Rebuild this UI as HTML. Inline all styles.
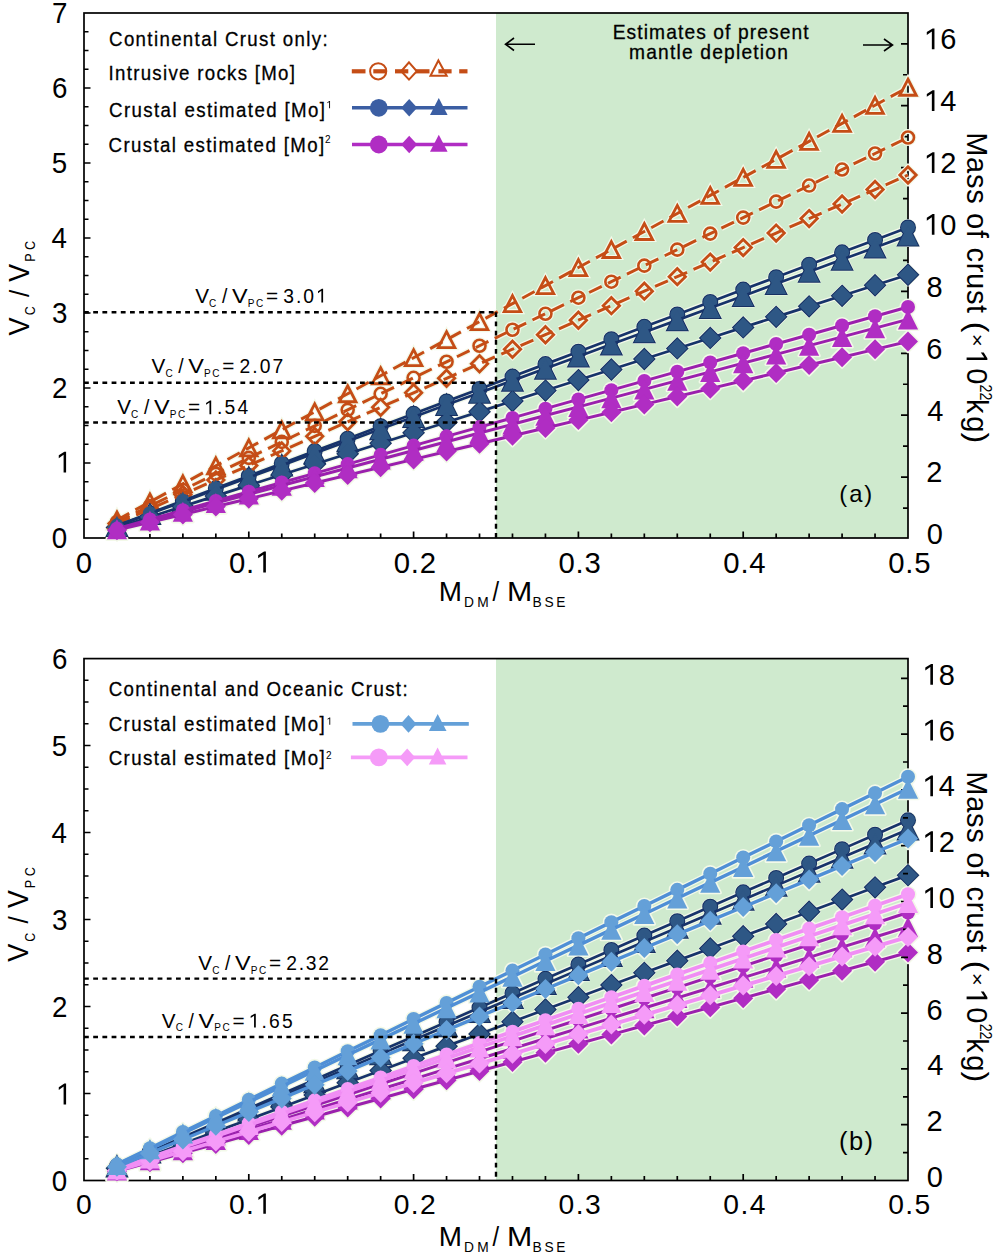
<!DOCTYPE html>
<html><head><meta charset="utf-8"><style>
html,body{margin:0;padding:0;background:#fff;}
svg{display:block;}
text{font-family:"Liberation Sans",sans-serif;}
</style></head><body>
<svg width="1000" height="1257" viewBox="0 0 1000 1257">
<rect width="1000" height="1257" fill="#fff"/>
<rect x="496.00" y="13.0" width="412.00" height="525.0" fill="#cfeace"/>
<rect x="84.0" y="13.0" width="824.0" height="525.0" fill="none" stroke="#000" stroke-width="1.7"/>
<path d="M84.0,519.25h4.5 M84.0,500.50h4.5 M84.0,481.75h4.5 M84.0,463.00h6.5 M84.0,444.25h4.5 M84.0,425.50h4.5 M84.0,406.75h4.5 M84.0,388.00h6.5 M84.0,369.25h4.5 M84.0,350.50h4.5 M84.0,331.75h4.5 M84.0,313.00h6.5 M84.0,294.25h4.5 M84.0,275.50h4.5 M84.0,256.75h4.5 M84.0,238.00h6.5 M84.0,219.25h4.5 M84.0,200.50h4.5 M84.0,181.75h4.5 M84.0,163.00h6.5 M84.0,144.25h4.5 M84.0,125.50h4.5 M84.0,106.75h4.5 M84.0,88.00h6.5 M84.0,69.25h4.5 M84.0,50.50h4.5 M84.0,31.75h4.5 M908.0,508.05h-5 M908.0,477.10h-7 M908.0,446.15h-5 M908.0,415.20h-7 M908.0,384.25h-5 M908.0,353.30h-7 M908.0,322.35h-5 M908.0,291.40h-7 M908.0,260.45h-5 M908.0,229.50h-7 M908.0,198.55h-5 M908.0,167.60h-7 M908.0,136.65h-5 M908.0,105.70h-7 M908.0,74.75h-5 M908.0,43.80h-7 M116.96,538.0v-4.5 M149.92,538.0v-4.5 M182.88,538.0v-4.5 M215.84,538.0v-4.5 M248.80,538.0v-6.5 M281.76,538.0v-4.5 M314.72,538.0v-4.5 M347.68,538.0v-4.5 M380.64,538.0v-4.5 M413.60,538.0v-6.5 M446.56,538.0v-4.5 M479.52,538.0v-4.5 M512.48,538.0v-4.5 M545.44,538.0v-4.5 M578.40,538.0v-6.5 M611.36,538.0v-4.5 M644.32,538.0v-4.5 M677.28,538.0v-4.5 M710.24,538.0v-4.5 M743.20,538.0v-6.5 M776.16,538.0v-4.5 M809.12,538.0v-4.5 M842.08,538.0v-4.5 M875.04,538.0v-4.5" stroke="#000" stroke-width="1.7" fill="none"/>
<path d="M116.96,519.97 L149.92,501.94 L182.88,483.91 L215.84,465.88 L248.80,447.85 L281.76,429.82 L314.72,411.79 L347.68,393.76 L380.64,375.73 L413.60,357.70 L446.56,339.67 L479.52,321.64 L512.48,303.61 L545.44,285.58 L578.40,267.55 L611.36,249.52 L644.32,231.49 L677.28,213.46 L710.24,195.43 L743.20,177.40 L776.16,159.37 L809.12,141.34 L842.08,123.31 L875.04,105.28 L908.00,87.25" fill="none" stroke="#f3f9e9" stroke-width="5.6" stroke-linejoin="round" stroke-dasharray="14 7"/>
<path d="M116.96,511.97L125.26,527.97L108.66,527.97Z" fill="none" stroke="#f3f9e9" stroke-width="5.199999999999999"/>
<path d="M149.92,493.94L158.22,509.94L141.62,509.94Z" fill="none" stroke="#f3f9e9" stroke-width="5.199999999999999"/>
<path d="M182.88,475.91L191.18,491.91L174.58,491.91Z" fill="none" stroke="#f3f9e9" stroke-width="5.199999999999999"/>
<path d="M215.84,457.88L224.14,473.88L207.54,473.88Z" fill="none" stroke="#f3f9e9" stroke-width="5.199999999999999"/>
<path d="M248.80,439.85L257.10,455.85L240.50,455.85Z" fill="none" stroke="#f3f9e9" stroke-width="5.199999999999999"/>
<path d="M281.76,421.82L290.06,437.82L273.46,437.82Z" fill="none" stroke="#f3f9e9" stroke-width="5.199999999999999"/>
<path d="M314.72,403.79L323.02,419.79L306.42,419.79Z" fill="none" stroke="#f3f9e9" stroke-width="5.199999999999999"/>
<path d="M347.68,385.76L355.98,401.76L339.38,401.76Z" fill="none" stroke="#f3f9e9" stroke-width="5.199999999999999"/>
<path d="M380.64,367.73L388.94,383.73L372.34,383.73Z" fill="none" stroke="#f3f9e9" stroke-width="5.199999999999999"/>
<path d="M413.60,349.70L421.90,365.70L405.30,365.70Z" fill="none" stroke="#f3f9e9" stroke-width="5.199999999999999"/>
<path d="M446.56,331.67L454.86,347.67L438.26,347.67Z" fill="none" stroke="#f3f9e9" stroke-width="5.199999999999999"/>
<path d="M479.52,313.64L487.82,329.64L471.22,329.64Z" fill="none" stroke="#f3f9e9" stroke-width="5.199999999999999"/>
<path d="M512.48,295.61L520.78,311.61L504.18,311.61Z" fill="none" stroke="#f3f9e9" stroke-width="5.199999999999999"/>
<path d="M545.44,277.58L553.74,293.58L537.14,293.58Z" fill="none" stroke="#f3f9e9" stroke-width="5.199999999999999"/>
<path d="M578.40,259.55L586.70,275.55L570.10,275.55Z" fill="none" stroke="#f3f9e9" stroke-width="5.199999999999999"/>
<path d="M611.36,241.52L619.66,257.52L603.06,257.52Z" fill="none" stroke="#f3f9e9" stroke-width="5.199999999999999"/>
<path d="M644.32,223.49L652.62,239.49L636.02,239.49Z" fill="none" stroke="#f3f9e9" stroke-width="5.199999999999999"/>
<path d="M677.28,205.46L685.58,221.46L668.98,221.46Z" fill="none" stroke="#f3f9e9" stroke-width="5.199999999999999"/>
<path d="M710.24,187.43L718.54,203.43L701.94,203.43Z" fill="none" stroke="#f3f9e9" stroke-width="5.199999999999999"/>
<path d="M743.20,169.40L751.50,185.40L734.90,185.40Z" fill="none" stroke="#f3f9e9" stroke-width="5.199999999999999"/>
<path d="M776.16,151.37L784.46,167.37L767.86,167.37Z" fill="none" stroke="#f3f9e9" stroke-width="5.199999999999999"/>
<path d="M809.12,133.34L817.42,149.34L800.82,149.34Z" fill="none" stroke="#f3f9e9" stroke-width="5.199999999999999"/>
<path d="M842.08,115.31L850.38,131.31L833.78,131.31Z" fill="none" stroke="#f3f9e9" stroke-width="5.199999999999999"/>
<path d="M875.04,97.28L883.34,113.28L866.74,113.28Z" fill="none" stroke="#f3f9e9" stroke-width="5.199999999999999"/>
<path d="M908.00,79.25L916.30,95.25L899.70,95.25Z" fill="none" stroke="#f3f9e9" stroke-width="5.199999999999999"/>
<path d="M116.96,521.98 L149.92,505.96 L182.88,489.94 L215.84,473.92 L248.80,457.90 L281.76,441.88 L314.72,425.86 L347.68,409.84 L380.64,393.82 L413.60,377.80 L446.56,361.78 L479.52,345.76 L512.48,329.74 L545.44,313.72 L578.40,297.70 L611.36,281.68 L644.32,265.66 L677.28,249.64 L710.24,233.62 L743.20,217.60 L776.16,201.58 L809.12,185.56 L842.08,169.54 L875.04,153.52 L908.00,137.50" fill="none" stroke="#f3f9e9" stroke-width="5.6" stroke-linejoin="round" stroke-dasharray="14 7"/>
<circle cx="116.96" cy="521.98" r="6.00" fill="none" stroke="#f3f9e9" stroke-width="5.0"/>
<circle cx="149.92" cy="505.96" r="6.00" fill="none" stroke="#f3f9e9" stroke-width="5.0"/>
<circle cx="182.88" cy="489.94" r="6.00" fill="none" stroke="#f3f9e9" stroke-width="5.0"/>
<circle cx="215.84" cy="473.92" r="6.00" fill="none" stroke="#f3f9e9" stroke-width="5.0"/>
<circle cx="248.80" cy="457.90" r="6.00" fill="none" stroke="#f3f9e9" stroke-width="5.0"/>
<circle cx="281.76" cy="441.88" r="6.00" fill="none" stroke="#f3f9e9" stroke-width="5.0"/>
<circle cx="314.72" cy="425.86" r="6.00" fill="none" stroke="#f3f9e9" stroke-width="5.0"/>
<circle cx="347.68" cy="409.84" r="6.00" fill="none" stroke="#f3f9e9" stroke-width="5.0"/>
<circle cx="380.64" cy="393.82" r="6.00" fill="none" stroke="#f3f9e9" stroke-width="5.0"/>
<circle cx="413.60" cy="377.80" r="6.00" fill="none" stroke="#f3f9e9" stroke-width="5.0"/>
<circle cx="446.56" cy="361.78" r="6.00" fill="none" stroke="#f3f9e9" stroke-width="5.0"/>
<circle cx="479.52" cy="345.76" r="6.00" fill="none" stroke="#f3f9e9" stroke-width="5.0"/>
<circle cx="512.48" cy="329.74" r="6.00" fill="none" stroke="#f3f9e9" stroke-width="5.0"/>
<circle cx="545.44" cy="313.72" r="6.00" fill="none" stroke="#f3f9e9" stroke-width="5.0"/>
<circle cx="578.40" cy="297.70" r="6.00" fill="none" stroke="#f3f9e9" stroke-width="5.0"/>
<circle cx="611.36" cy="281.68" r="6.00" fill="none" stroke="#f3f9e9" stroke-width="5.0"/>
<circle cx="644.32" cy="265.66" r="6.00" fill="none" stroke="#f3f9e9" stroke-width="5.0"/>
<circle cx="677.28" cy="249.64" r="6.00" fill="none" stroke="#f3f9e9" stroke-width="5.0"/>
<circle cx="710.24" cy="233.62" r="6.00" fill="none" stroke="#f3f9e9" stroke-width="5.0"/>
<circle cx="743.20" cy="217.60" r="6.00" fill="none" stroke="#f3f9e9" stroke-width="5.0"/>
<circle cx="776.16" cy="201.58" r="6.00" fill="none" stroke="#f3f9e9" stroke-width="5.0"/>
<circle cx="809.12" cy="185.56" r="6.00" fill="none" stroke="#f3f9e9" stroke-width="5.0"/>
<circle cx="842.08" cy="169.54" r="6.00" fill="none" stroke="#f3f9e9" stroke-width="5.0"/>
<circle cx="875.04" cy="153.52" r="6.00" fill="none" stroke="#f3f9e9" stroke-width="5.0"/>
<circle cx="908.00" cy="137.50" r="6.00" fill="none" stroke="#f3f9e9" stroke-width="5.0"/>
<path d="M116.96,523.48 L149.92,508.96 L182.88,494.44 L215.84,479.92 L248.80,465.40 L281.76,450.88 L314.72,436.36 L347.68,421.84 L380.64,407.32 L413.60,392.80 L446.56,378.28 L479.52,363.76 L512.48,349.24 L545.44,334.72 L578.40,320.20 L611.36,305.68 L644.32,291.16 L677.28,276.64 L710.24,262.12 L743.20,247.60 L776.16,233.08 L809.12,218.56 L842.08,204.04 L875.04,189.52 L908.00,175.00" fill="none" stroke="#f3f9e9" stroke-width="5.6" stroke-linejoin="round" stroke-dasharray="14 7"/>
<path d="M116.96,515.28L125.16,523.48L116.96,531.68L108.76,523.48Z" fill="none" stroke="#f3f9e9" stroke-width="5.199999999999999"/>
<path d="M149.92,500.76L158.12,508.96L149.92,517.16L141.72,508.96Z" fill="none" stroke="#f3f9e9" stroke-width="5.199999999999999"/>
<path d="M182.88,486.24L191.08,494.44L182.88,502.64L174.68,494.44Z" fill="none" stroke="#f3f9e9" stroke-width="5.199999999999999"/>
<path d="M215.84,471.72L224.04,479.92L215.84,488.12L207.64,479.92Z" fill="none" stroke="#f3f9e9" stroke-width="5.199999999999999"/>
<path d="M248.80,457.20L257.00,465.40L248.80,473.60L240.60,465.40Z" fill="none" stroke="#f3f9e9" stroke-width="5.199999999999999"/>
<path d="M281.76,442.68L289.96,450.88L281.76,459.08L273.56,450.88Z" fill="none" stroke="#f3f9e9" stroke-width="5.199999999999999"/>
<path d="M314.72,428.16L322.92,436.36L314.72,444.56L306.52,436.36Z" fill="none" stroke="#f3f9e9" stroke-width="5.199999999999999"/>
<path d="M347.68,413.64L355.88,421.84L347.68,430.04L339.48,421.84Z" fill="none" stroke="#f3f9e9" stroke-width="5.199999999999999"/>
<path d="M380.64,399.12L388.84,407.32L380.64,415.52L372.44,407.32Z" fill="none" stroke="#f3f9e9" stroke-width="5.199999999999999"/>
<path d="M413.60,384.60L421.80,392.80L413.60,401.00L405.40,392.80Z" fill="none" stroke="#f3f9e9" stroke-width="5.199999999999999"/>
<path d="M446.56,370.08L454.76,378.28L446.56,386.48L438.36,378.28Z" fill="none" stroke="#f3f9e9" stroke-width="5.199999999999999"/>
<path d="M479.52,355.56L487.72,363.76L479.52,371.96L471.32,363.76Z" fill="none" stroke="#f3f9e9" stroke-width="5.199999999999999"/>
<path d="M512.48,341.04L520.68,349.24L512.48,357.44L504.28,349.24Z" fill="none" stroke="#f3f9e9" stroke-width="5.199999999999999"/>
<path d="M545.44,326.52L553.64,334.72L545.44,342.92L537.24,334.72Z" fill="none" stroke="#f3f9e9" stroke-width="5.199999999999999"/>
<path d="M578.40,312.00L586.60,320.20L578.40,328.40L570.20,320.20Z" fill="none" stroke="#f3f9e9" stroke-width="5.199999999999999"/>
<path d="M611.36,297.48L619.56,305.68L611.36,313.88L603.16,305.68Z" fill="none" stroke="#f3f9e9" stroke-width="5.199999999999999"/>
<path d="M644.32,282.96L652.52,291.16L644.32,299.36L636.12,291.16Z" fill="none" stroke="#f3f9e9" stroke-width="5.199999999999999"/>
<path d="M677.28,268.44L685.48,276.64L677.28,284.84L669.08,276.64Z" fill="none" stroke="#f3f9e9" stroke-width="5.199999999999999"/>
<path d="M710.24,253.92L718.44,262.12L710.24,270.32L702.04,262.12Z" fill="none" stroke="#f3f9e9" stroke-width="5.199999999999999"/>
<path d="M743.20,239.40L751.40,247.60L743.20,255.80L735.00,247.60Z" fill="none" stroke="#f3f9e9" stroke-width="5.199999999999999"/>
<path d="M776.16,224.88L784.36,233.08L776.16,241.28L767.96,233.08Z" fill="none" stroke="#f3f9e9" stroke-width="5.199999999999999"/>
<path d="M809.12,210.36L817.32,218.56L809.12,226.76L800.92,218.56Z" fill="none" stroke="#f3f9e9" stroke-width="5.199999999999999"/>
<path d="M842.08,195.84L850.28,204.04L842.08,212.24L833.88,204.04Z" fill="none" stroke="#f3f9e9" stroke-width="5.199999999999999"/>
<path d="M875.04,181.32L883.24,189.52L875.04,197.72L866.84,189.52Z" fill="none" stroke="#f3f9e9" stroke-width="5.199999999999999"/>
<path d="M908.00,166.80L916.20,175.00L908.00,183.20L899.80,175.00Z" fill="none" stroke="#f3f9e9" stroke-width="5.199999999999999"/>
<path d="M116.96,525.58 L149.92,513.16 L182.88,500.74 L215.84,488.32 L248.80,475.90 L281.76,463.48 L314.72,451.06 L347.68,438.64 L380.64,426.22 L413.60,413.80 L446.56,401.38 L479.52,388.96 L512.48,376.54 L545.44,364.12 L578.40,351.70 L611.36,339.28 L644.32,326.86 L677.28,314.44 L710.24,302.02 L743.20,289.60 L776.16,277.18 L809.12,264.76 L842.08,252.34 L875.04,239.92 L908.00,227.50" fill="none" stroke="#f3f9e9" stroke-width="5.300000000000001" stroke-linejoin="round"/>
<circle cx="116.96" cy="525.58" r="7.00" fill="#f3f9e9" stroke="#f3f9e9" stroke-width="3.2" stroke-linejoin="round"/>
<circle cx="149.92" cy="513.16" r="7.00" fill="#f3f9e9" stroke="#f3f9e9" stroke-width="3.2" stroke-linejoin="round"/>
<circle cx="182.88" cy="500.74" r="7.00" fill="#f3f9e9" stroke="#f3f9e9" stroke-width="3.2" stroke-linejoin="round"/>
<circle cx="215.84" cy="488.32" r="7.00" fill="#f3f9e9" stroke="#f3f9e9" stroke-width="3.2" stroke-linejoin="round"/>
<circle cx="248.80" cy="475.90" r="7.00" fill="#f3f9e9" stroke="#f3f9e9" stroke-width="3.2" stroke-linejoin="round"/>
<circle cx="281.76" cy="463.48" r="7.00" fill="#f3f9e9" stroke="#f3f9e9" stroke-width="3.2" stroke-linejoin="round"/>
<circle cx="314.72" cy="451.06" r="7.00" fill="#f3f9e9" stroke="#f3f9e9" stroke-width="3.2" stroke-linejoin="round"/>
<circle cx="347.68" cy="438.64" r="7.00" fill="#f3f9e9" stroke="#f3f9e9" stroke-width="3.2" stroke-linejoin="round"/>
<circle cx="380.64" cy="426.22" r="7.00" fill="#f3f9e9" stroke="#f3f9e9" stroke-width="3.2" stroke-linejoin="round"/>
<circle cx="413.60" cy="413.80" r="7.00" fill="#f3f9e9" stroke="#f3f9e9" stroke-width="3.2" stroke-linejoin="round"/>
<circle cx="446.56" cy="401.38" r="7.00" fill="#f3f9e9" stroke="#f3f9e9" stroke-width="3.2" stroke-linejoin="round"/>
<circle cx="479.52" cy="388.96" r="7.00" fill="#f3f9e9" stroke="#f3f9e9" stroke-width="3.2" stroke-linejoin="round"/>
<circle cx="512.48" cy="376.54" r="7.00" fill="#f3f9e9" stroke="#f3f9e9" stroke-width="3.2" stroke-linejoin="round"/>
<circle cx="545.44" cy="364.12" r="7.00" fill="#f3f9e9" stroke="#f3f9e9" stroke-width="3.2" stroke-linejoin="round"/>
<circle cx="578.40" cy="351.70" r="7.00" fill="#f3f9e9" stroke="#f3f9e9" stroke-width="3.2" stroke-linejoin="round"/>
<circle cx="611.36" cy="339.28" r="7.00" fill="#f3f9e9" stroke="#f3f9e9" stroke-width="3.2" stroke-linejoin="round"/>
<circle cx="644.32" cy="326.86" r="7.00" fill="#f3f9e9" stroke="#f3f9e9" stroke-width="3.2" stroke-linejoin="round"/>
<circle cx="677.28" cy="314.44" r="7.00" fill="#f3f9e9" stroke="#f3f9e9" stroke-width="3.2" stroke-linejoin="round"/>
<circle cx="710.24" cy="302.02" r="7.00" fill="#f3f9e9" stroke="#f3f9e9" stroke-width="3.2" stroke-linejoin="round"/>
<circle cx="743.20" cy="289.60" r="7.00" fill="#f3f9e9" stroke="#f3f9e9" stroke-width="3.2" stroke-linejoin="round"/>
<circle cx="776.16" cy="277.18" r="7.00" fill="#f3f9e9" stroke="#f3f9e9" stroke-width="3.2" stroke-linejoin="round"/>
<circle cx="809.12" cy="264.76" r="7.00" fill="#f3f9e9" stroke="#f3f9e9" stroke-width="3.2" stroke-linejoin="round"/>
<circle cx="842.08" cy="252.34" r="7.00" fill="#f3f9e9" stroke="#f3f9e9" stroke-width="3.2" stroke-linejoin="round"/>
<circle cx="875.04" cy="239.92" r="7.00" fill="#f3f9e9" stroke="#f3f9e9" stroke-width="3.2" stroke-linejoin="round"/>
<circle cx="908.00" cy="227.50" r="7.00" fill="#f3f9e9" stroke="#f3f9e9" stroke-width="3.2" stroke-linejoin="round"/>
<path d="M116.96,525.89 L149.92,513.79 L182.88,501.69 L215.84,489.58 L248.80,477.48 L281.76,465.37 L314.72,453.26 L347.68,441.16 L380.64,429.06 L413.60,416.95 L446.56,404.85 L479.52,392.74 L512.48,380.63 L545.44,368.53 L578.40,356.43 L611.36,344.32 L644.32,332.21 L677.28,320.11 L710.24,308.00 L743.20,295.90 L776.16,283.79 L809.12,271.69 L842.08,259.58 L875.04,247.48 L908.00,235.38" fill="none" stroke="#f3f9e9" stroke-width="5.300000000000001" stroke-linejoin="round"/>
<path d="M116.96,515.79L127.06,536.00L106.86,536.00Z" fill="#f3f9e9" stroke="#f3f9e9" stroke-width="3.2" stroke-linejoin="round"/>
<path d="M149.92,503.69L160.02,523.89L139.82,523.89Z" fill="#f3f9e9" stroke="#f3f9e9" stroke-width="3.2" stroke-linejoin="round"/>
<path d="M182.88,491.58L192.98,511.79L172.78,511.79Z" fill="#f3f9e9" stroke="#f3f9e9" stroke-width="3.2" stroke-linejoin="round"/>
<path d="M215.84,479.48L225.94,499.68L205.74,499.68Z" fill="#f3f9e9" stroke="#f3f9e9" stroke-width="3.2" stroke-linejoin="round"/>
<path d="M248.80,467.38L258.90,487.58L238.70,487.58Z" fill="#f3f9e9" stroke="#f3f9e9" stroke-width="3.2" stroke-linejoin="round"/>
<path d="M281.76,455.27L291.86,475.47L271.66,475.47Z" fill="#f3f9e9" stroke="#f3f9e9" stroke-width="3.2" stroke-linejoin="round"/>
<path d="M314.72,443.16L324.82,463.37L304.62,463.37Z" fill="#f3f9e9" stroke="#f3f9e9" stroke-width="3.2" stroke-linejoin="round"/>
<path d="M347.68,431.06L357.78,451.26L337.58,451.26Z" fill="#f3f9e9" stroke="#f3f9e9" stroke-width="3.2" stroke-linejoin="round"/>
<path d="M380.64,418.95L390.74,439.16L370.54,439.16Z" fill="#f3f9e9" stroke="#f3f9e9" stroke-width="3.2" stroke-linejoin="round"/>
<path d="M413.60,406.85L423.70,427.05L403.50,427.05Z" fill="#f3f9e9" stroke="#f3f9e9" stroke-width="3.2" stroke-linejoin="round"/>
<path d="M446.56,394.75L456.66,414.95L436.46,414.95Z" fill="#f3f9e9" stroke="#f3f9e9" stroke-width="3.2" stroke-linejoin="round"/>
<path d="M479.52,382.64L489.62,402.84L469.42,402.84Z" fill="#f3f9e9" stroke="#f3f9e9" stroke-width="3.2" stroke-linejoin="round"/>
<path d="M512.48,370.53L522.58,390.74L502.38,390.74Z" fill="#f3f9e9" stroke="#f3f9e9" stroke-width="3.2" stroke-linejoin="round"/>
<path d="M545.44,358.43L555.54,378.63L535.34,378.63Z" fill="#f3f9e9" stroke="#f3f9e9" stroke-width="3.2" stroke-linejoin="round"/>
<path d="M578.40,346.32L588.50,366.53L568.30,366.53Z" fill="#f3f9e9" stroke="#f3f9e9" stroke-width="3.2" stroke-linejoin="round"/>
<path d="M611.36,334.22L621.46,354.42L601.26,354.42Z" fill="#f3f9e9" stroke="#f3f9e9" stroke-width="3.2" stroke-linejoin="round"/>
<path d="M644.32,322.11L654.42,342.31L634.22,342.31Z" fill="#f3f9e9" stroke="#f3f9e9" stroke-width="3.2" stroke-linejoin="round"/>
<path d="M677.28,310.01L687.38,330.21L667.18,330.21Z" fill="#f3f9e9" stroke="#f3f9e9" stroke-width="3.2" stroke-linejoin="round"/>
<path d="M710.24,297.90L720.34,318.11L700.14,318.11Z" fill="#f3f9e9" stroke="#f3f9e9" stroke-width="3.2" stroke-linejoin="round"/>
<path d="M743.20,285.80L753.30,306.00L733.10,306.00Z" fill="#f3f9e9" stroke="#f3f9e9" stroke-width="3.2" stroke-linejoin="round"/>
<path d="M776.16,273.69L786.26,293.89L766.06,293.89Z" fill="#f3f9e9" stroke="#f3f9e9" stroke-width="3.2" stroke-linejoin="round"/>
<path d="M809.12,261.59L819.22,281.79L799.02,281.79Z" fill="#f3f9e9" stroke="#f3f9e9" stroke-width="3.2" stroke-linejoin="round"/>
<path d="M842.08,249.48L852.18,269.69L831.98,269.69Z" fill="#f3f9e9" stroke="#f3f9e9" stroke-width="3.2" stroke-linejoin="round"/>
<path d="M875.04,237.38L885.14,257.58L864.94,257.58Z" fill="#f3f9e9" stroke="#f3f9e9" stroke-width="3.2" stroke-linejoin="round"/>
<path d="M908.00,225.28L918.10,245.47L897.90,245.47Z" fill="#f3f9e9" stroke="#f3f9e9" stroke-width="3.2" stroke-linejoin="round"/>
<path d="M116.96,527.47 L149.92,516.94 L182.88,506.41 L215.84,495.88 L248.80,485.35 L281.76,474.82 L314.72,464.29 L347.68,453.76 L380.64,443.23 L413.60,432.70 L446.56,422.17 L479.52,411.64 L512.48,401.11 L545.44,390.58 L578.40,380.05 L611.36,369.52 L644.32,358.99 L677.28,348.46 L710.24,337.93 L743.20,327.40 L776.16,316.87 L809.12,306.34 L842.08,295.81 L875.04,285.28 L908.00,274.75" fill="none" stroke="#f3f9e9" stroke-width="5.300000000000001" stroke-linejoin="round"/>
<path d="M116.96,517.47L126.96,527.47L116.96,537.47L106.96,527.47Z" fill="#f3f9e9" stroke="#f3f9e9" stroke-width="3.2" stroke-linejoin="round"/>
<path d="M149.92,506.94L159.92,516.94L149.92,526.94L139.92,516.94Z" fill="#f3f9e9" stroke="#f3f9e9" stroke-width="3.2" stroke-linejoin="round"/>
<path d="M182.88,496.41L192.88,506.41L182.88,516.41L172.88,506.41Z" fill="#f3f9e9" stroke="#f3f9e9" stroke-width="3.2" stroke-linejoin="round"/>
<path d="M215.84,485.88L225.84,495.88L215.84,505.88L205.84,495.88Z" fill="#f3f9e9" stroke="#f3f9e9" stroke-width="3.2" stroke-linejoin="round"/>
<path d="M248.80,475.35L258.80,485.35L248.80,495.35L238.80,485.35Z" fill="#f3f9e9" stroke="#f3f9e9" stroke-width="3.2" stroke-linejoin="round"/>
<path d="M281.76,464.82L291.76,474.82L281.76,484.82L271.76,474.82Z" fill="#f3f9e9" stroke="#f3f9e9" stroke-width="3.2" stroke-linejoin="round"/>
<path d="M314.72,454.29L324.72,464.29L314.72,474.29L304.72,464.29Z" fill="#f3f9e9" stroke="#f3f9e9" stroke-width="3.2" stroke-linejoin="round"/>
<path d="M347.68,443.76L357.68,453.76L347.68,463.76L337.68,453.76Z" fill="#f3f9e9" stroke="#f3f9e9" stroke-width="3.2" stroke-linejoin="round"/>
<path d="M380.64,433.23L390.64,443.23L380.64,453.23L370.64,443.23Z" fill="#f3f9e9" stroke="#f3f9e9" stroke-width="3.2" stroke-linejoin="round"/>
<path d="M413.60,422.70L423.60,432.70L413.60,442.70L403.60,432.70Z" fill="#f3f9e9" stroke="#f3f9e9" stroke-width="3.2" stroke-linejoin="round"/>
<path d="M446.56,412.17L456.56,422.17L446.56,432.17L436.56,422.17Z" fill="#f3f9e9" stroke="#f3f9e9" stroke-width="3.2" stroke-linejoin="round"/>
<path d="M479.52,401.64L489.52,411.64L479.52,421.64L469.52,411.64Z" fill="#f3f9e9" stroke="#f3f9e9" stroke-width="3.2" stroke-linejoin="round"/>
<path d="M512.48,391.11L522.48,401.11L512.48,411.11L502.48,401.11Z" fill="#f3f9e9" stroke="#f3f9e9" stroke-width="3.2" stroke-linejoin="round"/>
<path d="M545.44,380.58L555.44,390.58L545.44,400.58L535.44,390.58Z" fill="#f3f9e9" stroke="#f3f9e9" stroke-width="3.2" stroke-linejoin="round"/>
<path d="M578.40,370.05L588.40,380.05L578.40,390.05L568.40,380.05Z" fill="#f3f9e9" stroke="#f3f9e9" stroke-width="3.2" stroke-linejoin="round"/>
<path d="M611.36,359.52L621.36,369.52L611.36,379.52L601.36,369.52Z" fill="#f3f9e9" stroke="#f3f9e9" stroke-width="3.2" stroke-linejoin="round"/>
<path d="M644.32,348.99L654.32,358.99L644.32,368.99L634.32,358.99Z" fill="#f3f9e9" stroke="#f3f9e9" stroke-width="3.2" stroke-linejoin="round"/>
<path d="M677.28,338.46L687.28,348.46L677.28,358.46L667.28,348.46Z" fill="#f3f9e9" stroke="#f3f9e9" stroke-width="3.2" stroke-linejoin="round"/>
<path d="M710.24,327.93L720.24,337.93L710.24,347.93L700.24,337.93Z" fill="#f3f9e9" stroke="#f3f9e9" stroke-width="3.2" stroke-linejoin="round"/>
<path d="M743.20,317.40L753.20,327.40L743.20,337.40L733.20,327.40Z" fill="#f3f9e9" stroke="#f3f9e9" stroke-width="3.2" stroke-linejoin="round"/>
<path d="M776.16,306.87L786.16,316.87L776.16,326.87L766.16,316.87Z" fill="#f3f9e9" stroke="#f3f9e9" stroke-width="3.2" stroke-linejoin="round"/>
<path d="M809.12,296.34L819.12,306.34L809.12,316.34L799.12,306.34Z" fill="#f3f9e9" stroke="#f3f9e9" stroke-width="3.2" stroke-linejoin="round"/>
<path d="M842.08,285.81L852.08,295.81L842.08,305.81L832.08,295.81Z" fill="#f3f9e9" stroke="#f3f9e9" stroke-width="3.2" stroke-linejoin="round"/>
<path d="M875.04,275.28L885.04,285.28L875.04,295.28L865.04,285.28Z" fill="#f3f9e9" stroke="#f3f9e9" stroke-width="3.2" stroke-linejoin="round"/>
<path d="M908.00,264.75L918.00,274.75L908.00,284.75L898.00,274.75Z" fill="#f3f9e9" stroke="#f3f9e9" stroke-width="3.2" stroke-linejoin="round"/>
<path d="M116.96,528.76 L149.92,519.52 L182.88,510.28 L215.84,501.04 L248.80,491.80 L281.76,482.56 L314.72,473.32 L347.68,464.08 L380.64,454.84 L413.60,445.60 L446.56,436.36 L479.52,427.12 L512.48,417.88 L545.44,408.64 L578.40,399.40 L611.36,390.16 L644.32,380.92 L677.28,371.68 L710.24,362.44 L743.20,353.20 L776.16,343.96 L809.12,334.72 L842.08,325.48 L875.04,316.24 L908.00,307.00" fill="none" stroke="#f3f9e9" stroke-width="5.6" stroke-linejoin="round"/>
<circle cx="116.96" cy="528.76" r="7.00" fill="#f3f9e9" stroke="#f3f9e9" stroke-width="3.2" stroke-linejoin="round"/>
<circle cx="149.92" cy="519.52" r="7.00" fill="#f3f9e9" stroke="#f3f9e9" stroke-width="3.2" stroke-linejoin="round"/>
<circle cx="182.88" cy="510.28" r="7.00" fill="#f3f9e9" stroke="#f3f9e9" stroke-width="3.2" stroke-linejoin="round"/>
<circle cx="215.84" cy="501.04" r="7.00" fill="#f3f9e9" stroke="#f3f9e9" stroke-width="3.2" stroke-linejoin="round"/>
<circle cx="248.80" cy="491.80" r="7.00" fill="#f3f9e9" stroke="#f3f9e9" stroke-width="3.2" stroke-linejoin="round"/>
<circle cx="281.76" cy="482.56" r="7.00" fill="#f3f9e9" stroke="#f3f9e9" stroke-width="3.2" stroke-linejoin="round"/>
<circle cx="314.72" cy="473.32" r="7.00" fill="#f3f9e9" stroke="#f3f9e9" stroke-width="3.2" stroke-linejoin="round"/>
<circle cx="347.68" cy="464.08" r="7.00" fill="#f3f9e9" stroke="#f3f9e9" stroke-width="3.2" stroke-linejoin="round"/>
<circle cx="380.64" cy="454.84" r="7.00" fill="#f3f9e9" stroke="#f3f9e9" stroke-width="3.2" stroke-linejoin="round"/>
<circle cx="413.60" cy="445.60" r="7.00" fill="#f3f9e9" stroke="#f3f9e9" stroke-width="3.2" stroke-linejoin="round"/>
<circle cx="446.56" cy="436.36" r="7.00" fill="#f3f9e9" stroke="#f3f9e9" stroke-width="3.2" stroke-linejoin="round"/>
<circle cx="479.52" cy="427.12" r="7.00" fill="#f3f9e9" stroke="#f3f9e9" stroke-width="3.2" stroke-linejoin="round"/>
<circle cx="512.48" cy="417.88" r="7.00" fill="#f3f9e9" stroke="#f3f9e9" stroke-width="3.2" stroke-linejoin="round"/>
<circle cx="545.44" cy="408.64" r="7.00" fill="#f3f9e9" stroke="#f3f9e9" stroke-width="3.2" stroke-linejoin="round"/>
<circle cx="578.40" cy="399.40" r="7.00" fill="#f3f9e9" stroke="#f3f9e9" stroke-width="3.2" stroke-linejoin="round"/>
<circle cx="611.36" cy="390.16" r="7.00" fill="#f3f9e9" stroke="#f3f9e9" stroke-width="3.2" stroke-linejoin="round"/>
<circle cx="644.32" cy="380.92" r="7.00" fill="#f3f9e9" stroke="#f3f9e9" stroke-width="3.2" stroke-linejoin="round"/>
<circle cx="677.28" cy="371.68" r="7.00" fill="#f3f9e9" stroke="#f3f9e9" stroke-width="3.2" stroke-linejoin="round"/>
<circle cx="710.24" cy="362.44" r="7.00" fill="#f3f9e9" stroke="#f3f9e9" stroke-width="3.2" stroke-linejoin="round"/>
<circle cx="743.20" cy="353.20" r="7.00" fill="#f3f9e9" stroke="#f3f9e9" stroke-width="3.2" stroke-linejoin="round"/>
<circle cx="776.16" cy="343.96" r="7.00" fill="#f3f9e9" stroke="#f3f9e9" stroke-width="3.2" stroke-linejoin="round"/>
<circle cx="809.12" cy="334.72" r="7.00" fill="#f3f9e9" stroke="#f3f9e9" stroke-width="3.2" stroke-linejoin="round"/>
<circle cx="842.08" cy="325.48" r="7.00" fill="#f3f9e9" stroke="#f3f9e9" stroke-width="3.2" stroke-linejoin="round"/>
<circle cx="875.04" cy="316.24" r="7.00" fill="#f3f9e9" stroke="#f3f9e9" stroke-width="3.2" stroke-linejoin="round"/>
<circle cx="908.00" cy="307.00" r="7.00" fill="#f3f9e9" stroke="#f3f9e9" stroke-width="3.2" stroke-linejoin="round"/>
<path d="M116.96,529.25 L149.92,520.51 L182.88,511.76 L215.84,503.02 L248.80,494.27 L281.76,485.53 L314.72,476.78 L347.68,468.04 L380.64,459.30 L413.60,450.55 L446.56,441.81 L479.52,433.06 L512.48,424.31 L545.44,415.57 L578.40,406.83 L611.36,398.08 L644.32,389.33 L677.28,380.59 L710.24,371.84 L743.20,363.10 L776.16,354.36 L809.12,345.61 L842.08,336.87 L875.04,328.12 L908.00,319.38" fill="none" stroke="#f3f9e9" stroke-width="5.6" stroke-linejoin="round"/>
<path d="M116.96,519.15L127.06,539.36L106.86,539.36Z" fill="#f3f9e9" stroke="#f3f9e9" stroke-width="3.2" stroke-linejoin="round"/>
<path d="M149.92,510.41L160.02,530.61L139.82,530.61Z" fill="#f3f9e9" stroke="#f3f9e9" stroke-width="3.2" stroke-linejoin="round"/>
<path d="M182.88,501.66L192.98,521.87L172.78,521.87Z" fill="#f3f9e9" stroke="#f3f9e9" stroke-width="3.2" stroke-linejoin="round"/>
<path d="M215.84,492.92L225.94,513.12L205.74,513.12Z" fill="#f3f9e9" stroke="#f3f9e9" stroke-width="3.2" stroke-linejoin="round"/>
<path d="M248.80,484.17L258.90,504.38L238.70,504.38Z" fill="#f3f9e9" stroke="#f3f9e9" stroke-width="3.2" stroke-linejoin="round"/>
<path d="M281.76,475.43L291.86,495.63L271.66,495.63Z" fill="#f3f9e9" stroke="#f3f9e9" stroke-width="3.2" stroke-linejoin="round"/>
<path d="M314.72,466.68L324.82,486.88L304.62,486.88Z" fill="#f3f9e9" stroke="#f3f9e9" stroke-width="3.2" stroke-linejoin="round"/>
<path d="M347.68,457.94L357.78,478.14L337.58,478.14Z" fill="#f3f9e9" stroke="#f3f9e9" stroke-width="3.2" stroke-linejoin="round"/>
<path d="M380.64,449.19L390.74,469.40L370.54,469.40Z" fill="#f3f9e9" stroke="#f3f9e9" stroke-width="3.2" stroke-linejoin="round"/>
<path d="M413.60,440.45L423.70,460.65L403.50,460.65Z" fill="#f3f9e9" stroke="#f3f9e9" stroke-width="3.2" stroke-linejoin="round"/>
<path d="M446.56,431.70L456.66,451.91L436.46,451.91Z" fill="#f3f9e9" stroke="#f3f9e9" stroke-width="3.2" stroke-linejoin="round"/>
<path d="M479.52,422.96L489.62,443.16L469.42,443.16Z" fill="#f3f9e9" stroke="#f3f9e9" stroke-width="3.2" stroke-linejoin="round"/>
<path d="M512.48,414.21L522.58,434.42L502.38,434.42Z" fill="#f3f9e9" stroke="#f3f9e9" stroke-width="3.2" stroke-linejoin="round"/>
<path d="M545.44,405.47L555.54,425.67L535.34,425.67Z" fill="#f3f9e9" stroke="#f3f9e9" stroke-width="3.2" stroke-linejoin="round"/>
<path d="M578.40,396.73L588.50,416.93L568.30,416.93Z" fill="#f3f9e9" stroke="#f3f9e9" stroke-width="3.2" stroke-linejoin="round"/>
<path d="M611.36,387.98L621.46,408.18L601.26,408.18Z" fill="#f3f9e9" stroke="#f3f9e9" stroke-width="3.2" stroke-linejoin="round"/>
<path d="M644.32,379.23L654.42,399.44L634.22,399.44Z" fill="#f3f9e9" stroke="#f3f9e9" stroke-width="3.2" stroke-linejoin="round"/>
<path d="M677.28,370.49L687.38,390.69L667.18,390.69Z" fill="#f3f9e9" stroke="#f3f9e9" stroke-width="3.2" stroke-linejoin="round"/>
<path d="M710.24,361.74L720.34,381.94L700.14,381.94Z" fill="#f3f9e9" stroke="#f3f9e9" stroke-width="3.2" stroke-linejoin="round"/>
<path d="M743.20,353.00L753.30,373.20L733.10,373.20Z" fill="#f3f9e9" stroke="#f3f9e9" stroke-width="3.2" stroke-linejoin="round"/>
<path d="M776.16,344.25L786.26,364.46L766.06,364.46Z" fill="#f3f9e9" stroke="#f3f9e9" stroke-width="3.2" stroke-linejoin="round"/>
<path d="M809.12,335.51L819.22,355.71L799.02,355.71Z" fill="#f3f9e9" stroke="#f3f9e9" stroke-width="3.2" stroke-linejoin="round"/>
<path d="M842.08,326.76L852.18,346.97L831.98,346.97Z" fill="#f3f9e9" stroke="#f3f9e9" stroke-width="3.2" stroke-linejoin="round"/>
<path d="M875.04,318.02L885.14,338.22L864.94,338.22Z" fill="#f3f9e9" stroke="#f3f9e9" stroke-width="3.2" stroke-linejoin="round"/>
<path d="M908.00,309.27L918.10,329.48L897.90,329.48Z" fill="#f3f9e9" stroke="#f3f9e9" stroke-width="3.2" stroke-linejoin="round"/>
<path d="M116.96,530.14 L149.92,522.28 L182.88,514.42 L215.84,506.56 L248.80,498.70 L281.76,490.84 L314.72,482.98 L347.68,475.12 L380.64,467.26 L413.60,459.40 L446.56,451.54 L479.52,443.68 L512.48,435.82 L545.44,427.96 L578.40,420.10 L611.36,412.24 L644.32,404.38 L677.28,396.52 L710.24,388.66 L743.20,380.80 L776.16,372.94 L809.12,365.08 L842.08,357.22 L875.04,349.36 L908.00,341.50" fill="none" stroke="#f3f9e9" stroke-width="5.6" stroke-linejoin="round"/>
<path d="M116.96,520.14L126.96,530.14L116.96,540.14L106.96,530.14Z" fill="#f3f9e9" stroke="#f3f9e9" stroke-width="3.2" stroke-linejoin="round"/>
<path d="M149.92,512.28L159.92,522.28L149.92,532.28L139.92,522.28Z" fill="#f3f9e9" stroke="#f3f9e9" stroke-width="3.2" stroke-linejoin="round"/>
<path d="M182.88,504.42L192.88,514.42L182.88,524.42L172.88,514.42Z" fill="#f3f9e9" stroke="#f3f9e9" stroke-width="3.2" stroke-linejoin="round"/>
<path d="M215.84,496.56L225.84,506.56L215.84,516.56L205.84,506.56Z" fill="#f3f9e9" stroke="#f3f9e9" stroke-width="3.2" stroke-linejoin="round"/>
<path d="M248.80,488.70L258.80,498.70L248.80,508.70L238.80,498.70Z" fill="#f3f9e9" stroke="#f3f9e9" stroke-width="3.2" stroke-linejoin="round"/>
<path d="M281.76,480.84L291.76,490.84L281.76,500.84L271.76,490.84Z" fill="#f3f9e9" stroke="#f3f9e9" stroke-width="3.2" stroke-linejoin="round"/>
<path d="M314.72,472.98L324.72,482.98L314.72,492.98L304.72,482.98Z" fill="#f3f9e9" stroke="#f3f9e9" stroke-width="3.2" stroke-linejoin="round"/>
<path d="M347.68,465.12L357.68,475.12L347.68,485.12L337.68,475.12Z" fill="#f3f9e9" stroke="#f3f9e9" stroke-width="3.2" stroke-linejoin="round"/>
<path d="M380.64,457.26L390.64,467.26L380.64,477.26L370.64,467.26Z" fill="#f3f9e9" stroke="#f3f9e9" stroke-width="3.2" stroke-linejoin="round"/>
<path d="M413.60,449.40L423.60,459.40L413.60,469.40L403.60,459.40Z" fill="#f3f9e9" stroke="#f3f9e9" stroke-width="3.2" stroke-linejoin="round"/>
<path d="M446.56,441.54L456.56,451.54L446.56,461.54L436.56,451.54Z" fill="#f3f9e9" stroke="#f3f9e9" stroke-width="3.2" stroke-linejoin="round"/>
<path d="M479.52,433.68L489.52,443.68L479.52,453.68L469.52,443.68Z" fill="#f3f9e9" stroke="#f3f9e9" stroke-width="3.2" stroke-linejoin="round"/>
<path d="M512.48,425.82L522.48,435.82L512.48,445.82L502.48,435.82Z" fill="#f3f9e9" stroke="#f3f9e9" stroke-width="3.2" stroke-linejoin="round"/>
<path d="M545.44,417.96L555.44,427.96L545.44,437.96L535.44,427.96Z" fill="#f3f9e9" stroke="#f3f9e9" stroke-width="3.2" stroke-linejoin="round"/>
<path d="M578.40,410.10L588.40,420.10L578.40,430.10L568.40,420.10Z" fill="#f3f9e9" stroke="#f3f9e9" stroke-width="3.2" stroke-linejoin="round"/>
<path d="M611.36,402.24L621.36,412.24L611.36,422.24L601.36,412.24Z" fill="#f3f9e9" stroke="#f3f9e9" stroke-width="3.2" stroke-linejoin="round"/>
<path d="M644.32,394.38L654.32,404.38L644.32,414.38L634.32,404.38Z" fill="#f3f9e9" stroke="#f3f9e9" stroke-width="3.2" stroke-linejoin="round"/>
<path d="M677.28,386.52L687.28,396.52L677.28,406.52L667.28,396.52Z" fill="#f3f9e9" stroke="#f3f9e9" stroke-width="3.2" stroke-linejoin="round"/>
<path d="M710.24,378.66L720.24,388.66L710.24,398.66L700.24,388.66Z" fill="#f3f9e9" stroke="#f3f9e9" stroke-width="3.2" stroke-linejoin="round"/>
<path d="M743.20,370.80L753.20,380.80L743.20,390.80L733.20,380.80Z" fill="#f3f9e9" stroke="#f3f9e9" stroke-width="3.2" stroke-linejoin="round"/>
<path d="M776.16,362.94L786.16,372.94L776.16,382.94L766.16,372.94Z" fill="#f3f9e9" stroke="#f3f9e9" stroke-width="3.2" stroke-linejoin="round"/>
<path d="M809.12,355.08L819.12,365.08L809.12,375.08L799.12,365.08Z" fill="#f3f9e9" stroke="#f3f9e9" stroke-width="3.2" stroke-linejoin="round"/>
<path d="M842.08,347.22L852.08,357.22L842.08,367.22L832.08,357.22Z" fill="#f3f9e9" stroke="#f3f9e9" stroke-width="3.2" stroke-linejoin="round"/>
<path d="M875.04,339.36L885.04,349.36L875.04,359.36L865.04,349.36Z" fill="#f3f9e9" stroke="#f3f9e9" stroke-width="3.2" stroke-linejoin="round"/>
<path d="M908.00,331.50L918.00,341.50L908.00,351.50L898.00,341.50Z" fill="#f3f9e9" stroke="#f3f9e9" stroke-width="3.2" stroke-linejoin="round"/>
<circle cx="116.96" cy="525.58" r="7.00" fill="#163063" stroke="#163063" stroke-width="2"/>
<circle cx="149.92" cy="513.16" r="7.00" fill="#163063" stroke="#163063" stroke-width="2"/>
<circle cx="182.88" cy="500.74" r="7.00" fill="#163063" stroke="#163063" stroke-width="2"/>
<circle cx="215.84" cy="488.32" r="7.00" fill="#163063" stroke="#163063" stroke-width="2"/>
<circle cx="248.80" cy="475.90" r="7.00" fill="#163063" stroke="#163063" stroke-width="2"/>
<circle cx="281.76" cy="463.48" r="7.00" fill="#163063" stroke="#163063" stroke-width="2"/>
<circle cx="314.72" cy="451.06" r="7.00" fill="#163063" stroke="#163063" stroke-width="2"/>
<circle cx="347.68" cy="438.64" r="7.00" fill="#163063" stroke="#163063" stroke-width="2"/>
<circle cx="380.64" cy="426.22" r="7.00" fill="#163063" stroke="#163063" stroke-width="2"/>
<circle cx="413.60" cy="413.80" r="7.00" fill="#163063" stroke="#163063" stroke-width="2"/>
<circle cx="446.56" cy="401.38" r="7.00" fill="#163063" stroke="#163063" stroke-width="2"/>
<circle cx="479.52" cy="388.96" r="7.00" fill="#163063" stroke="#163063" stroke-width="2"/>
<circle cx="512.48" cy="376.54" r="7.00" fill="#163063" stroke="#163063" stroke-width="2"/>
<circle cx="545.44" cy="364.12" r="7.00" fill="#163063" stroke="#163063" stroke-width="2"/>
<circle cx="578.40" cy="351.70" r="7.00" fill="#163063" stroke="#163063" stroke-width="2"/>
<circle cx="611.36" cy="339.28" r="7.00" fill="#163063" stroke="#163063" stroke-width="2"/>
<circle cx="644.32" cy="326.86" r="7.00" fill="#163063" stroke="#163063" stroke-width="2"/>
<circle cx="677.28" cy="314.44" r="7.00" fill="#163063" stroke="#163063" stroke-width="2"/>
<circle cx="710.24" cy="302.02" r="7.00" fill="#163063" stroke="#163063" stroke-width="2"/>
<circle cx="743.20" cy="289.60" r="7.00" fill="#163063" stroke="#163063" stroke-width="2"/>
<circle cx="776.16" cy="277.18" r="7.00" fill="#163063" stroke="#163063" stroke-width="2"/>
<circle cx="809.12" cy="264.76" r="7.00" fill="#163063" stroke="#163063" stroke-width="2"/>
<circle cx="842.08" cy="252.34" r="7.00" fill="#163063" stroke="#163063" stroke-width="2"/>
<circle cx="875.04" cy="239.92" r="7.00" fill="#163063" stroke="#163063" stroke-width="2"/>
<circle cx="908.00" cy="227.50" r="7.00" fill="#163063" stroke="#163063" stroke-width="2"/>
<path d="M116.96,515.79L127.06,536.00L106.86,536.00Z" fill="#163063" stroke="#163063" stroke-width="2"/>
<path d="M149.92,503.69L160.02,523.89L139.82,523.89Z" fill="#163063" stroke="#163063" stroke-width="2"/>
<path d="M182.88,491.58L192.98,511.79L172.78,511.79Z" fill="#163063" stroke="#163063" stroke-width="2"/>
<path d="M215.84,479.48L225.94,499.68L205.74,499.68Z" fill="#163063" stroke="#163063" stroke-width="2"/>
<path d="M248.80,467.38L258.90,487.58L238.70,487.58Z" fill="#163063" stroke="#163063" stroke-width="2"/>
<path d="M281.76,455.27L291.86,475.47L271.66,475.47Z" fill="#163063" stroke="#163063" stroke-width="2"/>
<path d="M314.72,443.16L324.82,463.37L304.62,463.37Z" fill="#163063" stroke="#163063" stroke-width="2"/>
<path d="M347.68,431.06L357.78,451.26L337.58,451.26Z" fill="#163063" stroke="#163063" stroke-width="2"/>
<path d="M380.64,418.95L390.74,439.16L370.54,439.16Z" fill="#163063" stroke="#163063" stroke-width="2"/>
<path d="M413.60,406.85L423.70,427.05L403.50,427.05Z" fill="#163063" stroke="#163063" stroke-width="2"/>
<path d="M446.56,394.75L456.66,414.95L436.46,414.95Z" fill="#163063" stroke="#163063" stroke-width="2"/>
<path d="M479.52,382.64L489.62,402.84L469.42,402.84Z" fill="#163063" stroke="#163063" stroke-width="2"/>
<path d="M512.48,370.53L522.58,390.74L502.38,390.74Z" fill="#163063" stroke="#163063" stroke-width="2"/>
<path d="M545.44,358.43L555.54,378.63L535.34,378.63Z" fill="#163063" stroke="#163063" stroke-width="2"/>
<path d="M578.40,346.32L588.50,366.53L568.30,366.53Z" fill="#163063" stroke="#163063" stroke-width="2"/>
<path d="M611.36,334.22L621.46,354.42L601.26,354.42Z" fill="#163063" stroke="#163063" stroke-width="2"/>
<path d="M644.32,322.11L654.42,342.31L634.22,342.31Z" fill="#163063" stroke="#163063" stroke-width="2"/>
<path d="M677.28,310.01L687.38,330.21L667.18,330.21Z" fill="#163063" stroke="#163063" stroke-width="2"/>
<path d="M710.24,297.90L720.34,318.11L700.14,318.11Z" fill="#163063" stroke="#163063" stroke-width="2"/>
<path d="M743.20,285.80L753.30,306.00L733.10,306.00Z" fill="#163063" stroke="#163063" stroke-width="2"/>
<path d="M776.16,273.69L786.26,293.89L766.06,293.89Z" fill="#163063" stroke="#163063" stroke-width="2"/>
<path d="M809.12,261.59L819.22,281.79L799.02,281.79Z" fill="#163063" stroke="#163063" stroke-width="2"/>
<path d="M842.08,249.48L852.18,269.69L831.98,269.69Z" fill="#163063" stroke="#163063" stroke-width="2"/>
<path d="M875.04,237.38L885.14,257.58L864.94,257.58Z" fill="#163063" stroke="#163063" stroke-width="2"/>
<path d="M908.00,225.28L918.10,245.47L897.90,245.47Z" fill="#163063" stroke="#163063" stroke-width="2"/>
<path d="M116.96,517.47L126.96,527.47L116.96,537.47L106.96,527.47Z" fill="#163063" stroke="#163063" stroke-width="2"/>
<path d="M149.92,506.94L159.92,516.94L149.92,526.94L139.92,516.94Z" fill="#163063" stroke="#163063" stroke-width="2"/>
<path d="M182.88,496.41L192.88,506.41L182.88,516.41L172.88,506.41Z" fill="#163063" stroke="#163063" stroke-width="2"/>
<path d="M215.84,485.88L225.84,495.88L215.84,505.88L205.84,495.88Z" fill="#163063" stroke="#163063" stroke-width="2"/>
<path d="M248.80,475.35L258.80,485.35L248.80,495.35L238.80,485.35Z" fill="#163063" stroke="#163063" stroke-width="2"/>
<path d="M281.76,464.82L291.76,474.82L281.76,484.82L271.76,474.82Z" fill="#163063" stroke="#163063" stroke-width="2"/>
<path d="M314.72,454.29L324.72,464.29L314.72,474.29L304.72,464.29Z" fill="#163063" stroke="#163063" stroke-width="2"/>
<path d="M347.68,443.76L357.68,453.76L347.68,463.76L337.68,453.76Z" fill="#163063" stroke="#163063" stroke-width="2"/>
<path d="M380.64,433.23L390.64,443.23L380.64,453.23L370.64,443.23Z" fill="#163063" stroke="#163063" stroke-width="2"/>
<path d="M413.60,422.70L423.60,432.70L413.60,442.70L403.60,432.70Z" fill="#163063" stroke="#163063" stroke-width="2"/>
<path d="M446.56,412.17L456.56,422.17L446.56,432.17L436.56,422.17Z" fill="#163063" stroke="#163063" stroke-width="2"/>
<path d="M479.52,401.64L489.52,411.64L479.52,421.64L469.52,411.64Z" fill="#163063" stroke="#163063" stroke-width="2"/>
<path d="M512.48,391.11L522.48,401.11L512.48,411.11L502.48,401.11Z" fill="#163063" stroke="#163063" stroke-width="2"/>
<path d="M545.44,380.58L555.44,390.58L545.44,400.58L535.44,390.58Z" fill="#163063" stroke="#163063" stroke-width="2"/>
<path d="M578.40,370.05L588.40,380.05L578.40,390.05L568.40,380.05Z" fill="#163063" stroke="#163063" stroke-width="2"/>
<path d="M611.36,359.52L621.36,369.52L611.36,379.52L601.36,369.52Z" fill="#163063" stroke="#163063" stroke-width="2"/>
<path d="M644.32,348.99L654.32,358.99L644.32,368.99L634.32,358.99Z" fill="#163063" stroke="#163063" stroke-width="2"/>
<path d="M677.28,338.46L687.28,348.46L677.28,358.46L667.28,348.46Z" fill="#163063" stroke="#163063" stroke-width="2"/>
<path d="M710.24,327.93L720.24,337.93L710.24,347.93L700.24,337.93Z" fill="#163063" stroke="#163063" stroke-width="2"/>
<path d="M743.20,317.40L753.20,327.40L743.20,337.40L733.20,327.40Z" fill="#163063" stroke="#163063" stroke-width="2"/>
<path d="M776.16,306.87L786.16,316.87L776.16,326.87L766.16,316.87Z" fill="#163063" stroke="#163063" stroke-width="2"/>
<path d="M809.12,296.34L819.12,306.34L809.12,316.34L799.12,306.34Z" fill="#163063" stroke="#163063" stroke-width="2"/>
<path d="M842.08,285.81L852.08,295.81L842.08,305.81L832.08,295.81Z" fill="#163063" stroke="#163063" stroke-width="2"/>
<path d="M875.04,275.28L885.04,285.28L875.04,295.28L865.04,285.28Z" fill="#163063" stroke="#163063" stroke-width="2"/>
<path d="M908.00,264.75L918.00,274.75L908.00,284.75L898.00,274.75Z" fill="#163063" stroke="#163063" stroke-width="2"/>
<path d="M116.96,519.97 L149.92,501.94 L182.88,483.91 L215.84,465.88 L248.80,447.85 L281.76,429.82 L314.72,411.79 L347.68,393.76 L380.64,375.73 L413.60,357.70 L446.56,339.67 L479.52,321.64 L512.48,303.61 L545.44,285.58 L578.40,267.55 L611.36,249.52 L644.32,231.49 L677.28,213.46 L710.24,195.43 L743.20,177.40 L776.16,159.37 L809.12,141.34 L842.08,123.31 L875.04,105.28 L908.00,87.25" fill="none" stroke="#c54d16" stroke-width="3.0" stroke-linejoin="round" stroke-dasharray="14 7"/>
<path d="M116.96,511.97L125.26,527.97L108.66,527.97Z" fill="none" stroke="#c54d16" stroke-width="2.8"/>
<path d="M149.92,493.94L158.22,509.94L141.62,509.94Z" fill="none" stroke="#c54d16" stroke-width="2.8"/>
<path d="M182.88,475.91L191.18,491.91L174.58,491.91Z" fill="none" stroke="#c54d16" stroke-width="2.8"/>
<path d="M215.84,457.88L224.14,473.88L207.54,473.88Z" fill="none" stroke="#c54d16" stroke-width="2.8"/>
<path d="M248.80,439.85L257.10,455.85L240.50,455.85Z" fill="none" stroke="#c54d16" stroke-width="2.8"/>
<path d="M281.76,421.82L290.06,437.82L273.46,437.82Z" fill="none" stroke="#c54d16" stroke-width="2.8"/>
<path d="M314.72,403.79L323.02,419.79L306.42,419.79Z" fill="none" stroke="#c54d16" stroke-width="2.8"/>
<path d="M347.68,385.76L355.98,401.76L339.38,401.76Z" fill="none" stroke="#c54d16" stroke-width="2.8"/>
<path d="M380.64,367.73L388.94,383.73L372.34,383.73Z" fill="none" stroke="#c54d16" stroke-width="2.8"/>
<path d="M413.60,349.70L421.90,365.70L405.30,365.70Z" fill="none" stroke="#c54d16" stroke-width="2.8"/>
<path d="M446.56,331.67L454.86,347.67L438.26,347.67Z" fill="none" stroke="#c54d16" stroke-width="2.8"/>
<path d="M479.52,313.64L487.82,329.64L471.22,329.64Z" fill="none" stroke="#c54d16" stroke-width="2.8"/>
<path d="M512.48,295.61L520.78,311.61L504.18,311.61Z" fill="none" stroke="#c54d16" stroke-width="2.8"/>
<path d="M545.44,277.58L553.74,293.58L537.14,293.58Z" fill="none" stroke="#c54d16" stroke-width="2.8"/>
<path d="M578.40,259.55L586.70,275.55L570.10,275.55Z" fill="none" stroke="#c54d16" stroke-width="2.8"/>
<path d="M611.36,241.52L619.66,257.52L603.06,257.52Z" fill="none" stroke="#c54d16" stroke-width="2.8"/>
<path d="M644.32,223.49L652.62,239.49L636.02,239.49Z" fill="none" stroke="#c54d16" stroke-width="2.8"/>
<path d="M677.28,205.46L685.58,221.46L668.98,221.46Z" fill="none" stroke="#c54d16" stroke-width="2.8"/>
<path d="M710.24,187.43L718.54,203.43L701.94,203.43Z" fill="none" stroke="#c54d16" stroke-width="2.8"/>
<path d="M743.20,169.40L751.50,185.40L734.90,185.40Z" fill="none" stroke="#c54d16" stroke-width="2.8"/>
<path d="M776.16,151.37L784.46,167.37L767.86,167.37Z" fill="none" stroke="#c54d16" stroke-width="2.8"/>
<path d="M809.12,133.34L817.42,149.34L800.82,149.34Z" fill="none" stroke="#c54d16" stroke-width="2.8"/>
<path d="M842.08,115.31L850.38,131.31L833.78,131.31Z" fill="none" stroke="#c54d16" stroke-width="2.8"/>
<path d="M875.04,97.28L883.34,113.28L866.74,113.28Z" fill="none" stroke="#c54d16" stroke-width="2.8"/>
<path d="M908.00,79.25L916.30,95.25L899.70,95.25Z" fill="none" stroke="#c54d16" stroke-width="2.8"/>
<path d="M116.96,521.98 L149.92,505.96 L182.88,489.94 L215.84,473.92 L248.80,457.90 L281.76,441.88 L314.72,425.86 L347.68,409.84 L380.64,393.82 L413.60,377.80 L446.56,361.78 L479.52,345.76 L512.48,329.74 L545.44,313.72 L578.40,297.70 L611.36,281.68 L644.32,265.66 L677.28,249.64 L710.24,233.62 L743.20,217.60 L776.16,201.58 L809.12,185.56 L842.08,169.54 L875.04,153.52 L908.00,137.50" fill="none" stroke="#c54d16" stroke-width="3.0" stroke-linejoin="round" stroke-dasharray="14 7"/>
<circle cx="116.96" cy="521.98" r="6.00" fill="none" stroke="#c54d16" stroke-width="2.6"/>
<circle cx="149.92" cy="505.96" r="6.00" fill="none" stroke="#c54d16" stroke-width="2.6"/>
<circle cx="182.88" cy="489.94" r="6.00" fill="none" stroke="#c54d16" stroke-width="2.6"/>
<circle cx="215.84" cy="473.92" r="6.00" fill="none" stroke="#c54d16" stroke-width="2.6"/>
<circle cx="248.80" cy="457.90" r="6.00" fill="none" stroke="#c54d16" stroke-width="2.6"/>
<circle cx="281.76" cy="441.88" r="6.00" fill="none" stroke="#c54d16" stroke-width="2.6"/>
<circle cx="314.72" cy="425.86" r="6.00" fill="none" stroke="#c54d16" stroke-width="2.6"/>
<circle cx="347.68" cy="409.84" r="6.00" fill="none" stroke="#c54d16" stroke-width="2.6"/>
<circle cx="380.64" cy="393.82" r="6.00" fill="none" stroke="#c54d16" stroke-width="2.6"/>
<circle cx="413.60" cy="377.80" r="6.00" fill="none" stroke="#c54d16" stroke-width="2.6"/>
<circle cx="446.56" cy="361.78" r="6.00" fill="none" stroke="#c54d16" stroke-width="2.6"/>
<circle cx="479.52" cy="345.76" r="6.00" fill="none" stroke="#c54d16" stroke-width="2.6"/>
<circle cx="512.48" cy="329.74" r="6.00" fill="none" stroke="#c54d16" stroke-width="2.6"/>
<circle cx="545.44" cy="313.72" r="6.00" fill="none" stroke="#c54d16" stroke-width="2.6"/>
<circle cx="578.40" cy="297.70" r="6.00" fill="none" stroke="#c54d16" stroke-width="2.6"/>
<circle cx="611.36" cy="281.68" r="6.00" fill="none" stroke="#c54d16" stroke-width="2.6"/>
<circle cx="644.32" cy="265.66" r="6.00" fill="none" stroke="#c54d16" stroke-width="2.6"/>
<circle cx="677.28" cy="249.64" r="6.00" fill="none" stroke="#c54d16" stroke-width="2.6"/>
<circle cx="710.24" cy="233.62" r="6.00" fill="none" stroke="#c54d16" stroke-width="2.6"/>
<circle cx="743.20" cy="217.60" r="6.00" fill="none" stroke="#c54d16" stroke-width="2.6"/>
<circle cx="776.16" cy="201.58" r="6.00" fill="none" stroke="#c54d16" stroke-width="2.6"/>
<circle cx="809.12" cy="185.56" r="6.00" fill="none" stroke="#c54d16" stroke-width="2.6"/>
<circle cx="842.08" cy="169.54" r="6.00" fill="none" stroke="#c54d16" stroke-width="2.6"/>
<circle cx="875.04" cy="153.52" r="6.00" fill="none" stroke="#c54d16" stroke-width="2.6"/>
<circle cx="908.00" cy="137.50" r="6.00" fill="none" stroke="#c54d16" stroke-width="2.6"/>
<path d="M116.96,523.48 L149.92,508.96 L182.88,494.44 L215.84,479.92 L248.80,465.40 L281.76,450.88 L314.72,436.36 L347.68,421.84 L380.64,407.32 L413.60,392.80 L446.56,378.28 L479.52,363.76 L512.48,349.24 L545.44,334.72 L578.40,320.20 L611.36,305.68 L644.32,291.16 L677.28,276.64 L710.24,262.12 L743.20,247.60 L776.16,233.08 L809.12,218.56 L842.08,204.04 L875.04,189.52 L908.00,175.00" fill="none" stroke="#c54d16" stroke-width="3.0" stroke-linejoin="round" stroke-dasharray="14 7"/>
<path d="M116.96,515.28L125.16,523.48L116.96,531.68L108.76,523.48Z" fill="none" stroke="#c54d16" stroke-width="2.8"/>
<path d="M149.92,500.76L158.12,508.96L149.92,517.16L141.72,508.96Z" fill="none" stroke="#c54d16" stroke-width="2.8"/>
<path d="M182.88,486.24L191.08,494.44L182.88,502.64L174.68,494.44Z" fill="none" stroke="#c54d16" stroke-width="2.8"/>
<path d="M215.84,471.72L224.04,479.92L215.84,488.12L207.64,479.92Z" fill="none" stroke="#c54d16" stroke-width="2.8"/>
<path d="M248.80,457.20L257.00,465.40L248.80,473.60L240.60,465.40Z" fill="none" stroke="#c54d16" stroke-width="2.8"/>
<path d="M281.76,442.68L289.96,450.88L281.76,459.08L273.56,450.88Z" fill="none" stroke="#c54d16" stroke-width="2.8"/>
<path d="M314.72,428.16L322.92,436.36L314.72,444.56L306.52,436.36Z" fill="none" stroke="#c54d16" stroke-width="2.8"/>
<path d="M347.68,413.64L355.88,421.84L347.68,430.04L339.48,421.84Z" fill="none" stroke="#c54d16" stroke-width="2.8"/>
<path d="M380.64,399.12L388.84,407.32L380.64,415.52L372.44,407.32Z" fill="none" stroke="#c54d16" stroke-width="2.8"/>
<path d="M413.60,384.60L421.80,392.80L413.60,401.00L405.40,392.80Z" fill="none" stroke="#c54d16" stroke-width="2.8"/>
<path d="M446.56,370.08L454.76,378.28L446.56,386.48L438.36,378.28Z" fill="none" stroke="#c54d16" stroke-width="2.8"/>
<path d="M479.52,355.56L487.72,363.76L479.52,371.96L471.32,363.76Z" fill="none" stroke="#c54d16" stroke-width="2.8"/>
<path d="M512.48,341.04L520.68,349.24L512.48,357.44L504.28,349.24Z" fill="none" stroke="#c54d16" stroke-width="2.8"/>
<path d="M545.44,326.52L553.64,334.72L545.44,342.92L537.24,334.72Z" fill="none" stroke="#c54d16" stroke-width="2.8"/>
<path d="M578.40,312.00L586.60,320.20L578.40,328.40L570.20,320.20Z" fill="none" stroke="#c54d16" stroke-width="2.8"/>
<path d="M611.36,297.48L619.56,305.68L611.36,313.88L603.16,305.68Z" fill="none" stroke="#c54d16" stroke-width="2.8"/>
<path d="M644.32,282.96L652.52,291.16L644.32,299.36L636.12,291.16Z" fill="none" stroke="#c54d16" stroke-width="2.8"/>
<path d="M677.28,268.44L685.48,276.64L677.28,284.84L669.08,276.64Z" fill="none" stroke="#c54d16" stroke-width="2.8"/>
<path d="M710.24,253.92L718.44,262.12L710.24,270.32L702.04,262.12Z" fill="none" stroke="#c54d16" stroke-width="2.8"/>
<path d="M743.20,239.40L751.40,247.60L743.20,255.80L735.00,247.60Z" fill="none" stroke="#c54d16" stroke-width="2.8"/>
<path d="M776.16,224.88L784.36,233.08L776.16,241.28L767.96,233.08Z" fill="none" stroke="#c54d16" stroke-width="2.8"/>
<path d="M809.12,210.36L817.32,218.56L809.12,226.76L800.92,218.56Z" fill="none" stroke="#c54d16" stroke-width="2.8"/>
<path d="M842.08,195.84L850.28,204.04L842.08,212.24L833.88,204.04Z" fill="none" stroke="#c54d16" stroke-width="2.8"/>
<path d="M875.04,181.32L883.24,189.52L875.04,197.72L866.84,189.52Z" fill="none" stroke="#c54d16" stroke-width="2.8"/>
<path d="M908.00,166.80L916.20,175.00L908.00,183.20L899.80,175.00Z" fill="none" stroke="#c54d16" stroke-width="2.8"/>
<path d="M116.96,525.58 L149.92,513.16 L182.88,500.74 L215.84,488.32 L248.80,475.90 L281.76,463.48 L314.72,451.06 L347.68,438.64 L380.64,426.22 L413.60,413.80 L446.56,401.38 L479.52,388.96 L512.48,376.54 L545.44,364.12 L578.40,351.70 L611.36,339.28 L644.32,326.86 L677.28,314.44 L710.24,302.02 L743.20,289.60 L776.16,277.18 L809.12,264.76 L842.08,252.34 L875.04,239.92 L908.00,227.50" fill="none" stroke="#17336a" stroke-width="2.7" stroke-linejoin="round"/>
<circle cx="116.96" cy="525.58" r="7.00" fill="#2e5785"/>
<circle cx="149.92" cy="513.16" r="7.00" fill="#2e5785"/>
<circle cx="182.88" cy="500.74" r="7.00" fill="#2e5785"/>
<circle cx="215.84" cy="488.32" r="7.00" fill="#2e5785"/>
<circle cx="248.80" cy="475.90" r="7.00" fill="#2e5785"/>
<circle cx="281.76" cy="463.48" r="7.00" fill="#2e5785"/>
<circle cx="314.72" cy="451.06" r="7.00" fill="#2e5785"/>
<circle cx="347.68" cy="438.64" r="7.00" fill="#2e5785"/>
<circle cx="380.64" cy="426.22" r="7.00" fill="#2e5785"/>
<circle cx="413.60" cy="413.80" r="7.00" fill="#2e5785"/>
<circle cx="446.56" cy="401.38" r="7.00" fill="#2e5785"/>
<circle cx="479.52" cy="388.96" r="7.00" fill="#2e5785"/>
<circle cx="512.48" cy="376.54" r="7.00" fill="#2e5785"/>
<circle cx="545.44" cy="364.12" r="7.00" fill="#2e5785"/>
<circle cx="578.40" cy="351.70" r="7.00" fill="#2e5785"/>
<circle cx="611.36" cy="339.28" r="7.00" fill="#2e5785"/>
<circle cx="644.32" cy="326.86" r="7.00" fill="#2e5785"/>
<circle cx="677.28" cy="314.44" r="7.00" fill="#2e5785"/>
<circle cx="710.24" cy="302.02" r="7.00" fill="#2e5785"/>
<circle cx="743.20" cy="289.60" r="7.00" fill="#2e5785"/>
<circle cx="776.16" cy="277.18" r="7.00" fill="#2e5785"/>
<circle cx="809.12" cy="264.76" r="7.00" fill="#2e5785"/>
<circle cx="842.08" cy="252.34" r="7.00" fill="#2e5785"/>
<circle cx="875.04" cy="239.92" r="7.00" fill="#2e5785"/>
<circle cx="908.00" cy="227.50" r="7.00" fill="#2e5785"/>
<path d="M116.96,525.89 L149.92,513.79 L182.88,501.69 L215.84,489.58 L248.80,477.48 L281.76,465.37 L314.72,453.26 L347.68,441.16 L380.64,429.06 L413.60,416.95 L446.56,404.85 L479.52,392.74 L512.48,380.63 L545.44,368.53 L578.40,356.43 L611.36,344.32 L644.32,332.21 L677.28,320.11 L710.24,308.00 L743.20,295.90 L776.16,283.79 L809.12,271.69 L842.08,259.58 L875.04,247.48 L908.00,235.38" fill="none" stroke="#17336a" stroke-width="2.7" stroke-linejoin="round"/>
<path d="M116.96,515.79L127.06,536.00L106.86,536.00Z" fill="#2e5785"/>
<path d="M149.92,503.69L160.02,523.89L139.82,523.89Z" fill="#2e5785"/>
<path d="M182.88,491.58L192.98,511.79L172.78,511.79Z" fill="#2e5785"/>
<path d="M215.84,479.48L225.94,499.68L205.74,499.68Z" fill="#2e5785"/>
<path d="M248.80,467.38L258.90,487.58L238.70,487.58Z" fill="#2e5785"/>
<path d="M281.76,455.27L291.86,475.47L271.66,475.47Z" fill="#2e5785"/>
<path d="M314.72,443.16L324.82,463.37L304.62,463.37Z" fill="#2e5785"/>
<path d="M347.68,431.06L357.78,451.26L337.58,451.26Z" fill="#2e5785"/>
<path d="M380.64,418.95L390.74,439.16L370.54,439.16Z" fill="#2e5785"/>
<path d="M413.60,406.85L423.70,427.05L403.50,427.05Z" fill="#2e5785"/>
<path d="M446.56,394.75L456.66,414.95L436.46,414.95Z" fill="#2e5785"/>
<path d="M479.52,382.64L489.62,402.84L469.42,402.84Z" fill="#2e5785"/>
<path d="M512.48,370.53L522.58,390.74L502.38,390.74Z" fill="#2e5785"/>
<path d="M545.44,358.43L555.54,378.63L535.34,378.63Z" fill="#2e5785"/>
<path d="M578.40,346.32L588.50,366.53L568.30,366.53Z" fill="#2e5785"/>
<path d="M611.36,334.22L621.46,354.42L601.26,354.42Z" fill="#2e5785"/>
<path d="M644.32,322.11L654.42,342.31L634.22,342.31Z" fill="#2e5785"/>
<path d="M677.28,310.01L687.38,330.21L667.18,330.21Z" fill="#2e5785"/>
<path d="M710.24,297.90L720.34,318.11L700.14,318.11Z" fill="#2e5785"/>
<path d="M743.20,285.80L753.30,306.00L733.10,306.00Z" fill="#2e5785"/>
<path d="M776.16,273.69L786.26,293.89L766.06,293.89Z" fill="#2e5785"/>
<path d="M809.12,261.59L819.22,281.79L799.02,281.79Z" fill="#2e5785"/>
<path d="M842.08,249.48L852.18,269.69L831.98,269.69Z" fill="#2e5785"/>
<path d="M875.04,237.38L885.14,257.58L864.94,257.58Z" fill="#2e5785"/>
<path d="M908.00,225.28L918.10,245.47L897.90,245.47Z" fill="#2e5785"/>
<path d="M116.96,527.47 L149.92,516.94 L182.88,506.41 L215.84,495.88 L248.80,485.35 L281.76,474.82 L314.72,464.29 L347.68,453.76 L380.64,443.23 L413.60,432.70 L446.56,422.17 L479.52,411.64 L512.48,401.11 L545.44,390.58 L578.40,380.05 L611.36,369.52 L644.32,358.99 L677.28,348.46 L710.24,337.93 L743.20,327.40 L776.16,316.87 L809.12,306.34 L842.08,295.81 L875.04,285.28 L908.00,274.75" fill="none" stroke="#17336a" stroke-width="2.7" stroke-linejoin="round"/>
<path d="M116.96,517.47L126.96,527.47L116.96,537.47L106.96,527.47Z" fill="#2e5785"/>
<path d="M149.92,506.94L159.92,516.94L149.92,526.94L139.92,516.94Z" fill="#2e5785"/>
<path d="M182.88,496.41L192.88,506.41L182.88,516.41L172.88,506.41Z" fill="#2e5785"/>
<path d="M215.84,485.88L225.84,495.88L215.84,505.88L205.84,495.88Z" fill="#2e5785"/>
<path d="M248.80,475.35L258.80,485.35L248.80,495.35L238.80,485.35Z" fill="#2e5785"/>
<path d="M281.76,464.82L291.76,474.82L281.76,484.82L271.76,474.82Z" fill="#2e5785"/>
<path d="M314.72,454.29L324.72,464.29L314.72,474.29L304.72,464.29Z" fill="#2e5785"/>
<path d="M347.68,443.76L357.68,453.76L347.68,463.76L337.68,453.76Z" fill="#2e5785"/>
<path d="M380.64,433.23L390.64,443.23L380.64,453.23L370.64,443.23Z" fill="#2e5785"/>
<path d="M413.60,422.70L423.60,432.70L413.60,442.70L403.60,432.70Z" fill="#2e5785"/>
<path d="M446.56,412.17L456.56,422.17L446.56,432.17L436.56,422.17Z" fill="#2e5785"/>
<path d="M479.52,401.64L489.52,411.64L479.52,421.64L469.52,411.64Z" fill="#2e5785"/>
<path d="M512.48,391.11L522.48,401.11L512.48,411.11L502.48,401.11Z" fill="#2e5785"/>
<path d="M545.44,380.58L555.44,390.58L545.44,400.58L535.44,390.58Z" fill="#2e5785"/>
<path d="M578.40,370.05L588.40,380.05L578.40,390.05L568.40,380.05Z" fill="#2e5785"/>
<path d="M611.36,359.52L621.36,369.52L611.36,379.52L601.36,369.52Z" fill="#2e5785"/>
<path d="M644.32,348.99L654.32,358.99L644.32,368.99L634.32,358.99Z" fill="#2e5785"/>
<path d="M677.28,338.46L687.28,348.46L677.28,358.46L667.28,348.46Z" fill="#2e5785"/>
<path d="M710.24,327.93L720.24,337.93L710.24,347.93L700.24,337.93Z" fill="#2e5785"/>
<path d="M743.20,317.40L753.20,327.40L743.20,337.40L733.20,327.40Z" fill="#2e5785"/>
<path d="M776.16,306.87L786.16,316.87L776.16,326.87L766.16,316.87Z" fill="#2e5785"/>
<path d="M809.12,296.34L819.12,306.34L809.12,316.34L799.12,306.34Z" fill="#2e5785"/>
<path d="M842.08,285.81L852.08,295.81L842.08,305.81L832.08,295.81Z" fill="#2e5785"/>
<path d="M875.04,275.28L885.04,285.28L875.04,295.28L865.04,285.28Z" fill="#2e5785"/>
<path d="M908.00,264.75L918.00,274.75L908.00,284.75L898.00,274.75Z" fill="#2e5785"/>
<path d="M116.96,528.76 L149.92,519.52 L182.88,510.28 L215.84,501.04 L248.80,491.80 L281.76,482.56 L314.72,473.32 L347.68,464.08 L380.64,454.84 L413.60,445.60 L446.56,436.36 L479.52,427.12 L512.48,417.88 L545.44,408.64 L578.40,399.40 L611.36,390.16 L644.32,380.92 L677.28,371.68 L710.24,362.44 L743.20,353.20 L776.16,343.96 L809.12,334.72 L842.08,325.48 L875.04,316.24 L908.00,307.00" fill="none" stroke="#9a20ad" stroke-width="3.0" stroke-linejoin="round"/>
<circle cx="116.96" cy="528.76" r="7.00" fill="#b02dc3"/>
<circle cx="149.92" cy="519.52" r="7.00" fill="#b02dc3"/>
<circle cx="182.88" cy="510.28" r="7.00" fill="#b02dc3"/>
<circle cx="215.84" cy="501.04" r="7.00" fill="#b02dc3"/>
<circle cx="248.80" cy="491.80" r="7.00" fill="#b02dc3"/>
<circle cx="281.76" cy="482.56" r="7.00" fill="#b02dc3"/>
<circle cx="314.72" cy="473.32" r="7.00" fill="#b02dc3"/>
<circle cx="347.68" cy="464.08" r="7.00" fill="#b02dc3"/>
<circle cx="380.64" cy="454.84" r="7.00" fill="#b02dc3"/>
<circle cx="413.60" cy="445.60" r="7.00" fill="#b02dc3"/>
<circle cx="446.56" cy="436.36" r="7.00" fill="#b02dc3"/>
<circle cx="479.52" cy="427.12" r="7.00" fill="#b02dc3"/>
<circle cx="512.48" cy="417.88" r="7.00" fill="#b02dc3"/>
<circle cx="545.44" cy="408.64" r="7.00" fill="#b02dc3"/>
<circle cx="578.40" cy="399.40" r="7.00" fill="#b02dc3"/>
<circle cx="611.36" cy="390.16" r="7.00" fill="#b02dc3"/>
<circle cx="644.32" cy="380.92" r="7.00" fill="#b02dc3"/>
<circle cx="677.28" cy="371.68" r="7.00" fill="#b02dc3"/>
<circle cx="710.24" cy="362.44" r="7.00" fill="#b02dc3"/>
<circle cx="743.20" cy="353.20" r="7.00" fill="#b02dc3"/>
<circle cx="776.16" cy="343.96" r="7.00" fill="#b02dc3"/>
<circle cx="809.12" cy="334.72" r="7.00" fill="#b02dc3"/>
<circle cx="842.08" cy="325.48" r="7.00" fill="#b02dc3"/>
<circle cx="875.04" cy="316.24" r="7.00" fill="#b02dc3"/>
<circle cx="908.00" cy="307.00" r="7.00" fill="#b02dc3"/>
<path d="M116.96,529.25 L149.92,520.51 L182.88,511.76 L215.84,503.02 L248.80,494.27 L281.76,485.53 L314.72,476.78 L347.68,468.04 L380.64,459.30 L413.60,450.55 L446.56,441.81 L479.52,433.06 L512.48,424.31 L545.44,415.57 L578.40,406.83 L611.36,398.08 L644.32,389.33 L677.28,380.59 L710.24,371.84 L743.20,363.10 L776.16,354.36 L809.12,345.61 L842.08,336.87 L875.04,328.12 L908.00,319.38" fill="none" stroke="#9a20ad" stroke-width="3.0" stroke-linejoin="round"/>
<path d="M116.96,519.15L127.06,539.36L106.86,539.36Z" fill="#b02dc3"/>
<path d="M149.92,510.41L160.02,530.61L139.82,530.61Z" fill="#b02dc3"/>
<path d="M182.88,501.66L192.98,521.87L172.78,521.87Z" fill="#b02dc3"/>
<path d="M215.84,492.92L225.94,513.12L205.74,513.12Z" fill="#b02dc3"/>
<path d="M248.80,484.17L258.90,504.38L238.70,504.38Z" fill="#b02dc3"/>
<path d="M281.76,475.43L291.86,495.63L271.66,495.63Z" fill="#b02dc3"/>
<path d="M314.72,466.68L324.82,486.88L304.62,486.88Z" fill="#b02dc3"/>
<path d="M347.68,457.94L357.78,478.14L337.58,478.14Z" fill="#b02dc3"/>
<path d="M380.64,449.19L390.74,469.40L370.54,469.40Z" fill="#b02dc3"/>
<path d="M413.60,440.45L423.70,460.65L403.50,460.65Z" fill="#b02dc3"/>
<path d="M446.56,431.70L456.66,451.91L436.46,451.91Z" fill="#b02dc3"/>
<path d="M479.52,422.96L489.62,443.16L469.42,443.16Z" fill="#b02dc3"/>
<path d="M512.48,414.21L522.58,434.42L502.38,434.42Z" fill="#b02dc3"/>
<path d="M545.44,405.47L555.54,425.67L535.34,425.67Z" fill="#b02dc3"/>
<path d="M578.40,396.73L588.50,416.93L568.30,416.93Z" fill="#b02dc3"/>
<path d="M611.36,387.98L621.46,408.18L601.26,408.18Z" fill="#b02dc3"/>
<path d="M644.32,379.23L654.42,399.44L634.22,399.44Z" fill="#b02dc3"/>
<path d="M677.28,370.49L687.38,390.69L667.18,390.69Z" fill="#b02dc3"/>
<path d="M710.24,361.74L720.34,381.94L700.14,381.94Z" fill="#b02dc3"/>
<path d="M743.20,353.00L753.30,373.20L733.10,373.20Z" fill="#b02dc3"/>
<path d="M776.16,344.25L786.26,364.46L766.06,364.46Z" fill="#b02dc3"/>
<path d="M809.12,335.51L819.22,355.71L799.02,355.71Z" fill="#b02dc3"/>
<path d="M842.08,326.76L852.18,346.97L831.98,346.97Z" fill="#b02dc3"/>
<path d="M875.04,318.02L885.14,338.22L864.94,338.22Z" fill="#b02dc3"/>
<path d="M908.00,309.27L918.10,329.48L897.90,329.48Z" fill="#b02dc3"/>
<path d="M116.96,530.14 L149.92,522.28 L182.88,514.42 L215.84,506.56 L248.80,498.70 L281.76,490.84 L314.72,482.98 L347.68,475.12 L380.64,467.26 L413.60,459.40 L446.56,451.54 L479.52,443.68 L512.48,435.82 L545.44,427.96 L578.40,420.10 L611.36,412.24 L644.32,404.38 L677.28,396.52 L710.24,388.66 L743.20,380.80 L776.16,372.94 L809.12,365.08 L842.08,357.22 L875.04,349.36 L908.00,341.50" fill="none" stroke="#9a20ad" stroke-width="3.0" stroke-linejoin="round"/>
<path d="M116.96,520.14L126.96,530.14L116.96,540.14L106.96,530.14Z" fill="#b02dc3"/>
<path d="M149.92,512.28L159.92,522.28L149.92,532.28L139.92,522.28Z" fill="#b02dc3"/>
<path d="M182.88,504.42L192.88,514.42L182.88,524.42L172.88,514.42Z" fill="#b02dc3"/>
<path d="M215.84,496.56L225.84,506.56L215.84,516.56L205.84,506.56Z" fill="#b02dc3"/>
<path d="M248.80,488.70L258.80,498.70L248.80,508.70L238.80,498.70Z" fill="#b02dc3"/>
<path d="M281.76,480.84L291.76,490.84L281.76,500.84L271.76,490.84Z" fill="#b02dc3"/>
<path d="M314.72,472.98L324.72,482.98L314.72,492.98L304.72,482.98Z" fill="#b02dc3"/>
<path d="M347.68,465.12L357.68,475.12L347.68,485.12L337.68,475.12Z" fill="#b02dc3"/>
<path d="M380.64,457.26L390.64,467.26L380.64,477.26L370.64,467.26Z" fill="#b02dc3"/>
<path d="M413.60,449.40L423.60,459.40L413.60,469.40L403.60,459.40Z" fill="#b02dc3"/>
<path d="M446.56,441.54L456.56,451.54L446.56,461.54L436.56,451.54Z" fill="#b02dc3"/>
<path d="M479.52,433.68L489.52,443.68L479.52,453.68L469.52,443.68Z" fill="#b02dc3"/>
<path d="M512.48,425.82L522.48,435.82L512.48,445.82L502.48,435.82Z" fill="#b02dc3"/>
<path d="M545.44,417.96L555.44,427.96L545.44,437.96L535.44,427.96Z" fill="#b02dc3"/>
<path d="M578.40,410.10L588.40,420.10L578.40,430.10L568.40,420.10Z" fill="#b02dc3"/>
<path d="M611.36,402.24L621.36,412.24L611.36,422.24L601.36,412.24Z" fill="#b02dc3"/>
<path d="M644.32,394.38L654.32,404.38L644.32,414.38L634.32,404.38Z" fill="#b02dc3"/>
<path d="M677.28,386.52L687.28,396.52L677.28,406.52L667.28,396.52Z" fill="#b02dc3"/>
<path d="M710.24,378.66L720.24,388.66L710.24,398.66L700.24,388.66Z" fill="#b02dc3"/>
<path d="M743.20,370.80L753.20,380.80L743.20,390.80L733.20,380.80Z" fill="#b02dc3"/>
<path d="M776.16,362.94L786.16,372.94L776.16,382.94L766.16,372.94Z" fill="#b02dc3"/>
<path d="M809.12,355.08L819.12,365.08L809.12,375.08L799.12,365.08Z" fill="#b02dc3"/>
<path d="M842.08,347.22L852.08,357.22L842.08,367.22L832.08,357.22Z" fill="#b02dc3"/>
<path d="M875.04,339.36L885.04,349.36L875.04,359.36L865.04,349.36Z" fill="#b02dc3"/>
<path d="M908.00,331.50L918.00,341.50L908.00,351.50L898.00,341.50Z" fill="#b02dc3"/>
<path d="M84.0,312.25H496.00" stroke="#000" stroke-width="2.4" stroke-dasharray="4.8 4.4" fill="none"/>
<path d="M84.0,382.75H496.00" stroke="#000" stroke-width="2.4" stroke-dasharray="4.8 4.4" fill="none"/>
<path d="M84.0,422.50H496.00" stroke="#000" stroke-width="2.4" stroke-dasharray="4.8 4.4" fill="none"/>
<path d="M496.00,312.25V538.0" stroke="#000" stroke-width="2.4" stroke-dasharray="4.8 4.4" fill="none"/>
<text transform="translate(51.76,547.59) scale(0.950,1)" font-size="29.2" fill="#000" >0</text>
<g transform="translate(55.75,472.59) scale(0.950,1)" fill="#000"><polygon points="10.89,0.00 8.26,0.00 8.26,-17.81 3.18,-14.31 3.18,-17.23 9.05,-20.91 10.89,-20.91" /></g>
<text transform="translate(52.06,397.59) scale(0.950,1)" font-size="29.2" fill="#000" >2</text>
<text transform="translate(51.90,322.59) scale(0.950,1)" font-size="29.2" fill="#000" >3</text>
<text transform="translate(51.48,247.59) scale(0.950,1)" font-size="29.2" fill="#000" >4</text>
<text transform="translate(51.84,172.59) scale(0.950,1)" font-size="29.2" fill="#000" >5</text>
<text transform="translate(51.90,97.59) scale(0.950,1)" font-size="29.2" fill="#000" >6</text>
<text transform="translate(52.06,22.59) scale(0.950,1)" font-size="29.2" fill="#000" >7</text>
<text x="926.67" y="544.37" font-size="29" fill="#000" letter-spacing="0.40" >0</text>
<text x="926.35" y="482.47" font-size="29" fill="#000" letter-spacing="0.40" >2</text>
<text x="927.13" y="420.57" font-size="29" fill="#000" letter-spacing="0.40" >4</text>
<text x="926.32" y="358.67" font-size="29" fill="#000" letter-spacing="0.40" >6</text>
<text x="926.55" y="296.77" font-size="29" fill="#000" letter-spacing="0.40" >8</text>
<g transform="translate(923.64,234.87) scale(1.000,1)" fill="#000"><polygon points="10.82,0.00 8.21,0.00 8.21,-17.69 3.16,-14.21 3.16,-17.11 8.99,-20.76 10.82,-20.76" /><text x="16.52" y="0" font-size="29" letter-spacing="0.40" >0</text></g>
<g transform="translate(923.64,172.97) scale(1.000,1)" fill="#000"><polygon points="10.82,0.00 8.21,0.00 8.21,-17.69 3.16,-14.21 3.16,-17.11 8.99,-20.76 10.82,-20.76" /><text x="16.52" y="0" font-size="29" letter-spacing="0.40" >2</text></g>
<g transform="translate(923.64,111.07) scale(1.000,1)" fill="#000"><polygon points="10.82,0.00 8.21,0.00 8.21,-17.69 3.16,-14.21 3.16,-17.11 8.99,-20.76 10.82,-20.76" /><text x="16.52" y="0" font-size="29" letter-spacing="0.40" >4</text></g>
<g transform="translate(923.64,49.17) scale(1.000,1)" fill="#000"><polygon points="10.82,0.00 8.21,0.00 8.21,-17.69 3.16,-14.21 3.16,-17.11 8.99,-20.76 10.82,-20.76" /><text x="16.52" y="0" font-size="29" letter-spacing="0.40" >6</text></g>
<text x="75.75" y="572.60" font-size="29.3" fill="#000" letter-spacing="0.80" >0</text>
<g transform="translate(228.93,572.60) scale(1.000,1)" fill="#000"><text x="0.00" y="0" font-size="29.3" letter-spacing="0.80" >0.</text><polygon points="36.96,0.00 34.33,0.00 34.33,-17.87 29.23,-14.36 29.23,-17.29 35.12,-20.98 36.96,-20.98" /></g>
<text x="393.73" y="572.60" font-size="29.3" fill="#000" letter-spacing="0.80" >0.2</text>
<text x="558.53" y="572.60" font-size="29.3" fill="#000" letter-spacing="0.80" >0.3</text>
<text x="723.33" y="572.60" font-size="29.3" fill="#000" letter-spacing="0.80" >0.4</text>
<text x="888.13" y="572.60" font-size="29.3" fill="#000" letter-spacing="0.80" >0.5</text>
<rect x="496.00" y="658.6" width="412.00" height="521.9" fill="#cfeace"/>
<rect x="84.0" y="658.6" width="824.0" height="521.9" fill="none" stroke="#000" stroke-width="1.7"/>
<path d="M84.0,1158.75h4.5 M84.0,1137.00h4.5 M84.0,1115.25h4.5 M84.0,1093.50h6.5 M84.0,1071.75h4.5 M84.0,1050.00h4.5 M84.0,1028.25h4.5 M84.0,1006.50h6.5 M84.0,984.75h4.5 M84.0,963.00h4.5 M84.0,941.25h4.5 M84.0,919.50h6.5 M84.0,897.75h4.5 M84.0,876.00h4.5 M84.0,854.25h4.5 M84.0,832.50h6.5 M84.0,810.75h4.5 M84.0,789.00h4.5 M84.0,767.25h4.5 M84.0,745.50h6.5 M84.0,723.75h4.5 M84.0,702.00h4.5 M84.0,680.25h4.5 M116.96,1180.5v-4.5 M149.92,1180.5v-4.5 M182.88,1180.5v-4.5 M215.84,1180.5v-4.5 M248.80,1180.5v-6.5 M281.76,1180.5v-4.5 M314.72,1180.5v-4.5 M347.68,1180.5v-4.5 M380.64,1180.5v-4.5 M413.60,1180.5v-6.5 M446.56,1180.5v-4.5 M479.52,1180.5v-4.5 M512.48,1180.5v-4.5 M545.44,1180.5v-4.5 M578.40,1180.5v-6.5 M611.36,1180.5v-4.5 M644.32,1180.5v-4.5 M677.28,1180.5v-4.5 M710.24,1180.5v-4.5 M743.20,1180.5v-6.5 M776.16,1180.5v-4.5 M809.12,1180.5v-4.5 M842.08,1180.5v-4.5 M875.04,1180.5v-4.5" stroke="#000" stroke-width="1.7" fill="none"/>
<path d="M116.96,1166.09 L149.92,1151.69 L182.88,1137.28 L215.84,1122.87 L248.80,1108.46 L281.76,1094.06 L314.72,1079.65 L347.68,1065.24 L380.64,1050.84 L413.60,1036.43 L446.56,1022.02 L479.52,1007.61 L512.48,993.21 L545.44,978.80 L578.40,964.39 L611.36,949.98 L644.32,935.58 L677.28,921.17 L710.24,906.76 L743.20,892.36 L776.16,877.95 L809.12,863.54 L842.08,849.13 L875.04,834.73 L908.00,820.32" fill="none" stroke="#f3f9e9" stroke-width="5.300000000000001" stroke-linejoin="round"/>
<circle cx="116.96" cy="1166.09" r="7.00" fill="#f3f9e9" stroke="#f3f9e9" stroke-width="3.2" stroke-linejoin="round"/>
<circle cx="149.92" cy="1151.69" r="7.00" fill="#f3f9e9" stroke="#f3f9e9" stroke-width="3.2" stroke-linejoin="round"/>
<circle cx="182.88" cy="1137.28" r="7.00" fill="#f3f9e9" stroke="#f3f9e9" stroke-width="3.2" stroke-linejoin="round"/>
<circle cx="215.84" cy="1122.87" r="7.00" fill="#f3f9e9" stroke="#f3f9e9" stroke-width="3.2" stroke-linejoin="round"/>
<circle cx="248.80" cy="1108.46" r="7.00" fill="#f3f9e9" stroke="#f3f9e9" stroke-width="3.2" stroke-linejoin="round"/>
<circle cx="281.76" cy="1094.06" r="7.00" fill="#f3f9e9" stroke="#f3f9e9" stroke-width="3.2" stroke-linejoin="round"/>
<circle cx="314.72" cy="1079.65" r="7.00" fill="#f3f9e9" stroke="#f3f9e9" stroke-width="3.2" stroke-linejoin="round"/>
<circle cx="347.68" cy="1065.24" r="7.00" fill="#f3f9e9" stroke="#f3f9e9" stroke-width="3.2" stroke-linejoin="round"/>
<circle cx="380.64" cy="1050.84" r="7.00" fill="#f3f9e9" stroke="#f3f9e9" stroke-width="3.2" stroke-linejoin="round"/>
<circle cx="413.60" cy="1036.43" r="7.00" fill="#f3f9e9" stroke="#f3f9e9" stroke-width="3.2" stroke-linejoin="round"/>
<circle cx="446.56" cy="1022.02" r="7.00" fill="#f3f9e9" stroke="#f3f9e9" stroke-width="3.2" stroke-linejoin="round"/>
<circle cx="479.52" cy="1007.61" r="7.00" fill="#f3f9e9" stroke="#f3f9e9" stroke-width="3.2" stroke-linejoin="round"/>
<circle cx="512.48" cy="993.21" r="7.00" fill="#f3f9e9" stroke="#f3f9e9" stroke-width="3.2" stroke-linejoin="round"/>
<circle cx="545.44" cy="978.80" r="7.00" fill="#f3f9e9" stroke="#f3f9e9" stroke-width="3.2" stroke-linejoin="round"/>
<circle cx="578.40" cy="964.39" r="7.00" fill="#f3f9e9" stroke="#f3f9e9" stroke-width="3.2" stroke-linejoin="round"/>
<circle cx="611.36" cy="949.98" r="7.00" fill="#f3f9e9" stroke="#f3f9e9" stroke-width="3.2" stroke-linejoin="round"/>
<circle cx="644.32" cy="935.58" r="7.00" fill="#f3f9e9" stroke="#f3f9e9" stroke-width="3.2" stroke-linejoin="round"/>
<circle cx="677.28" cy="921.17" r="7.00" fill="#f3f9e9" stroke="#f3f9e9" stroke-width="3.2" stroke-linejoin="round"/>
<circle cx="710.24" cy="906.76" r="7.00" fill="#f3f9e9" stroke="#f3f9e9" stroke-width="3.2" stroke-linejoin="round"/>
<circle cx="743.20" cy="892.36" r="7.00" fill="#f3f9e9" stroke="#f3f9e9" stroke-width="3.2" stroke-linejoin="round"/>
<circle cx="776.16" cy="877.95" r="7.00" fill="#f3f9e9" stroke="#f3f9e9" stroke-width="3.2" stroke-linejoin="round"/>
<circle cx="809.12" cy="863.54" r="7.00" fill="#f3f9e9" stroke="#f3f9e9" stroke-width="3.2" stroke-linejoin="round"/>
<circle cx="842.08" cy="849.13" r="7.00" fill="#f3f9e9" stroke="#f3f9e9" stroke-width="3.2" stroke-linejoin="round"/>
<circle cx="875.04" cy="834.73" r="7.00" fill="#f3f9e9" stroke="#f3f9e9" stroke-width="3.2" stroke-linejoin="round"/>
<circle cx="908.00" cy="820.32" r="7.00" fill="#f3f9e9" stroke="#f3f9e9" stroke-width="3.2" stroke-linejoin="round"/>
<path d="M116.96,1166.46 L149.92,1152.42 L182.88,1138.37 L215.84,1124.33 L248.80,1110.29 L281.76,1096.25 L314.72,1082.21 L347.68,1068.17 L380.64,1054.12 L413.60,1040.08 L446.56,1026.04 L479.52,1012.00 L512.48,997.96 L545.44,983.91 L578.40,969.87 L611.36,955.83 L644.32,941.79 L677.28,927.75 L710.24,913.71 L743.20,899.66 L776.16,885.62 L809.12,871.58 L842.08,857.54 L875.04,843.50 L908.00,829.45" fill="none" stroke="#f3f9e9" stroke-width="5.300000000000001" stroke-linejoin="round"/>
<path d="M116.96,1156.36L127.06,1176.56L106.86,1176.56Z" fill="#f3f9e9" stroke="#f3f9e9" stroke-width="3.2" stroke-linejoin="round"/>
<path d="M149.92,1142.32L160.02,1162.52L139.82,1162.52Z" fill="#f3f9e9" stroke="#f3f9e9" stroke-width="3.2" stroke-linejoin="round"/>
<path d="M182.88,1128.27L192.98,1148.47L172.78,1148.47Z" fill="#f3f9e9" stroke="#f3f9e9" stroke-width="3.2" stroke-linejoin="round"/>
<path d="M215.84,1114.23L225.94,1134.43L205.74,1134.43Z" fill="#f3f9e9" stroke="#f3f9e9" stroke-width="3.2" stroke-linejoin="round"/>
<path d="M248.80,1100.19L258.90,1120.39L238.70,1120.39Z" fill="#f3f9e9" stroke="#f3f9e9" stroke-width="3.2" stroke-linejoin="round"/>
<path d="M281.76,1086.15L291.86,1106.35L271.66,1106.35Z" fill="#f3f9e9" stroke="#f3f9e9" stroke-width="3.2" stroke-linejoin="round"/>
<path d="M314.72,1072.11L324.82,1092.31L304.62,1092.31Z" fill="#f3f9e9" stroke="#f3f9e9" stroke-width="3.2" stroke-linejoin="round"/>
<path d="M347.68,1058.07L357.78,1078.27L337.58,1078.27Z" fill="#f3f9e9" stroke="#f3f9e9" stroke-width="3.2" stroke-linejoin="round"/>
<path d="M380.64,1044.02L390.74,1064.22L370.54,1064.22Z" fill="#f3f9e9" stroke="#f3f9e9" stroke-width="3.2" stroke-linejoin="round"/>
<path d="M413.60,1029.98L423.70,1050.18L403.50,1050.18Z" fill="#f3f9e9" stroke="#f3f9e9" stroke-width="3.2" stroke-linejoin="round"/>
<path d="M446.56,1015.94L456.66,1036.14L436.46,1036.14Z" fill="#f3f9e9" stroke="#f3f9e9" stroke-width="3.2" stroke-linejoin="round"/>
<path d="M479.52,1001.90L489.62,1022.10L469.42,1022.10Z" fill="#f3f9e9" stroke="#f3f9e9" stroke-width="3.2" stroke-linejoin="round"/>
<path d="M512.48,987.86L522.58,1008.06L502.38,1008.06Z" fill="#f3f9e9" stroke="#f3f9e9" stroke-width="3.2" stroke-linejoin="round"/>
<path d="M545.44,973.81L555.54,994.01L535.34,994.01Z" fill="#f3f9e9" stroke="#f3f9e9" stroke-width="3.2" stroke-linejoin="round"/>
<path d="M578.40,959.77L588.50,979.97L568.30,979.97Z" fill="#f3f9e9" stroke="#f3f9e9" stroke-width="3.2" stroke-linejoin="round"/>
<path d="M611.36,945.73L621.46,965.93L601.26,965.93Z" fill="#f3f9e9" stroke="#f3f9e9" stroke-width="3.2" stroke-linejoin="round"/>
<path d="M644.32,931.69L654.42,951.89L634.22,951.89Z" fill="#f3f9e9" stroke="#f3f9e9" stroke-width="3.2" stroke-linejoin="round"/>
<path d="M677.28,917.65L687.38,937.85L667.18,937.85Z" fill="#f3f9e9" stroke="#f3f9e9" stroke-width="3.2" stroke-linejoin="round"/>
<path d="M710.24,903.61L720.34,923.81L700.14,923.81Z" fill="#f3f9e9" stroke="#f3f9e9" stroke-width="3.2" stroke-linejoin="round"/>
<path d="M743.20,889.56L753.30,909.76L733.10,909.76Z" fill="#f3f9e9" stroke="#f3f9e9" stroke-width="3.2" stroke-linejoin="round"/>
<path d="M776.16,875.52L786.26,895.72L766.06,895.72Z" fill="#f3f9e9" stroke="#f3f9e9" stroke-width="3.2" stroke-linejoin="round"/>
<path d="M809.12,861.48L819.22,881.68L799.02,881.68Z" fill="#f3f9e9" stroke="#f3f9e9" stroke-width="3.2" stroke-linejoin="round"/>
<path d="M842.08,847.44L852.18,867.64L831.98,867.64Z" fill="#f3f9e9" stroke="#f3f9e9" stroke-width="3.2" stroke-linejoin="round"/>
<path d="M875.04,833.40L885.14,853.60L864.94,853.60Z" fill="#f3f9e9" stroke="#f3f9e9" stroke-width="3.2" stroke-linejoin="round"/>
<path d="M908.00,819.35L918.10,839.55L897.90,839.55Z" fill="#f3f9e9" stroke="#f3f9e9" stroke-width="3.2" stroke-linejoin="round"/>
<path d="M116.96,1168.29 L149.92,1156.07 L182.88,1143.86 L215.84,1131.64 L248.80,1119.43 L281.76,1107.21 L314.72,1095.00 L347.68,1082.78 L380.64,1070.57 L413.60,1058.35 L446.56,1046.14 L479.52,1033.92 L512.48,1021.71 L545.44,1009.49 L578.40,997.28 L611.36,985.06 L644.32,972.85 L677.28,960.63 L710.24,948.42 L743.20,936.20 L776.16,923.99 L809.12,911.77 L842.08,899.56 L875.04,887.34 L908.00,875.13" fill="none" stroke="#f3f9e9" stroke-width="5.300000000000001" stroke-linejoin="round"/>
<path d="M116.96,1158.29L126.96,1168.29L116.96,1178.29L106.96,1168.29Z" fill="#f3f9e9" stroke="#f3f9e9" stroke-width="3.2" stroke-linejoin="round"/>
<path d="M149.92,1146.07L159.92,1156.07L149.92,1166.07L139.92,1156.07Z" fill="#f3f9e9" stroke="#f3f9e9" stroke-width="3.2" stroke-linejoin="round"/>
<path d="M182.88,1133.86L192.88,1143.86L182.88,1153.86L172.88,1143.86Z" fill="#f3f9e9" stroke="#f3f9e9" stroke-width="3.2" stroke-linejoin="round"/>
<path d="M215.84,1121.64L225.84,1131.64L215.84,1141.64L205.84,1131.64Z" fill="#f3f9e9" stroke="#f3f9e9" stroke-width="3.2" stroke-linejoin="round"/>
<path d="M248.80,1109.43L258.80,1119.43L248.80,1129.43L238.80,1119.43Z" fill="#f3f9e9" stroke="#f3f9e9" stroke-width="3.2" stroke-linejoin="round"/>
<path d="M281.76,1097.21L291.76,1107.21L281.76,1117.21L271.76,1107.21Z" fill="#f3f9e9" stroke="#f3f9e9" stroke-width="3.2" stroke-linejoin="round"/>
<path d="M314.72,1085.00L324.72,1095.00L314.72,1105.00L304.72,1095.00Z" fill="#f3f9e9" stroke="#f3f9e9" stroke-width="3.2" stroke-linejoin="round"/>
<path d="M347.68,1072.78L357.68,1082.78L347.68,1092.78L337.68,1082.78Z" fill="#f3f9e9" stroke="#f3f9e9" stroke-width="3.2" stroke-linejoin="round"/>
<path d="M380.64,1060.57L390.64,1070.57L380.64,1080.57L370.64,1070.57Z" fill="#f3f9e9" stroke="#f3f9e9" stroke-width="3.2" stroke-linejoin="round"/>
<path d="M413.60,1048.35L423.60,1058.35L413.60,1068.35L403.60,1058.35Z" fill="#f3f9e9" stroke="#f3f9e9" stroke-width="3.2" stroke-linejoin="round"/>
<path d="M446.56,1036.14L456.56,1046.14L446.56,1056.14L436.56,1046.14Z" fill="#f3f9e9" stroke="#f3f9e9" stroke-width="3.2" stroke-linejoin="round"/>
<path d="M479.52,1023.92L489.52,1033.92L479.52,1043.92L469.52,1033.92Z" fill="#f3f9e9" stroke="#f3f9e9" stroke-width="3.2" stroke-linejoin="round"/>
<path d="M512.48,1011.71L522.48,1021.71L512.48,1031.71L502.48,1021.71Z" fill="#f3f9e9" stroke="#f3f9e9" stroke-width="3.2" stroke-linejoin="round"/>
<path d="M545.44,999.49L555.44,1009.49L545.44,1019.49L535.44,1009.49Z" fill="#f3f9e9" stroke="#f3f9e9" stroke-width="3.2" stroke-linejoin="round"/>
<path d="M578.40,987.28L588.40,997.28L578.40,1007.28L568.40,997.28Z" fill="#f3f9e9" stroke="#f3f9e9" stroke-width="3.2" stroke-linejoin="round"/>
<path d="M611.36,975.06L621.36,985.06L611.36,995.06L601.36,985.06Z" fill="#f3f9e9" stroke="#f3f9e9" stroke-width="3.2" stroke-linejoin="round"/>
<path d="M644.32,962.85L654.32,972.85L644.32,982.85L634.32,972.85Z" fill="#f3f9e9" stroke="#f3f9e9" stroke-width="3.2" stroke-linejoin="round"/>
<path d="M677.28,950.63L687.28,960.63L677.28,970.63L667.28,960.63Z" fill="#f3f9e9" stroke="#f3f9e9" stroke-width="3.2" stroke-linejoin="round"/>
<path d="M710.24,938.42L720.24,948.42L710.24,958.42L700.24,948.42Z" fill="#f3f9e9" stroke="#f3f9e9" stroke-width="3.2" stroke-linejoin="round"/>
<path d="M743.20,926.20L753.20,936.20L743.20,946.20L733.20,936.20Z" fill="#f3f9e9" stroke="#f3f9e9" stroke-width="3.2" stroke-linejoin="round"/>
<path d="M776.16,913.99L786.16,923.99L776.16,933.99L766.16,923.99Z" fill="#f3f9e9" stroke="#f3f9e9" stroke-width="3.2" stroke-linejoin="round"/>
<path d="M809.12,901.77L819.12,911.77L809.12,921.77L799.12,911.77Z" fill="#f3f9e9" stroke="#f3f9e9" stroke-width="3.2" stroke-linejoin="round"/>
<path d="M842.08,889.56L852.08,899.56L842.08,909.56L832.08,899.56Z" fill="#f3f9e9" stroke="#f3f9e9" stroke-width="3.2" stroke-linejoin="round"/>
<path d="M875.04,877.34L885.04,887.34L875.04,897.34L865.04,887.34Z" fill="#f3f9e9" stroke="#f3f9e9" stroke-width="3.2" stroke-linejoin="round"/>
<path d="M908.00,865.13L918.00,875.13L908.00,885.13L898.00,875.13Z" fill="#f3f9e9" stroke="#f3f9e9" stroke-width="3.2" stroke-linejoin="round"/>
<path d="M116.96,1169.78 L149.92,1159.06 L182.88,1148.34 L215.84,1137.63 L248.80,1126.91 L281.76,1116.19 L314.72,1105.47 L347.68,1094.75 L380.64,1084.03 L413.60,1073.32 L446.56,1062.60 L479.52,1051.88 L512.48,1041.16 L545.44,1030.44 L578.40,1019.72 L611.36,1009.01 L644.32,998.29 L677.28,987.57 L710.24,976.85 L743.20,966.13 L776.16,955.41 L809.12,944.70 L842.08,933.98 L875.04,923.26 L908.00,912.54" fill="none" stroke="#f3f9e9" stroke-width="5.6" stroke-linejoin="round"/>
<circle cx="116.96" cy="1169.78" r="7.00" fill="#f3f9e9" stroke="#f3f9e9" stroke-width="3.2" stroke-linejoin="round"/>
<circle cx="149.92" cy="1159.06" r="7.00" fill="#f3f9e9" stroke="#f3f9e9" stroke-width="3.2" stroke-linejoin="round"/>
<circle cx="182.88" cy="1148.34" r="7.00" fill="#f3f9e9" stroke="#f3f9e9" stroke-width="3.2" stroke-linejoin="round"/>
<circle cx="215.84" cy="1137.63" r="7.00" fill="#f3f9e9" stroke="#f3f9e9" stroke-width="3.2" stroke-linejoin="round"/>
<circle cx="248.80" cy="1126.91" r="7.00" fill="#f3f9e9" stroke="#f3f9e9" stroke-width="3.2" stroke-linejoin="round"/>
<circle cx="281.76" cy="1116.19" r="7.00" fill="#f3f9e9" stroke="#f3f9e9" stroke-width="3.2" stroke-linejoin="round"/>
<circle cx="314.72" cy="1105.47" r="7.00" fill="#f3f9e9" stroke="#f3f9e9" stroke-width="3.2" stroke-linejoin="round"/>
<circle cx="347.68" cy="1094.75" r="7.00" fill="#f3f9e9" stroke="#f3f9e9" stroke-width="3.2" stroke-linejoin="round"/>
<circle cx="380.64" cy="1084.03" r="7.00" fill="#f3f9e9" stroke="#f3f9e9" stroke-width="3.2" stroke-linejoin="round"/>
<circle cx="413.60" cy="1073.32" r="7.00" fill="#f3f9e9" stroke="#f3f9e9" stroke-width="3.2" stroke-linejoin="round"/>
<circle cx="446.56" cy="1062.60" r="7.00" fill="#f3f9e9" stroke="#f3f9e9" stroke-width="3.2" stroke-linejoin="round"/>
<circle cx="479.52" cy="1051.88" r="7.00" fill="#f3f9e9" stroke="#f3f9e9" stroke-width="3.2" stroke-linejoin="round"/>
<circle cx="512.48" cy="1041.16" r="7.00" fill="#f3f9e9" stroke="#f3f9e9" stroke-width="3.2" stroke-linejoin="round"/>
<circle cx="545.44" cy="1030.44" r="7.00" fill="#f3f9e9" stroke="#f3f9e9" stroke-width="3.2" stroke-linejoin="round"/>
<circle cx="578.40" cy="1019.72" r="7.00" fill="#f3f9e9" stroke="#f3f9e9" stroke-width="3.2" stroke-linejoin="round"/>
<circle cx="611.36" cy="1009.01" r="7.00" fill="#f3f9e9" stroke="#f3f9e9" stroke-width="3.2" stroke-linejoin="round"/>
<circle cx="644.32" cy="998.29" r="7.00" fill="#f3f9e9" stroke="#f3f9e9" stroke-width="3.2" stroke-linejoin="round"/>
<circle cx="677.28" cy="987.57" r="7.00" fill="#f3f9e9" stroke="#f3f9e9" stroke-width="3.2" stroke-linejoin="round"/>
<circle cx="710.24" cy="976.85" r="7.00" fill="#f3f9e9" stroke="#f3f9e9" stroke-width="3.2" stroke-linejoin="round"/>
<circle cx="743.20" cy="966.13" r="7.00" fill="#f3f9e9" stroke="#f3f9e9" stroke-width="3.2" stroke-linejoin="round"/>
<circle cx="776.16" cy="955.41" r="7.00" fill="#f3f9e9" stroke="#f3f9e9" stroke-width="3.2" stroke-linejoin="round"/>
<circle cx="809.12" cy="944.70" r="7.00" fill="#f3f9e9" stroke="#f3f9e9" stroke-width="3.2" stroke-linejoin="round"/>
<circle cx="842.08" cy="933.98" r="7.00" fill="#f3f9e9" stroke="#f3f9e9" stroke-width="3.2" stroke-linejoin="round"/>
<circle cx="875.04" cy="923.26" r="7.00" fill="#f3f9e9" stroke="#f3f9e9" stroke-width="3.2" stroke-linejoin="round"/>
<circle cx="908.00" cy="912.54" r="7.00" fill="#f3f9e9" stroke="#f3f9e9" stroke-width="3.2" stroke-linejoin="round"/>
<path d="M116.96,1170.36 L149.92,1160.21 L182.88,1150.07 L215.84,1139.92 L248.80,1129.78 L281.76,1119.63 L314.72,1109.49 L347.68,1099.35 L380.64,1089.20 L413.60,1079.06 L446.56,1068.91 L479.52,1058.77 L512.48,1048.63 L545.44,1038.48 L578.40,1028.34 L611.36,1018.19 L644.32,1008.05 L677.28,997.90 L710.24,987.76 L743.20,977.62 L776.16,967.47 L809.12,957.33 L842.08,947.18 L875.04,937.04 L908.00,926.89" fill="none" stroke="#f3f9e9" stroke-width="5.6" stroke-linejoin="round"/>
<path d="M116.96,1160.26L127.06,1180.46L106.86,1180.46Z" fill="#f3f9e9" stroke="#f3f9e9" stroke-width="3.2" stroke-linejoin="round"/>
<path d="M149.92,1150.11L160.02,1170.31L139.82,1170.31Z" fill="#f3f9e9" stroke="#f3f9e9" stroke-width="3.2" stroke-linejoin="round"/>
<path d="M182.88,1139.97L192.98,1160.17L172.78,1160.17Z" fill="#f3f9e9" stroke="#f3f9e9" stroke-width="3.2" stroke-linejoin="round"/>
<path d="M215.84,1129.82L225.94,1150.02L205.74,1150.02Z" fill="#f3f9e9" stroke="#f3f9e9" stroke-width="3.2" stroke-linejoin="round"/>
<path d="M248.80,1119.68L258.90,1139.88L238.70,1139.88Z" fill="#f3f9e9" stroke="#f3f9e9" stroke-width="3.2" stroke-linejoin="round"/>
<path d="M281.76,1109.53L291.86,1129.73L271.66,1129.73Z" fill="#f3f9e9" stroke="#f3f9e9" stroke-width="3.2" stroke-linejoin="round"/>
<path d="M314.72,1099.39L324.82,1119.59L304.62,1119.59Z" fill="#f3f9e9" stroke="#f3f9e9" stroke-width="3.2" stroke-linejoin="round"/>
<path d="M347.68,1089.25L357.78,1109.45L337.58,1109.45Z" fill="#f3f9e9" stroke="#f3f9e9" stroke-width="3.2" stroke-linejoin="round"/>
<path d="M380.64,1079.10L390.74,1099.30L370.54,1099.30Z" fill="#f3f9e9" stroke="#f3f9e9" stroke-width="3.2" stroke-linejoin="round"/>
<path d="M413.60,1068.96L423.70,1089.16L403.50,1089.16Z" fill="#f3f9e9" stroke="#f3f9e9" stroke-width="3.2" stroke-linejoin="round"/>
<path d="M446.56,1058.81L456.66,1079.01L436.46,1079.01Z" fill="#f3f9e9" stroke="#f3f9e9" stroke-width="3.2" stroke-linejoin="round"/>
<path d="M479.52,1048.67L489.62,1068.87L469.42,1068.87Z" fill="#f3f9e9" stroke="#f3f9e9" stroke-width="3.2" stroke-linejoin="round"/>
<path d="M512.48,1038.53L522.58,1058.73L502.38,1058.73Z" fill="#f3f9e9" stroke="#f3f9e9" stroke-width="3.2" stroke-linejoin="round"/>
<path d="M545.44,1028.38L555.54,1048.58L535.34,1048.58Z" fill="#f3f9e9" stroke="#f3f9e9" stroke-width="3.2" stroke-linejoin="round"/>
<path d="M578.40,1018.24L588.50,1038.44L568.30,1038.44Z" fill="#f3f9e9" stroke="#f3f9e9" stroke-width="3.2" stroke-linejoin="round"/>
<path d="M611.36,1008.09L621.46,1028.29L601.26,1028.29Z" fill="#f3f9e9" stroke="#f3f9e9" stroke-width="3.2" stroke-linejoin="round"/>
<path d="M644.32,997.95L654.42,1018.15L634.22,1018.15Z" fill="#f3f9e9" stroke="#f3f9e9" stroke-width="3.2" stroke-linejoin="round"/>
<path d="M677.28,987.80L687.38,1008.00L667.18,1008.00Z" fill="#f3f9e9" stroke="#f3f9e9" stroke-width="3.2" stroke-linejoin="round"/>
<path d="M710.24,977.66L720.34,997.86L700.14,997.86Z" fill="#f3f9e9" stroke="#f3f9e9" stroke-width="3.2" stroke-linejoin="round"/>
<path d="M743.20,967.52L753.30,987.72L733.10,987.72Z" fill="#f3f9e9" stroke="#f3f9e9" stroke-width="3.2" stroke-linejoin="round"/>
<path d="M776.16,957.37L786.26,977.57L766.06,977.57Z" fill="#f3f9e9" stroke="#f3f9e9" stroke-width="3.2" stroke-linejoin="round"/>
<path d="M809.12,947.23L819.22,967.43L799.02,967.43Z" fill="#f3f9e9" stroke="#f3f9e9" stroke-width="3.2" stroke-linejoin="round"/>
<path d="M842.08,937.08L852.18,957.28L831.98,957.28Z" fill="#f3f9e9" stroke="#f3f9e9" stroke-width="3.2" stroke-linejoin="round"/>
<path d="M875.04,926.94L885.14,947.14L864.94,947.14Z" fill="#f3f9e9" stroke="#f3f9e9" stroke-width="3.2" stroke-linejoin="round"/>
<path d="M908.00,916.79L918.10,937.00L897.90,937.00Z" fill="#f3f9e9" stroke="#f3f9e9" stroke-width="3.2" stroke-linejoin="round"/>
<path d="M116.96,1171.38 L149.92,1162.26 L182.88,1153.15 L215.84,1144.03 L248.80,1134.91 L281.76,1125.79 L314.72,1116.68 L347.68,1107.56 L380.64,1098.44 L413.60,1089.32 L446.56,1080.21 L479.52,1071.09 L512.48,1061.97 L545.44,1052.85 L578.40,1043.74 L611.36,1034.62 L644.32,1025.50 L677.28,1016.38 L710.24,1007.27 L743.20,998.15 L776.16,989.03 L809.12,979.91 L842.08,970.80 L875.04,961.68 L908.00,952.56" fill="none" stroke="#f3f9e9" stroke-width="5.6" stroke-linejoin="round"/>
<path d="M116.96,1161.38L126.96,1171.38L116.96,1181.38L106.96,1171.38Z" fill="#f3f9e9" stroke="#f3f9e9" stroke-width="3.2" stroke-linejoin="round"/>
<path d="M149.92,1152.26L159.92,1162.26L149.92,1172.26L139.92,1162.26Z" fill="#f3f9e9" stroke="#f3f9e9" stroke-width="3.2" stroke-linejoin="round"/>
<path d="M182.88,1143.15L192.88,1153.15L182.88,1163.15L172.88,1153.15Z" fill="#f3f9e9" stroke="#f3f9e9" stroke-width="3.2" stroke-linejoin="round"/>
<path d="M215.84,1134.03L225.84,1144.03L215.84,1154.03L205.84,1144.03Z" fill="#f3f9e9" stroke="#f3f9e9" stroke-width="3.2" stroke-linejoin="round"/>
<path d="M248.80,1124.91L258.80,1134.91L248.80,1144.91L238.80,1134.91Z" fill="#f3f9e9" stroke="#f3f9e9" stroke-width="3.2" stroke-linejoin="round"/>
<path d="M281.76,1115.79L291.76,1125.79L281.76,1135.79L271.76,1125.79Z" fill="#f3f9e9" stroke="#f3f9e9" stroke-width="3.2" stroke-linejoin="round"/>
<path d="M314.72,1106.68L324.72,1116.68L314.72,1126.68L304.72,1116.68Z" fill="#f3f9e9" stroke="#f3f9e9" stroke-width="3.2" stroke-linejoin="round"/>
<path d="M347.68,1097.56L357.68,1107.56L347.68,1117.56L337.68,1107.56Z" fill="#f3f9e9" stroke="#f3f9e9" stroke-width="3.2" stroke-linejoin="round"/>
<path d="M380.64,1088.44L390.64,1098.44L380.64,1108.44L370.64,1098.44Z" fill="#f3f9e9" stroke="#f3f9e9" stroke-width="3.2" stroke-linejoin="round"/>
<path d="M413.60,1079.32L423.60,1089.32L413.60,1099.32L403.60,1089.32Z" fill="#f3f9e9" stroke="#f3f9e9" stroke-width="3.2" stroke-linejoin="round"/>
<path d="M446.56,1070.21L456.56,1080.21L446.56,1090.21L436.56,1080.21Z" fill="#f3f9e9" stroke="#f3f9e9" stroke-width="3.2" stroke-linejoin="round"/>
<path d="M479.52,1061.09L489.52,1071.09L479.52,1081.09L469.52,1071.09Z" fill="#f3f9e9" stroke="#f3f9e9" stroke-width="3.2" stroke-linejoin="round"/>
<path d="M512.48,1051.97L522.48,1061.97L512.48,1071.97L502.48,1061.97Z" fill="#f3f9e9" stroke="#f3f9e9" stroke-width="3.2" stroke-linejoin="round"/>
<path d="M545.44,1042.85L555.44,1052.85L545.44,1062.85L535.44,1052.85Z" fill="#f3f9e9" stroke="#f3f9e9" stroke-width="3.2" stroke-linejoin="round"/>
<path d="M578.40,1033.74L588.40,1043.74L578.40,1053.74L568.40,1043.74Z" fill="#f3f9e9" stroke="#f3f9e9" stroke-width="3.2" stroke-linejoin="round"/>
<path d="M611.36,1024.62L621.36,1034.62L611.36,1044.62L601.36,1034.62Z" fill="#f3f9e9" stroke="#f3f9e9" stroke-width="3.2" stroke-linejoin="round"/>
<path d="M644.32,1015.50L654.32,1025.50L644.32,1035.50L634.32,1025.50Z" fill="#f3f9e9" stroke="#f3f9e9" stroke-width="3.2" stroke-linejoin="round"/>
<path d="M677.28,1006.38L687.28,1016.38L677.28,1026.38L667.28,1016.38Z" fill="#f3f9e9" stroke="#f3f9e9" stroke-width="3.2" stroke-linejoin="round"/>
<path d="M710.24,997.27L720.24,1007.27L710.24,1017.27L700.24,1007.27Z" fill="#f3f9e9" stroke="#f3f9e9" stroke-width="3.2" stroke-linejoin="round"/>
<path d="M743.20,988.15L753.20,998.15L743.20,1008.15L733.20,998.15Z" fill="#f3f9e9" stroke="#f3f9e9" stroke-width="3.2" stroke-linejoin="round"/>
<path d="M776.16,979.03L786.16,989.03L776.16,999.03L766.16,989.03Z" fill="#f3f9e9" stroke="#f3f9e9" stroke-width="3.2" stroke-linejoin="round"/>
<path d="M809.12,969.91L819.12,979.91L809.12,989.91L799.12,979.91Z" fill="#f3f9e9" stroke="#f3f9e9" stroke-width="3.2" stroke-linejoin="round"/>
<path d="M842.08,960.80L852.08,970.80L842.08,980.80L832.08,970.80Z" fill="#f3f9e9" stroke="#f3f9e9" stroke-width="3.2" stroke-linejoin="round"/>
<path d="M875.04,951.68L885.04,961.68L875.04,971.68L865.04,961.68Z" fill="#f3f9e9" stroke="#f3f9e9" stroke-width="3.2" stroke-linejoin="round"/>
<path d="M908.00,942.56L918.00,952.56L908.00,962.56L898.00,952.56Z" fill="#f3f9e9" stroke="#f3f9e9" stroke-width="3.2" stroke-linejoin="round"/>
<path d="M116.96,1169.05 L149.92,1157.60 L182.88,1146.15 L215.84,1134.70 L248.80,1123.25 L281.76,1111.80 L314.72,1100.36 L347.68,1088.91 L380.64,1077.46 L413.60,1066.01 L446.56,1054.56 L479.52,1043.11 L512.48,1031.66 L545.44,1020.21 L578.40,1008.76 L611.36,997.31 L644.32,985.86 L677.28,974.41 L710.24,962.97 L743.20,951.52 L776.16,940.07 L809.12,928.62 L842.08,917.17 L875.04,905.72 L908.00,894.27" fill="none" stroke="#f3f9e9" stroke-width="6.4" stroke-linejoin="round"/>
<circle cx="116.96" cy="1169.05" r="7.00" fill="#f3f9e9" stroke="#f3f9e9" stroke-width="3.2" stroke-linejoin="round"/>
<circle cx="149.92" cy="1157.60" r="7.00" fill="#f3f9e9" stroke="#f3f9e9" stroke-width="3.2" stroke-linejoin="round"/>
<circle cx="182.88" cy="1146.15" r="7.00" fill="#f3f9e9" stroke="#f3f9e9" stroke-width="3.2" stroke-linejoin="round"/>
<circle cx="215.84" cy="1134.70" r="7.00" fill="#f3f9e9" stroke="#f3f9e9" stroke-width="3.2" stroke-linejoin="round"/>
<circle cx="248.80" cy="1123.25" r="7.00" fill="#f3f9e9" stroke="#f3f9e9" stroke-width="3.2" stroke-linejoin="round"/>
<circle cx="281.76" cy="1111.80" r="7.00" fill="#f3f9e9" stroke="#f3f9e9" stroke-width="3.2" stroke-linejoin="round"/>
<circle cx="314.72" cy="1100.36" r="7.00" fill="#f3f9e9" stroke="#f3f9e9" stroke-width="3.2" stroke-linejoin="round"/>
<circle cx="347.68" cy="1088.91" r="7.00" fill="#f3f9e9" stroke="#f3f9e9" stroke-width="3.2" stroke-linejoin="round"/>
<circle cx="380.64" cy="1077.46" r="7.00" fill="#f3f9e9" stroke="#f3f9e9" stroke-width="3.2" stroke-linejoin="round"/>
<circle cx="413.60" cy="1066.01" r="7.00" fill="#f3f9e9" stroke="#f3f9e9" stroke-width="3.2" stroke-linejoin="round"/>
<circle cx="446.56" cy="1054.56" r="7.00" fill="#f3f9e9" stroke="#f3f9e9" stroke-width="3.2" stroke-linejoin="round"/>
<circle cx="479.52" cy="1043.11" r="7.00" fill="#f3f9e9" stroke="#f3f9e9" stroke-width="3.2" stroke-linejoin="round"/>
<circle cx="512.48" cy="1031.66" r="7.00" fill="#f3f9e9" stroke="#f3f9e9" stroke-width="3.2" stroke-linejoin="round"/>
<circle cx="545.44" cy="1020.21" r="7.00" fill="#f3f9e9" stroke="#f3f9e9" stroke-width="3.2" stroke-linejoin="round"/>
<circle cx="578.40" cy="1008.76" r="7.00" fill="#f3f9e9" stroke="#f3f9e9" stroke-width="3.2" stroke-linejoin="round"/>
<circle cx="611.36" cy="997.31" r="7.00" fill="#f3f9e9" stroke="#f3f9e9" stroke-width="3.2" stroke-linejoin="round"/>
<circle cx="644.32" cy="985.86" r="7.00" fill="#f3f9e9" stroke="#f3f9e9" stroke-width="3.2" stroke-linejoin="round"/>
<circle cx="677.28" cy="974.41" r="7.00" fill="#f3f9e9" stroke="#f3f9e9" stroke-width="3.2" stroke-linejoin="round"/>
<circle cx="710.24" cy="962.97" r="7.00" fill="#f3f9e9" stroke="#f3f9e9" stroke-width="3.2" stroke-linejoin="round"/>
<circle cx="743.20" cy="951.52" r="7.00" fill="#f3f9e9" stroke="#f3f9e9" stroke-width="3.2" stroke-linejoin="round"/>
<circle cx="776.16" cy="940.07" r="7.00" fill="#f3f9e9" stroke="#f3f9e9" stroke-width="3.2" stroke-linejoin="round"/>
<circle cx="809.12" cy="928.62" r="7.00" fill="#f3f9e9" stroke="#f3f9e9" stroke-width="3.2" stroke-linejoin="round"/>
<circle cx="842.08" cy="917.17" r="7.00" fill="#f3f9e9" stroke="#f3f9e9" stroke-width="3.2" stroke-linejoin="round"/>
<circle cx="875.04" cy="905.72" r="7.00" fill="#f3f9e9" stroke="#f3f9e9" stroke-width="3.2" stroke-linejoin="round"/>
<circle cx="908.00" cy="894.27" r="7.00" fill="#f3f9e9" stroke="#f3f9e9" stroke-width="3.2" stroke-linejoin="round"/>
<path d="M116.96,1169.40 L149.92,1158.30 L182.88,1147.20 L215.84,1136.10 L248.80,1124.99 L281.76,1113.89 L314.72,1102.79 L347.68,1091.69 L380.64,1080.59 L413.60,1069.49 L446.56,1058.39 L479.52,1047.29 L512.48,1036.18 L545.44,1025.08 L578.40,1013.98 L611.36,1002.88 L644.32,991.78 L677.28,980.68 L710.24,969.58 L743.20,958.48 L776.16,947.37 L809.12,936.27 L842.08,925.17 L875.04,914.07 L908.00,902.97" fill="none" stroke="#f3f9e9" stroke-width="6.4" stroke-linejoin="round"/>
<path d="M116.96,1159.30L127.06,1179.50L106.86,1179.50Z" fill="#f3f9e9" stroke="#f3f9e9" stroke-width="3.2" stroke-linejoin="round"/>
<path d="M149.92,1148.20L160.02,1168.40L139.82,1168.40Z" fill="#f3f9e9" stroke="#f3f9e9" stroke-width="3.2" stroke-linejoin="round"/>
<path d="M182.88,1137.10L192.98,1157.30L172.78,1157.30Z" fill="#f3f9e9" stroke="#f3f9e9" stroke-width="3.2" stroke-linejoin="round"/>
<path d="M215.84,1126.00L225.94,1146.20L205.74,1146.20Z" fill="#f3f9e9" stroke="#f3f9e9" stroke-width="3.2" stroke-linejoin="round"/>
<path d="M248.80,1114.89L258.90,1135.09L238.70,1135.09Z" fill="#f3f9e9" stroke="#f3f9e9" stroke-width="3.2" stroke-linejoin="round"/>
<path d="M281.76,1103.79L291.86,1123.99L271.66,1123.99Z" fill="#f3f9e9" stroke="#f3f9e9" stroke-width="3.2" stroke-linejoin="round"/>
<path d="M314.72,1092.69L324.82,1112.89L304.62,1112.89Z" fill="#f3f9e9" stroke="#f3f9e9" stroke-width="3.2" stroke-linejoin="round"/>
<path d="M347.68,1081.59L357.78,1101.79L337.58,1101.79Z" fill="#f3f9e9" stroke="#f3f9e9" stroke-width="3.2" stroke-linejoin="round"/>
<path d="M380.64,1070.49L390.74,1090.69L370.54,1090.69Z" fill="#f3f9e9" stroke="#f3f9e9" stroke-width="3.2" stroke-linejoin="round"/>
<path d="M413.60,1059.39L423.70,1079.59L403.50,1079.59Z" fill="#f3f9e9" stroke="#f3f9e9" stroke-width="3.2" stroke-linejoin="round"/>
<path d="M446.56,1048.29L456.66,1068.49L436.46,1068.49Z" fill="#f3f9e9" stroke="#f3f9e9" stroke-width="3.2" stroke-linejoin="round"/>
<path d="M479.52,1037.19L489.62,1057.39L469.42,1057.39Z" fill="#f3f9e9" stroke="#f3f9e9" stroke-width="3.2" stroke-linejoin="round"/>
<path d="M512.48,1026.08L522.58,1046.28L502.38,1046.28Z" fill="#f3f9e9" stroke="#f3f9e9" stroke-width="3.2" stroke-linejoin="round"/>
<path d="M545.44,1014.98L555.54,1035.18L535.34,1035.18Z" fill="#f3f9e9" stroke="#f3f9e9" stroke-width="3.2" stroke-linejoin="round"/>
<path d="M578.40,1003.88L588.50,1024.08L568.30,1024.08Z" fill="#f3f9e9" stroke="#f3f9e9" stroke-width="3.2" stroke-linejoin="round"/>
<path d="M611.36,992.78L621.46,1012.98L601.26,1012.98Z" fill="#f3f9e9" stroke="#f3f9e9" stroke-width="3.2" stroke-linejoin="round"/>
<path d="M644.32,981.68L654.42,1001.88L634.22,1001.88Z" fill="#f3f9e9" stroke="#f3f9e9" stroke-width="3.2" stroke-linejoin="round"/>
<path d="M677.28,970.58L687.38,990.78L667.18,990.78Z" fill="#f3f9e9" stroke="#f3f9e9" stroke-width="3.2" stroke-linejoin="round"/>
<path d="M710.24,959.48L720.34,979.68L700.14,979.68Z" fill="#f3f9e9" stroke="#f3f9e9" stroke-width="3.2" stroke-linejoin="round"/>
<path d="M743.20,948.38L753.30,968.58L733.10,968.58Z" fill="#f3f9e9" stroke="#f3f9e9" stroke-width="3.2" stroke-linejoin="round"/>
<path d="M776.16,937.27L786.26,957.47L766.06,957.47Z" fill="#f3f9e9" stroke="#f3f9e9" stroke-width="3.2" stroke-linejoin="round"/>
<path d="M809.12,926.17L819.22,946.37L799.02,946.37Z" fill="#f3f9e9" stroke="#f3f9e9" stroke-width="3.2" stroke-linejoin="round"/>
<path d="M842.08,915.07L852.18,935.27L831.98,935.27Z" fill="#f3f9e9" stroke="#f3f9e9" stroke-width="3.2" stroke-linejoin="round"/>
<path d="M875.04,903.97L885.14,924.17L864.94,924.17Z" fill="#f3f9e9" stroke="#f3f9e9" stroke-width="3.2" stroke-linejoin="round"/>
<path d="M908.00,892.87L918.10,913.07L897.90,913.07Z" fill="#f3f9e9" stroke="#f3f9e9" stroke-width="3.2" stroke-linejoin="round"/>
<path d="M116.96,1170.76 L149.92,1161.01 L182.88,1151.27 L215.84,1141.52 L248.80,1131.78 L281.76,1122.04 L314.72,1112.29 L347.68,1102.55 L380.64,1092.80 L413.60,1083.06 L446.56,1073.32 L479.52,1063.57 L512.48,1053.83 L545.44,1044.08 L578.40,1034.34 L611.36,1024.60 L644.32,1014.85 L677.28,1005.11 L710.24,995.36 L743.20,985.62 L776.16,975.88 L809.12,966.13 L842.08,956.39 L875.04,946.64 L908.00,936.90" fill="none" stroke="#f3f9e9" stroke-width="6.4" stroke-linejoin="round"/>
<path d="M116.96,1160.76L126.96,1170.76L116.96,1180.76L106.96,1170.76Z" fill="#f3f9e9" stroke="#f3f9e9" stroke-width="3.2" stroke-linejoin="round"/>
<path d="M149.92,1151.01L159.92,1161.01L149.92,1171.01L139.92,1161.01Z" fill="#f3f9e9" stroke="#f3f9e9" stroke-width="3.2" stroke-linejoin="round"/>
<path d="M182.88,1141.27L192.88,1151.27L182.88,1161.27L172.88,1151.27Z" fill="#f3f9e9" stroke="#f3f9e9" stroke-width="3.2" stroke-linejoin="round"/>
<path d="M215.84,1131.52L225.84,1141.52L215.84,1151.52L205.84,1141.52Z" fill="#f3f9e9" stroke="#f3f9e9" stroke-width="3.2" stroke-linejoin="round"/>
<path d="M248.80,1121.78L258.80,1131.78L248.80,1141.78L238.80,1131.78Z" fill="#f3f9e9" stroke="#f3f9e9" stroke-width="3.2" stroke-linejoin="round"/>
<path d="M281.76,1112.04L291.76,1122.04L281.76,1132.04L271.76,1122.04Z" fill="#f3f9e9" stroke="#f3f9e9" stroke-width="3.2" stroke-linejoin="round"/>
<path d="M314.72,1102.29L324.72,1112.29L314.72,1122.29L304.72,1112.29Z" fill="#f3f9e9" stroke="#f3f9e9" stroke-width="3.2" stroke-linejoin="round"/>
<path d="M347.68,1092.55L357.68,1102.55L347.68,1112.55L337.68,1102.55Z" fill="#f3f9e9" stroke="#f3f9e9" stroke-width="3.2" stroke-linejoin="round"/>
<path d="M380.64,1082.80L390.64,1092.80L380.64,1102.80L370.64,1092.80Z" fill="#f3f9e9" stroke="#f3f9e9" stroke-width="3.2" stroke-linejoin="round"/>
<path d="M413.60,1073.06L423.60,1083.06L413.60,1093.06L403.60,1083.06Z" fill="#f3f9e9" stroke="#f3f9e9" stroke-width="3.2" stroke-linejoin="round"/>
<path d="M446.56,1063.32L456.56,1073.32L446.56,1083.32L436.56,1073.32Z" fill="#f3f9e9" stroke="#f3f9e9" stroke-width="3.2" stroke-linejoin="round"/>
<path d="M479.52,1053.57L489.52,1063.57L479.52,1073.57L469.52,1063.57Z" fill="#f3f9e9" stroke="#f3f9e9" stroke-width="3.2" stroke-linejoin="round"/>
<path d="M512.48,1043.83L522.48,1053.83L512.48,1063.83L502.48,1053.83Z" fill="#f3f9e9" stroke="#f3f9e9" stroke-width="3.2" stroke-linejoin="round"/>
<path d="M545.44,1034.08L555.44,1044.08L545.44,1054.08L535.44,1044.08Z" fill="#f3f9e9" stroke="#f3f9e9" stroke-width="3.2" stroke-linejoin="round"/>
<path d="M578.40,1024.34L588.40,1034.34L578.40,1044.34L568.40,1034.34Z" fill="#f3f9e9" stroke="#f3f9e9" stroke-width="3.2" stroke-linejoin="round"/>
<path d="M611.36,1014.60L621.36,1024.60L611.36,1034.60L601.36,1024.60Z" fill="#f3f9e9" stroke="#f3f9e9" stroke-width="3.2" stroke-linejoin="round"/>
<path d="M644.32,1004.85L654.32,1014.85L644.32,1024.85L634.32,1014.85Z" fill="#f3f9e9" stroke="#f3f9e9" stroke-width="3.2" stroke-linejoin="round"/>
<path d="M677.28,995.11L687.28,1005.11L677.28,1015.11L667.28,1005.11Z" fill="#f3f9e9" stroke="#f3f9e9" stroke-width="3.2" stroke-linejoin="round"/>
<path d="M710.24,985.36L720.24,995.36L710.24,1005.36L700.24,995.36Z" fill="#f3f9e9" stroke="#f3f9e9" stroke-width="3.2" stroke-linejoin="round"/>
<path d="M743.20,975.62L753.20,985.62L743.20,995.62L733.20,985.62Z" fill="#f3f9e9" stroke="#f3f9e9" stroke-width="3.2" stroke-linejoin="round"/>
<path d="M776.16,965.88L786.16,975.88L776.16,985.88L766.16,975.88Z" fill="#f3f9e9" stroke="#f3f9e9" stroke-width="3.2" stroke-linejoin="round"/>
<path d="M809.12,956.13L819.12,966.13L809.12,976.13L799.12,966.13Z" fill="#f3f9e9" stroke="#f3f9e9" stroke-width="3.2" stroke-linejoin="round"/>
<path d="M842.08,946.39L852.08,956.39L842.08,966.39L832.08,956.39Z" fill="#f3f9e9" stroke="#f3f9e9" stroke-width="3.2" stroke-linejoin="round"/>
<path d="M875.04,936.64L885.04,946.64L875.04,956.64L865.04,946.64Z" fill="#f3f9e9" stroke="#f3f9e9" stroke-width="3.2" stroke-linejoin="round"/>
<path d="M908.00,926.90L918.00,936.90L908.00,946.90L898.00,936.90Z" fill="#f3f9e9" stroke="#f3f9e9" stroke-width="3.2" stroke-linejoin="round"/>
<path d="M116.96,1164.35 L149.92,1148.21 L182.88,1132.06 L215.84,1115.91 L248.80,1099.76 L281.76,1083.62 L314.72,1067.47 L347.68,1051.32 L380.64,1035.18 L413.60,1019.03 L446.56,1002.88 L479.52,986.73 L512.48,970.59 L545.44,954.44 L578.40,938.29 L611.36,922.14 L644.32,906.00 L677.28,889.85 L710.24,873.70 L743.20,857.56 L776.16,841.41 L809.12,825.26 L842.08,809.11 L875.04,792.97 L908.00,776.82" fill="none" stroke="#f3f9e9" stroke-width="6.0" stroke-linejoin="round"/>
<circle cx="116.96" cy="1164.35" r="7.00" fill="#f3f9e9" stroke="#f3f9e9" stroke-width="3.2" stroke-linejoin="round"/>
<circle cx="149.92" cy="1148.21" r="7.00" fill="#f3f9e9" stroke="#f3f9e9" stroke-width="3.2" stroke-linejoin="round"/>
<circle cx="182.88" cy="1132.06" r="7.00" fill="#f3f9e9" stroke="#f3f9e9" stroke-width="3.2" stroke-linejoin="round"/>
<circle cx="215.84" cy="1115.91" r="7.00" fill="#f3f9e9" stroke="#f3f9e9" stroke-width="3.2" stroke-linejoin="round"/>
<circle cx="248.80" cy="1099.76" r="7.00" fill="#f3f9e9" stroke="#f3f9e9" stroke-width="3.2" stroke-linejoin="round"/>
<circle cx="281.76" cy="1083.62" r="7.00" fill="#f3f9e9" stroke="#f3f9e9" stroke-width="3.2" stroke-linejoin="round"/>
<circle cx="314.72" cy="1067.47" r="7.00" fill="#f3f9e9" stroke="#f3f9e9" stroke-width="3.2" stroke-linejoin="round"/>
<circle cx="347.68" cy="1051.32" r="7.00" fill="#f3f9e9" stroke="#f3f9e9" stroke-width="3.2" stroke-linejoin="round"/>
<circle cx="380.64" cy="1035.18" r="7.00" fill="#f3f9e9" stroke="#f3f9e9" stroke-width="3.2" stroke-linejoin="round"/>
<circle cx="413.60" cy="1019.03" r="7.00" fill="#f3f9e9" stroke="#f3f9e9" stroke-width="3.2" stroke-linejoin="round"/>
<circle cx="446.56" cy="1002.88" r="7.00" fill="#f3f9e9" stroke="#f3f9e9" stroke-width="3.2" stroke-linejoin="round"/>
<circle cx="479.52" cy="986.73" r="7.00" fill="#f3f9e9" stroke="#f3f9e9" stroke-width="3.2" stroke-linejoin="round"/>
<circle cx="512.48" cy="970.59" r="7.00" fill="#f3f9e9" stroke="#f3f9e9" stroke-width="3.2" stroke-linejoin="round"/>
<circle cx="545.44" cy="954.44" r="7.00" fill="#f3f9e9" stroke="#f3f9e9" stroke-width="3.2" stroke-linejoin="round"/>
<circle cx="578.40" cy="938.29" r="7.00" fill="#f3f9e9" stroke="#f3f9e9" stroke-width="3.2" stroke-linejoin="round"/>
<circle cx="611.36" cy="922.14" r="7.00" fill="#f3f9e9" stroke="#f3f9e9" stroke-width="3.2" stroke-linejoin="round"/>
<circle cx="644.32" cy="906.00" r="7.00" fill="#f3f9e9" stroke="#f3f9e9" stroke-width="3.2" stroke-linejoin="round"/>
<circle cx="677.28" cy="889.85" r="7.00" fill="#f3f9e9" stroke="#f3f9e9" stroke-width="3.2" stroke-linejoin="round"/>
<circle cx="710.24" cy="873.70" r="7.00" fill="#f3f9e9" stroke="#f3f9e9" stroke-width="3.2" stroke-linejoin="round"/>
<circle cx="743.20" cy="857.56" r="7.00" fill="#f3f9e9" stroke="#f3f9e9" stroke-width="3.2" stroke-linejoin="round"/>
<circle cx="776.16" cy="841.41" r="7.00" fill="#f3f9e9" stroke="#f3f9e9" stroke-width="3.2" stroke-linejoin="round"/>
<circle cx="809.12" cy="825.26" r="7.00" fill="#f3f9e9" stroke="#f3f9e9" stroke-width="3.2" stroke-linejoin="round"/>
<circle cx="842.08" cy="809.11" r="7.00" fill="#f3f9e9" stroke="#f3f9e9" stroke-width="3.2" stroke-linejoin="round"/>
<circle cx="875.04" cy="792.97" r="7.00" fill="#f3f9e9" stroke="#f3f9e9" stroke-width="3.2" stroke-linejoin="round"/>
<circle cx="908.00" cy="776.82" r="7.00" fill="#f3f9e9" stroke="#f3f9e9" stroke-width="3.2" stroke-linejoin="round"/>
<path d="M116.96,1164.82 L149.92,1149.15 L182.88,1133.47 L215.84,1117.79 L248.80,1102.11 L281.76,1086.44 L314.72,1070.76 L347.68,1055.08 L380.64,1039.40 L413.60,1023.73 L446.56,1008.05 L479.52,992.37 L512.48,976.69 L545.44,961.02 L578.40,945.34 L611.36,929.66 L644.32,913.98 L677.28,898.31 L710.24,882.63 L743.20,866.95 L776.16,851.27 L809.12,835.60 L842.08,819.92 L875.04,804.24 L908.00,788.57" fill="none" stroke="#f3f9e9" stroke-width="6.0" stroke-linejoin="round"/>
<path d="M116.96,1154.72L127.06,1174.92L106.86,1174.92Z" fill="#f3f9e9" stroke="#f3f9e9" stroke-width="3.2" stroke-linejoin="round"/>
<path d="M149.92,1139.05L160.02,1159.25L139.82,1159.25Z" fill="#f3f9e9" stroke="#f3f9e9" stroke-width="3.2" stroke-linejoin="round"/>
<path d="M182.88,1123.37L192.98,1143.57L172.78,1143.57Z" fill="#f3f9e9" stroke="#f3f9e9" stroke-width="3.2" stroke-linejoin="round"/>
<path d="M215.84,1107.69L225.94,1127.89L205.74,1127.89Z" fill="#f3f9e9" stroke="#f3f9e9" stroke-width="3.2" stroke-linejoin="round"/>
<path d="M248.80,1092.01L258.90,1112.21L238.70,1112.21Z" fill="#f3f9e9" stroke="#f3f9e9" stroke-width="3.2" stroke-linejoin="round"/>
<path d="M281.76,1076.34L291.86,1096.54L271.66,1096.54Z" fill="#f3f9e9" stroke="#f3f9e9" stroke-width="3.2" stroke-linejoin="round"/>
<path d="M314.72,1060.66L324.82,1080.86L304.62,1080.86Z" fill="#f3f9e9" stroke="#f3f9e9" stroke-width="3.2" stroke-linejoin="round"/>
<path d="M347.68,1044.98L357.78,1065.18L337.58,1065.18Z" fill="#f3f9e9" stroke="#f3f9e9" stroke-width="3.2" stroke-linejoin="round"/>
<path d="M380.64,1029.30L390.74,1049.50L370.54,1049.50Z" fill="#f3f9e9" stroke="#f3f9e9" stroke-width="3.2" stroke-linejoin="round"/>
<path d="M413.60,1013.63L423.70,1033.83L403.50,1033.83Z" fill="#f3f9e9" stroke="#f3f9e9" stroke-width="3.2" stroke-linejoin="round"/>
<path d="M446.56,997.95L456.66,1018.15L436.46,1018.15Z" fill="#f3f9e9" stroke="#f3f9e9" stroke-width="3.2" stroke-linejoin="round"/>
<path d="M479.52,982.27L489.62,1002.47L469.42,1002.47Z" fill="#f3f9e9" stroke="#f3f9e9" stroke-width="3.2" stroke-linejoin="round"/>
<path d="M512.48,966.59L522.58,986.79L502.38,986.79Z" fill="#f3f9e9" stroke="#f3f9e9" stroke-width="3.2" stroke-linejoin="round"/>
<path d="M545.44,950.92L555.54,971.12L535.34,971.12Z" fill="#f3f9e9" stroke="#f3f9e9" stroke-width="3.2" stroke-linejoin="round"/>
<path d="M578.40,935.24L588.50,955.44L568.30,955.44Z" fill="#f3f9e9" stroke="#f3f9e9" stroke-width="3.2" stroke-linejoin="round"/>
<path d="M611.36,919.56L621.46,939.76L601.26,939.76Z" fill="#f3f9e9" stroke="#f3f9e9" stroke-width="3.2" stroke-linejoin="round"/>
<path d="M644.32,903.88L654.42,924.08L634.22,924.08Z" fill="#f3f9e9" stroke="#f3f9e9" stroke-width="3.2" stroke-linejoin="round"/>
<path d="M677.28,888.21L687.38,908.41L667.18,908.41Z" fill="#f3f9e9" stroke="#f3f9e9" stroke-width="3.2" stroke-linejoin="round"/>
<path d="M710.24,872.53L720.34,892.73L700.14,892.73Z" fill="#f3f9e9" stroke="#f3f9e9" stroke-width="3.2" stroke-linejoin="round"/>
<path d="M743.20,856.85L753.30,877.05L733.10,877.05Z" fill="#f3f9e9" stroke="#f3f9e9" stroke-width="3.2" stroke-linejoin="round"/>
<path d="M776.16,841.17L786.26,861.37L766.06,861.37Z" fill="#f3f9e9" stroke="#f3f9e9" stroke-width="3.2" stroke-linejoin="round"/>
<path d="M809.12,825.50L819.22,845.70L799.02,845.70Z" fill="#f3f9e9" stroke="#f3f9e9" stroke-width="3.2" stroke-linejoin="round"/>
<path d="M842.08,809.82L852.18,830.02L831.98,830.02Z" fill="#f3f9e9" stroke="#f3f9e9" stroke-width="3.2" stroke-linejoin="round"/>
<path d="M875.04,794.14L885.14,814.34L864.94,814.34Z" fill="#f3f9e9" stroke="#f3f9e9" stroke-width="3.2" stroke-linejoin="round"/>
<path d="M908.00,778.47L918.10,798.67L897.90,798.67Z" fill="#f3f9e9" stroke="#f3f9e9" stroke-width="3.2" stroke-linejoin="round"/>
<path d="M116.96,1166.82 L149.92,1153.15 L182.88,1139.47 L215.84,1125.79 L248.80,1112.12 L281.76,1098.44 L314.72,1084.77 L347.68,1071.09 L380.64,1057.41 L413.60,1043.74 L446.56,1030.06 L479.52,1016.38 L512.48,1002.71 L545.44,989.03 L578.40,975.35 L611.36,961.68 L644.32,948.00 L677.28,934.32 L710.24,920.65 L743.20,906.97 L776.16,893.30 L809.12,879.62 L842.08,865.94 L875.04,852.27 L908.00,838.59" fill="none" stroke="#f3f9e9" stroke-width="6.0" stroke-linejoin="round"/>
<path d="M116.96,1156.82L126.96,1166.82L116.96,1176.82L106.96,1166.82Z" fill="#f3f9e9" stroke="#f3f9e9" stroke-width="3.2" stroke-linejoin="round"/>
<path d="M149.92,1143.15L159.92,1153.15L149.92,1163.15L139.92,1153.15Z" fill="#f3f9e9" stroke="#f3f9e9" stroke-width="3.2" stroke-linejoin="round"/>
<path d="M182.88,1129.47L192.88,1139.47L182.88,1149.47L172.88,1139.47Z" fill="#f3f9e9" stroke="#f3f9e9" stroke-width="3.2" stroke-linejoin="round"/>
<path d="M215.84,1115.79L225.84,1125.79L215.84,1135.79L205.84,1125.79Z" fill="#f3f9e9" stroke="#f3f9e9" stroke-width="3.2" stroke-linejoin="round"/>
<path d="M248.80,1102.12L258.80,1112.12L248.80,1122.12L238.80,1112.12Z" fill="#f3f9e9" stroke="#f3f9e9" stroke-width="3.2" stroke-linejoin="round"/>
<path d="M281.76,1088.44L291.76,1098.44L281.76,1108.44L271.76,1098.44Z" fill="#f3f9e9" stroke="#f3f9e9" stroke-width="3.2" stroke-linejoin="round"/>
<path d="M314.72,1074.77L324.72,1084.77L314.72,1094.77L304.72,1084.77Z" fill="#f3f9e9" stroke="#f3f9e9" stroke-width="3.2" stroke-linejoin="round"/>
<path d="M347.68,1061.09L357.68,1071.09L347.68,1081.09L337.68,1071.09Z" fill="#f3f9e9" stroke="#f3f9e9" stroke-width="3.2" stroke-linejoin="round"/>
<path d="M380.64,1047.41L390.64,1057.41L380.64,1067.41L370.64,1057.41Z" fill="#f3f9e9" stroke="#f3f9e9" stroke-width="3.2" stroke-linejoin="round"/>
<path d="M413.60,1033.74L423.60,1043.74L413.60,1053.74L403.60,1043.74Z" fill="#f3f9e9" stroke="#f3f9e9" stroke-width="3.2" stroke-linejoin="round"/>
<path d="M446.56,1020.06L456.56,1030.06L446.56,1040.06L436.56,1030.06Z" fill="#f3f9e9" stroke="#f3f9e9" stroke-width="3.2" stroke-linejoin="round"/>
<path d="M479.52,1006.38L489.52,1016.38L479.52,1026.38L469.52,1016.38Z" fill="#f3f9e9" stroke="#f3f9e9" stroke-width="3.2" stroke-linejoin="round"/>
<path d="M512.48,992.71L522.48,1002.71L512.48,1012.71L502.48,1002.71Z" fill="#f3f9e9" stroke="#f3f9e9" stroke-width="3.2" stroke-linejoin="round"/>
<path d="M545.44,979.03L555.44,989.03L545.44,999.03L535.44,989.03Z" fill="#f3f9e9" stroke="#f3f9e9" stroke-width="3.2" stroke-linejoin="round"/>
<path d="M578.40,965.35L588.40,975.35L578.40,985.35L568.40,975.35Z" fill="#f3f9e9" stroke="#f3f9e9" stroke-width="3.2" stroke-linejoin="round"/>
<path d="M611.36,951.68L621.36,961.68L611.36,971.68L601.36,961.68Z" fill="#f3f9e9" stroke="#f3f9e9" stroke-width="3.2" stroke-linejoin="round"/>
<path d="M644.32,938.00L654.32,948.00L644.32,958.00L634.32,948.00Z" fill="#f3f9e9" stroke="#f3f9e9" stroke-width="3.2" stroke-linejoin="round"/>
<path d="M677.28,924.32L687.28,934.32L677.28,944.32L667.28,934.32Z" fill="#f3f9e9" stroke="#f3f9e9" stroke-width="3.2" stroke-linejoin="round"/>
<path d="M710.24,910.65L720.24,920.65L710.24,930.65L700.24,920.65Z" fill="#f3f9e9" stroke="#f3f9e9" stroke-width="3.2" stroke-linejoin="round"/>
<path d="M743.20,896.97L753.20,906.97L743.20,916.97L733.20,906.97Z" fill="#f3f9e9" stroke="#f3f9e9" stroke-width="3.2" stroke-linejoin="round"/>
<path d="M776.16,883.30L786.16,893.30L776.16,903.30L766.16,893.30Z" fill="#f3f9e9" stroke="#f3f9e9" stroke-width="3.2" stroke-linejoin="round"/>
<path d="M809.12,869.62L819.12,879.62L809.12,889.62L799.12,879.62Z" fill="#f3f9e9" stroke="#f3f9e9" stroke-width="3.2" stroke-linejoin="round"/>
<path d="M842.08,855.94L852.08,865.94L842.08,875.94L832.08,865.94Z" fill="#f3f9e9" stroke="#f3f9e9" stroke-width="3.2" stroke-linejoin="round"/>
<path d="M875.04,842.27L885.04,852.27L875.04,862.27L865.04,852.27Z" fill="#f3f9e9" stroke="#f3f9e9" stroke-width="3.2" stroke-linejoin="round"/>
<path d="M908.00,828.59L918.00,838.59L908.00,848.59L898.00,838.59Z" fill="#f3f9e9" stroke="#f3f9e9" stroke-width="3.2" stroke-linejoin="round"/>
<circle cx="116.96" cy="1166.09" r="7.00" fill="#163063" stroke="#163063" stroke-width="2"/>
<circle cx="149.92" cy="1151.69" r="7.00" fill="#163063" stroke="#163063" stroke-width="2"/>
<circle cx="182.88" cy="1137.28" r="7.00" fill="#163063" stroke="#163063" stroke-width="2"/>
<circle cx="215.84" cy="1122.87" r="7.00" fill="#163063" stroke="#163063" stroke-width="2"/>
<circle cx="248.80" cy="1108.46" r="7.00" fill="#163063" stroke="#163063" stroke-width="2"/>
<circle cx="281.76" cy="1094.06" r="7.00" fill="#163063" stroke="#163063" stroke-width="2"/>
<circle cx="314.72" cy="1079.65" r="7.00" fill="#163063" stroke="#163063" stroke-width="2"/>
<circle cx="347.68" cy="1065.24" r="7.00" fill="#163063" stroke="#163063" stroke-width="2"/>
<circle cx="380.64" cy="1050.84" r="7.00" fill="#163063" stroke="#163063" stroke-width="2"/>
<circle cx="413.60" cy="1036.43" r="7.00" fill="#163063" stroke="#163063" stroke-width="2"/>
<circle cx="446.56" cy="1022.02" r="7.00" fill="#163063" stroke="#163063" stroke-width="2"/>
<circle cx="479.52" cy="1007.61" r="7.00" fill="#163063" stroke="#163063" stroke-width="2"/>
<circle cx="512.48" cy="993.21" r="7.00" fill="#163063" stroke="#163063" stroke-width="2"/>
<circle cx="545.44" cy="978.80" r="7.00" fill="#163063" stroke="#163063" stroke-width="2"/>
<circle cx="578.40" cy="964.39" r="7.00" fill="#163063" stroke="#163063" stroke-width="2"/>
<circle cx="611.36" cy="949.98" r="7.00" fill="#163063" stroke="#163063" stroke-width="2"/>
<circle cx="644.32" cy="935.58" r="7.00" fill="#163063" stroke="#163063" stroke-width="2"/>
<circle cx="677.28" cy="921.17" r="7.00" fill="#163063" stroke="#163063" stroke-width="2"/>
<circle cx="710.24" cy="906.76" r="7.00" fill="#163063" stroke="#163063" stroke-width="2"/>
<circle cx="743.20" cy="892.36" r="7.00" fill="#163063" stroke="#163063" stroke-width="2"/>
<circle cx="776.16" cy="877.95" r="7.00" fill="#163063" stroke="#163063" stroke-width="2"/>
<circle cx="809.12" cy="863.54" r="7.00" fill="#163063" stroke="#163063" stroke-width="2"/>
<circle cx="842.08" cy="849.13" r="7.00" fill="#163063" stroke="#163063" stroke-width="2"/>
<circle cx="875.04" cy="834.73" r="7.00" fill="#163063" stroke="#163063" stroke-width="2"/>
<circle cx="908.00" cy="820.32" r="7.00" fill="#163063" stroke="#163063" stroke-width="2"/>
<path d="M116.96,1156.36L127.06,1176.56L106.86,1176.56Z" fill="#163063" stroke="#163063" stroke-width="2"/>
<path d="M149.92,1142.32L160.02,1162.52L139.82,1162.52Z" fill="#163063" stroke="#163063" stroke-width="2"/>
<path d="M182.88,1128.27L192.98,1148.47L172.78,1148.47Z" fill="#163063" stroke="#163063" stroke-width="2"/>
<path d="M215.84,1114.23L225.94,1134.43L205.74,1134.43Z" fill="#163063" stroke="#163063" stroke-width="2"/>
<path d="M248.80,1100.19L258.90,1120.39L238.70,1120.39Z" fill="#163063" stroke="#163063" stroke-width="2"/>
<path d="M281.76,1086.15L291.86,1106.35L271.66,1106.35Z" fill="#163063" stroke="#163063" stroke-width="2"/>
<path d="M314.72,1072.11L324.82,1092.31L304.62,1092.31Z" fill="#163063" stroke="#163063" stroke-width="2"/>
<path d="M347.68,1058.07L357.78,1078.27L337.58,1078.27Z" fill="#163063" stroke="#163063" stroke-width="2"/>
<path d="M380.64,1044.02L390.74,1064.22L370.54,1064.22Z" fill="#163063" stroke="#163063" stroke-width="2"/>
<path d="M413.60,1029.98L423.70,1050.18L403.50,1050.18Z" fill="#163063" stroke="#163063" stroke-width="2"/>
<path d="M446.56,1015.94L456.66,1036.14L436.46,1036.14Z" fill="#163063" stroke="#163063" stroke-width="2"/>
<path d="M479.52,1001.90L489.62,1022.10L469.42,1022.10Z" fill="#163063" stroke="#163063" stroke-width="2"/>
<path d="M512.48,987.86L522.58,1008.06L502.38,1008.06Z" fill="#163063" stroke="#163063" stroke-width="2"/>
<path d="M545.44,973.81L555.54,994.01L535.34,994.01Z" fill="#163063" stroke="#163063" stroke-width="2"/>
<path d="M578.40,959.77L588.50,979.97L568.30,979.97Z" fill="#163063" stroke="#163063" stroke-width="2"/>
<path d="M611.36,945.73L621.46,965.93L601.26,965.93Z" fill="#163063" stroke="#163063" stroke-width="2"/>
<path d="M644.32,931.69L654.42,951.89L634.22,951.89Z" fill="#163063" stroke="#163063" stroke-width="2"/>
<path d="M677.28,917.65L687.38,937.85L667.18,937.85Z" fill="#163063" stroke="#163063" stroke-width="2"/>
<path d="M710.24,903.61L720.34,923.81L700.14,923.81Z" fill="#163063" stroke="#163063" stroke-width="2"/>
<path d="M743.20,889.56L753.30,909.76L733.10,909.76Z" fill="#163063" stroke="#163063" stroke-width="2"/>
<path d="M776.16,875.52L786.26,895.72L766.06,895.72Z" fill="#163063" stroke="#163063" stroke-width="2"/>
<path d="M809.12,861.48L819.22,881.68L799.02,881.68Z" fill="#163063" stroke="#163063" stroke-width="2"/>
<path d="M842.08,847.44L852.18,867.64L831.98,867.64Z" fill="#163063" stroke="#163063" stroke-width="2"/>
<path d="M875.04,833.40L885.14,853.60L864.94,853.60Z" fill="#163063" stroke="#163063" stroke-width="2"/>
<path d="M908.00,819.35L918.10,839.55L897.90,839.55Z" fill="#163063" stroke="#163063" stroke-width="2"/>
<path d="M116.96,1158.29L126.96,1168.29L116.96,1178.29L106.96,1168.29Z" fill="#163063" stroke="#163063" stroke-width="2"/>
<path d="M149.92,1146.07L159.92,1156.07L149.92,1166.07L139.92,1156.07Z" fill="#163063" stroke="#163063" stroke-width="2"/>
<path d="M182.88,1133.86L192.88,1143.86L182.88,1153.86L172.88,1143.86Z" fill="#163063" stroke="#163063" stroke-width="2"/>
<path d="M215.84,1121.64L225.84,1131.64L215.84,1141.64L205.84,1131.64Z" fill="#163063" stroke="#163063" stroke-width="2"/>
<path d="M248.80,1109.43L258.80,1119.43L248.80,1129.43L238.80,1119.43Z" fill="#163063" stroke="#163063" stroke-width="2"/>
<path d="M281.76,1097.21L291.76,1107.21L281.76,1117.21L271.76,1107.21Z" fill="#163063" stroke="#163063" stroke-width="2"/>
<path d="M314.72,1085.00L324.72,1095.00L314.72,1105.00L304.72,1095.00Z" fill="#163063" stroke="#163063" stroke-width="2"/>
<path d="M347.68,1072.78L357.68,1082.78L347.68,1092.78L337.68,1082.78Z" fill="#163063" stroke="#163063" stroke-width="2"/>
<path d="M380.64,1060.57L390.64,1070.57L380.64,1080.57L370.64,1070.57Z" fill="#163063" stroke="#163063" stroke-width="2"/>
<path d="M413.60,1048.35L423.60,1058.35L413.60,1068.35L403.60,1058.35Z" fill="#163063" stroke="#163063" stroke-width="2"/>
<path d="M446.56,1036.14L456.56,1046.14L446.56,1056.14L436.56,1046.14Z" fill="#163063" stroke="#163063" stroke-width="2"/>
<path d="M479.52,1023.92L489.52,1033.92L479.52,1043.92L469.52,1033.92Z" fill="#163063" stroke="#163063" stroke-width="2"/>
<path d="M512.48,1011.71L522.48,1021.71L512.48,1031.71L502.48,1021.71Z" fill="#163063" stroke="#163063" stroke-width="2"/>
<path d="M545.44,999.49L555.44,1009.49L545.44,1019.49L535.44,1009.49Z" fill="#163063" stroke="#163063" stroke-width="2"/>
<path d="M578.40,987.28L588.40,997.28L578.40,1007.28L568.40,997.28Z" fill="#163063" stroke="#163063" stroke-width="2"/>
<path d="M611.36,975.06L621.36,985.06L611.36,995.06L601.36,985.06Z" fill="#163063" stroke="#163063" stroke-width="2"/>
<path d="M644.32,962.85L654.32,972.85L644.32,982.85L634.32,972.85Z" fill="#163063" stroke="#163063" stroke-width="2"/>
<path d="M677.28,950.63L687.28,960.63L677.28,970.63L667.28,960.63Z" fill="#163063" stroke="#163063" stroke-width="2"/>
<path d="M710.24,938.42L720.24,948.42L710.24,958.42L700.24,948.42Z" fill="#163063" stroke="#163063" stroke-width="2"/>
<path d="M743.20,926.20L753.20,936.20L743.20,946.20L733.20,936.20Z" fill="#163063" stroke="#163063" stroke-width="2"/>
<path d="M776.16,913.99L786.16,923.99L776.16,933.99L766.16,923.99Z" fill="#163063" stroke="#163063" stroke-width="2"/>
<path d="M809.12,901.77L819.12,911.77L809.12,921.77L799.12,911.77Z" fill="#163063" stroke="#163063" stroke-width="2"/>
<path d="M842.08,889.56L852.08,899.56L842.08,909.56L832.08,899.56Z" fill="#163063" stroke="#163063" stroke-width="2"/>
<path d="M875.04,877.34L885.04,887.34L875.04,897.34L865.04,887.34Z" fill="#163063" stroke="#163063" stroke-width="2"/>
<path d="M908.00,865.13L918.00,875.13L908.00,885.13L898.00,875.13Z" fill="#163063" stroke="#163063" stroke-width="2"/>
<path d="M116.96,1166.09 L149.92,1151.69 L182.88,1137.28 L215.84,1122.87 L248.80,1108.46 L281.76,1094.06 L314.72,1079.65 L347.68,1065.24 L380.64,1050.84 L413.60,1036.43 L446.56,1022.02 L479.52,1007.61 L512.48,993.21 L545.44,978.80 L578.40,964.39 L611.36,949.98 L644.32,935.58 L677.28,921.17 L710.24,906.76 L743.20,892.36 L776.16,877.95 L809.12,863.54 L842.08,849.13 L875.04,834.73 L908.00,820.32" fill="none" stroke="#17336a" stroke-width="2.7" stroke-linejoin="round"/>
<circle cx="116.96" cy="1166.09" r="7.00" fill="#2e5785"/>
<circle cx="149.92" cy="1151.69" r="7.00" fill="#2e5785"/>
<circle cx="182.88" cy="1137.28" r="7.00" fill="#2e5785"/>
<circle cx="215.84" cy="1122.87" r="7.00" fill="#2e5785"/>
<circle cx="248.80" cy="1108.46" r="7.00" fill="#2e5785"/>
<circle cx="281.76" cy="1094.06" r="7.00" fill="#2e5785"/>
<circle cx="314.72" cy="1079.65" r="7.00" fill="#2e5785"/>
<circle cx="347.68" cy="1065.24" r="7.00" fill="#2e5785"/>
<circle cx="380.64" cy="1050.84" r="7.00" fill="#2e5785"/>
<circle cx="413.60" cy="1036.43" r="7.00" fill="#2e5785"/>
<circle cx="446.56" cy="1022.02" r="7.00" fill="#2e5785"/>
<circle cx="479.52" cy="1007.61" r="7.00" fill="#2e5785"/>
<circle cx="512.48" cy="993.21" r="7.00" fill="#2e5785"/>
<circle cx="545.44" cy="978.80" r="7.00" fill="#2e5785"/>
<circle cx="578.40" cy="964.39" r="7.00" fill="#2e5785"/>
<circle cx="611.36" cy="949.98" r="7.00" fill="#2e5785"/>
<circle cx="644.32" cy="935.58" r="7.00" fill="#2e5785"/>
<circle cx="677.28" cy="921.17" r="7.00" fill="#2e5785"/>
<circle cx="710.24" cy="906.76" r="7.00" fill="#2e5785"/>
<circle cx="743.20" cy="892.36" r="7.00" fill="#2e5785"/>
<circle cx="776.16" cy="877.95" r="7.00" fill="#2e5785"/>
<circle cx="809.12" cy="863.54" r="7.00" fill="#2e5785"/>
<circle cx="842.08" cy="849.13" r="7.00" fill="#2e5785"/>
<circle cx="875.04" cy="834.73" r="7.00" fill="#2e5785"/>
<circle cx="908.00" cy="820.32" r="7.00" fill="#2e5785"/>
<path d="M116.96,1166.46 L149.92,1152.42 L182.88,1138.37 L215.84,1124.33 L248.80,1110.29 L281.76,1096.25 L314.72,1082.21 L347.68,1068.17 L380.64,1054.12 L413.60,1040.08 L446.56,1026.04 L479.52,1012.00 L512.48,997.96 L545.44,983.91 L578.40,969.87 L611.36,955.83 L644.32,941.79 L677.28,927.75 L710.24,913.71 L743.20,899.66 L776.16,885.62 L809.12,871.58 L842.08,857.54 L875.04,843.50 L908.00,829.45" fill="none" stroke="#17336a" stroke-width="2.7" stroke-linejoin="round"/>
<path d="M116.96,1156.36L127.06,1176.56L106.86,1176.56Z" fill="#2e5785"/>
<path d="M149.92,1142.32L160.02,1162.52L139.82,1162.52Z" fill="#2e5785"/>
<path d="M182.88,1128.27L192.98,1148.47L172.78,1148.47Z" fill="#2e5785"/>
<path d="M215.84,1114.23L225.94,1134.43L205.74,1134.43Z" fill="#2e5785"/>
<path d="M248.80,1100.19L258.90,1120.39L238.70,1120.39Z" fill="#2e5785"/>
<path d="M281.76,1086.15L291.86,1106.35L271.66,1106.35Z" fill="#2e5785"/>
<path d="M314.72,1072.11L324.82,1092.31L304.62,1092.31Z" fill="#2e5785"/>
<path d="M347.68,1058.07L357.78,1078.27L337.58,1078.27Z" fill="#2e5785"/>
<path d="M380.64,1044.02L390.74,1064.22L370.54,1064.22Z" fill="#2e5785"/>
<path d="M413.60,1029.98L423.70,1050.18L403.50,1050.18Z" fill="#2e5785"/>
<path d="M446.56,1015.94L456.66,1036.14L436.46,1036.14Z" fill="#2e5785"/>
<path d="M479.52,1001.90L489.62,1022.10L469.42,1022.10Z" fill="#2e5785"/>
<path d="M512.48,987.86L522.58,1008.06L502.38,1008.06Z" fill="#2e5785"/>
<path d="M545.44,973.81L555.54,994.01L535.34,994.01Z" fill="#2e5785"/>
<path d="M578.40,959.77L588.50,979.97L568.30,979.97Z" fill="#2e5785"/>
<path d="M611.36,945.73L621.46,965.93L601.26,965.93Z" fill="#2e5785"/>
<path d="M644.32,931.69L654.42,951.89L634.22,951.89Z" fill="#2e5785"/>
<path d="M677.28,917.65L687.38,937.85L667.18,937.85Z" fill="#2e5785"/>
<path d="M710.24,903.61L720.34,923.81L700.14,923.81Z" fill="#2e5785"/>
<path d="M743.20,889.56L753.30,909.76L733.10,909.76Z" fill="#2e5785"/>
<path d="M776.16,875.52L786.26,895.72L766.06,895.72Z" fill="#2e5785"/>
<path d="M809.12,861.48L819.22,881.68L799.02,881.68Z" fill="#2e5785"/>
<path d="M842.08,847.44L852.18,867.64L831.98,867.64Z" fill="#2e5785"/>
<path d="M875.04,833.40L885.14,853.60L864.94,853.60Z" fill="#2e5785"/>
<path d="M908.00,819.35L918.10,839.55L897.90,839.55Z" fill="#2e5785"/>
<path d="M116.96,1168.29 L149.92,1156.07 L182.88,1143.86 L215.84,1131.64 L248.80,1119.43 L281.76,1107.21 L314.72,1095.00 L347.68,1082.78 L380.64,1070.57 L413.60,1058.35 L446.56,1046.14 L479.52,1033.92 L512.48,1021.71 L545.44,1009.49 L578.40,997.28 L611.36,985.06 L644.32,972.85 L677.28,960.63 L710.24,948.42 L743.20,936.20 L776.16,923.99 L809.12,911.77 L842.08,899.56 L875.04,887.34 L908.00,875.13" fill="none" stroke="#17336a" stroke-width="2.7" stroke-linejoin="round"/>
<path d="M116.96,1158.29L126.96,1168.29L116.96,1178.29L106.96,1168.29Z" fill="#2e5785"/>
<path d="M149.92,1146.07L159.92,1156.07L149.92,1166.07L139.92,1156.07Z" fill="#2e5785"/>
<path d="M182.88,1133.86L192.88,1143.86L182.88,1153.86L172.88,1143.86Z" fill="#2e5785"/>
<path d="M215.84,1121.64L225.84,1131.64L215.84,1141.64L205.84,1131.64Z" fill="#2e5785"/>
<path d="M248.80,1109.43L258.80,1119.43L248.80,1129.43L238.80,1119.43Z" fill="#2e5785"/>
<path d="M281.76,1097.21L291.76,1107.21L281.76,1117.21L271.76,1107.21Z" fill="#2e5785"/>
<path d="M314.72,1085.00L324.72,1095.00L314.72,1105.00L304.72,1095.00Z" fill="#2e5785"/>
<path d="M347.68,1072.78L357.68,1082.78L347.68,1092.78L337.68,1082.78Z" fill="#2e5785"/>
<path d="M380.64,1060.57L390.64,1070.57L380.64,1080.57L370.64,1070.57Z" fill="#2e5785"/>
<path d="M413.60,1048.35L423.60,1058.35L413.60,1068.35L403.60,1058.35Z" fill="#2e5785"/>
<path d="M446.56,1036.14L456.56,1046.14L446.56,1056.14L436.56,1046.14Z" fill="#2e5785"/>
<path d="M479.52,1023.92L489.52,1033.92L479.52,1043.92L469.52,1033.92Z" fill="#2e5785"/>
<path d="M512.48,1011.71L522.48,1021.71L512.48,1031.71L502.48,1021.71Z" fill="#2e5785"/>
<path d="M545.44,999.49L555.44,1009.49L545.44,1019.49L535.44,1009.49Z" fill="#2e5785"/>
<path d="M578.40,987.28L588.40,997.28L578.40,1007.28L568.40,997.28Z" fill="#2e5785"/>
<path d="M611.36,975.06L621.36,985.06L611.36,995.06L601.36,985.06Z" fill="#2e5785"/>
<path d="M644.32,962.85L654.32,972.85L644.32,982.85L634.32,972.85Z" fill="#2e5785"/>
<path d="M677.28,950.63L687.28,960.63L677.28,970.63L667.28,960.63Z" fill="#2e5785"/>
<path d="M710.24,938.42L720.24,948.42L710.24,958.42L700.24,948.42Z" fill="#2e5785"/>
<path d="M743.20,926.20L753.20,936.20L743.20,946.20L733.20,936.20Z" fill="#2e5785"/>
<path d="M776.16,913.99L786.16,923.99L776.16,933.99L766.16,923.99Z" fill="#2e5785"/>
<path d="M809.12,901.77L819.12,911.77L809.12,921.77L799.12,911.77Z" fill="#2e5785"/>
<path d="M842.08,889.56L852.08,899.56L842.08,909.56L832.08,899.56Z" fill="#2e5785"/>
<path d="M875.04,877.34L885.04,887.34L875.04,897.34L865.04,887.34Z" fill="#2e5785"/>
<path d="M908.00,865.13L918.00,875.13L908.00,885.13L898.00,875.13Z" fill="#2e5785"/>
<path d="M116.96,1169.78 L149.92,1159.06 L182.88,1148.34 L215.84,1137.63 L248.80,1126.91 L281.76,1116.19 L314.72,1105.47 L347.68,1094.75 L380.64,1084.03 L413.60,1073.32 L446.56,1062.60 L479.52,1051.88 L512.48,1041.16 L545.44,1030.44 L578.40,1019.72 L611.36,1009.01 L644.32,998.29 L677.28,987.57 L710.24,976.85 L743.20,966.13 L776.16,955.41 L809.12,944.70 L842.08,933.98 L875.04,923.26 L908.00,912.54" fill="none" stroke="#9a20ad" stroke-width="3.0" stroke-linejoin="round"/>
<circle cx="116.96" cy="1169.78" r="7.00" fill="#b02dc3"/>
<circle cx="149.92" cy="1159.06" r="7.00" fill="#b02dc3"/>
<circle cx="182.88" cy="1148.34" r="7.00" fill="#b02dc3"/>
<circle cx="215.84" cy="1137.63" r="7.00" fill="#b02dc3"/>
<circle cx="248.80" cy="1126.91" r="7.00" fill="#b02dc3"/>
<circle cx="281.76" cy="1116.19" r="7.00" fill="#b02dc3"/>
<circle cx="314.72" cy="1105.47" r="7.00" fill="#b02dc3"/>
<circle cx="347.68" cy="1094.75" r="7.00" fill="#b02dc3"/>
<circle cx="380.64" cy="1084.03" r="7.00" fill="#b02dc3"/>
<circle cx="413.60" cy="1073.32" r="7.00" fill="#b02dc3"/>
<circle cx="446.56" cy="1062.60" r="7.00" fill="#b02dc3"/>
<circle cx="479.52" cy="1051.88" r="7.00" fill="#b02dc3"/>
<circle cx="512.48" cy="1041.16" r="7.00" fill="#b02dc3"/>
<circle cx="545.44" cy="1030.44" r="7.00" fill="#b02dc3"/>
<circle cx="578.40" cy="1019.72" r="7.00" fill="#b02dc3"/>
<circle cx="611.36" cy="1009.01" r="7.00" fill="#b02dc3"/>
<circle cx="644.32" cy="998.29" r="7.00" fill="#b02dc3"/>
<circle cx="677.28" cy="987.57" r="7.00" fill="#b02dc3"/>
<circle cx="710.24" cy="976.85" r="7.00" fill="#b02dc3"/>
<circle cx="743.20" cy="966.13" r="7.00" fill="#b02dc3"/>
<circle cx="776.16" cy="955.41" r="7.00" fill="#b02dc3"/>
<circle cx="809.12" cy="944.70" r="7.00" fill="#b02dc3"/>
<circle cx="842.08" cy="933.98" r="7.00" fill="#b02dc3"/>
<circle cx="875.04" cy="923.26" r="7.00" fill="#b02dc3"/>
<circle cx="908.00" cy="912.54" r="7.00" fill="#b02dc3"/>
<path d="M116.96,1170.36 L149.92,1160.21 L182.88,1150.07 L215.84,1139.92 L248.80,1129.78 L281.76,1119.63 L314.72,1109.49 L347.68,1099.35 L380.64,1089.20 L413.60,1079.06 L446.56,1068.91 L479.52,1058.77 L512.48,1048.63 L545.44,1038.48 L578.40,1028.34 L611.36,1018.19 L644.32,1008.05 L677.28,997.90 L710.24,987.76 L743.20,977.62 L776.16,967.47 L809.12,957.33 L842.08,947.18 L875.04,937.04 L908.00,926.89" fill="none" stroke="#9a20ad" stroke-width="3.0" stroke-linejoin="round"/>
<path d="M116.96,1160.26L127.06,1180.46L106.86,1180.46Z" fill="#b02dc3"/>
<path d="M149.92,1150.11L160.02,1170.31L139.82,1170.31Z" fill="#b02dc3"/>
<path d="M182.88,1139.97L192.98,1160.17L172.78,1160.17Z" fill="#b02dc3"/>
<path d="M215.84,1129.82L225.94,1150.02L205.74,1150.02Z" fill="#b02dc3"/>
<path d="M248.80,1119.68L258.90,1139.88L238.70,1139.88Z" fill="#b02dc3"/>
<path d="M281.76,1109.53L291.86,1129.73L271.66,1129.73Z" fill="#b02dc3"/>
<path d="M314.72,1099.39L324.82,1119.59L304.62,1119.59Z" fill="#b02dc3"/>
<path d="M347.68,1089.25L357.78,1109.45L337.58,1109.45Z" fill="#b02dc3"/>
<path d="M380.64,1079.10L390.74,1099.30L370.54,1099.30Z" fill="#b02dc3"/>
<path d="M413.60,1068.96L423.70,1089.16L403.50,1089.16Z" fill="#b02dc3"/>
<path d="M446.56,1058.81L456.66,1079.01L436.46,1079.01Z" fill="#b02dc3"/>
<path d="M479.52,1048.67L489.62,1068.87L469.42,1068.87Z" fill="#b02dc3"/>
<path d="M512.48,1038.53L522.58,1058.73L502.38,1058.73Z" fill="#b02dc3"/>
<path d="M545.44,1028.38L555.54,1048.58L535.34,1048.58Z" fill="#b02dc3"/>
<path d="M578.40,1018.24L588.50,1038.44L568.30,1038.44Z" fill="#b02dc3"/>
<path d="M611.36,1008.09L621.46,1028.29L601.26,1028.29Z" fill="#b02dc3"/>
<path d="M644.32,997.95L654.42,1018.15L634.22,1018.15Z" fill="#b02dc3"/>
<path d="M677.28,987.80L687.38,1008.00L667.18,1008.00Z" fill="#b02dc3"/>
<path d="M710.24,977.66L720.34,997.86L700.14,997.86Z" fill="#b02dc3"/>
<path d="M743.20,967.52L753.30,987.72L733.10,987.72Z" fill="#b02dc3"/>
<path d="M776.16,957.37L786.26,977.57L766.06,977.57Z" fill="#b02dc3"/>
<path d="M809.12,947.23L819.22,967.43L799.02,967.43Z" fill="#b02dc3"/>
<path d="M842.08,937.08L852.18,957.28L831.98,957.28Z" fill="#b02dc3"/>
<path d="M875.04,926.94L885.14,947.14L864.94,947.14Z" fill="#b02dc3"/>
<path d="M908.00,916.79L918.10,937.00L897.90,937.00Z" fill="#b02dc3"/>
<path d="M116.96,1171.38 L149.92,1162.26 L182.88,1153.15 L215.84,1144.03 L248.80,1134.91 L281.76,1125.79 L314.72,1116.68 L347.68,1107.56 L380.64,1098.44 L413.60,1089.32 L446.56,1080.21 L479.52,1071.09 L512.48,1061.97 L545.44,1052.85 L578.40,1043.74 L611.36,1034.62 L644.32,1025.50 L677.28,1016.38 L710.24,1007.27 L743.20,998.15 L776.16,989.03 L809.12,979.91 L842.08,970.80 L875.04,961.68 L908.00,952.56" fill="none" stroke="#9a20ad" stroke-width="3.0" stroke-linejoin="round"/>
<path d="M116.96,1161.38L126.96,1171.38L116.96,1181.38L106.96,1171.38Z" fill="#b02dc3"/>
<path d="M149.92,1152.26L159.92,1162.26L149.92,1172.26L139.92,1162.26Z" fill="#b02dc3"/>
<path d="M182.88,1143.15L192.88,1153.15L182.88,1163.15L172.88,1153.15Z" fill="#b02dc3"/>
<path d="M215.84,1134.03L225.84,1144.03L215.84,1154.03L205.84,1144.03Z" fill="#b02dc3"/>
<path d="M248.80,1124.91L258.80,1134.91L248.80,1144.91L238.80,1134.91Z" fill="#b02dc3"/>
<path d="M281.76,1115.79L291.76,1125.79L281.76,1135.79L271.76,1125.79Z" fill="#b02dc3"/>
<path d="M314.72,1106.68L324.72,1116.68L314.72,1126.68L304.72,1116.68Z" fill="#b02dc3"/>
<path d="M347.68,1097.56L357.68,1107.56L347.68,1117.56L337.68,1107.56Z" fill="#b02dc3"/>
<path d="M380.64,1088.44L390.64,1098.44L380.64,1108.44L370.64,1098.44Z" fill="#b02dc3"/>
<path d="M413.60,1079.32L423.60,1089.32L413.60,1099.32L403.60,1089.32Z" fill="#b02dc3"/>
<path d="M446.56,1070.21L456.56,1080.21L446.56,1090.21L436.56,1080.21Z" fill="#b02dc3"/>
<path d="M479.52,1061.09L489.52,1071.09L479.52,1081.09L469.52,1071.09Z" fill="#b02dc3"/>
<path d="M512.48,1051.97L522.48,1061.97L512.48,1071.97L502.48,1061.97Z" fill="#b02dc3"/>
<path d="M545.44,1042.85L555.44,1052.85L545.44,1062.85L535.44,1052.85Z" fill="#b02dc3"/>
<path d="M578.40,1033.74L588.40,1043.74L578.40,1053.74L568.40,1043.74Z" fill="#b02dc3"/>
<path d="M611.36,1024.62L621.36,1034.62L611.36,1044.62L601.36,1034.62Z" fill="#b02dc3"/>
<path d="M644.32,1015.50L654.32,1025.50L644.32,1035.50L634.32,1025.50Z" fill="#b02dc3"/>
<path d="M677.28,1006.38L687.28,1016.38L677.28,1026.38L667.28,1016.38Z" fill="#b02dc3"/>
<path d="M710.24,997.27L720.24,1007.27L710.24,1017.27L700.24,1007.27Z" fill="#b02dc3"/>
<path d="M743.20,988.15L753.20,998.15L743.20,1008.15L733.20,998.15Z" fill="#b02dc3"/>
<path d="M776.16,979.03L786.16,989.03L776.16,999.03L766.16,989.03Z" fill="#b02dc3"/>
<path d="M809.12,969.91L819.12,979.91L809.12,989.91L799.12,979.91Z" fill="#b02dc3"/>
<path d="M842.08,960.80L852.08,970.80L842.08,980.80L832.08,970.80Z" fill="#b02dc3"/>
<path d="M875.04,951.68L885.04,961.68L875.04,971.68L865.04,961.68Z" fill="#b02dc3"/>
<path d="M908.00,942.56L918.00,952.56L908.00,962.56L898.00,952.56Z" fill="#b02dc3"/>
<path d="M908.0,1152.60h-5 M908.0,1124.70h-7 M908.0,1096.80h-5 M908.0,1068.90h-7 M908.0,1041.00h-5 M908.0,1013.10h-7 M908.0,985.20h-5 M908.0,957.30h-7 M908.0,929.40h-5 M908.0,901.50h-7 M908.0,873.60h-5 M908.0,845.70h-7 M908.0,817.80h-5 M908.0,789.90h-7 M908.0,762.00h-5 M908.0,734.10h-7 M908.0,706.20h-5 M908.0,678.30h-7" stroke="#000" stroke-width="1.7" fill="none"/>
<path d="M116.96,1169.05 L149.92,1157.60 L182.88,1146.15 L215.84,1134.70 L248.80,1123.25 L281.76,1111.80 L314.72,1100.36 L347.68,1088.91 L380.64,1077.46 L413.60,1066.01 L446.56,1054.56 L479.52,1043.11 L512.48,1031.66 L545.44,1020.21 L578.40,1008.76 L611.36,997.31 L644.32,985.86 L677.28,974.41 L710.24,962.97 L743.20,951.52 L776.16,940.07 L809.12,928.62 L842.08,917.17 L875.04,905.72 L908.00,894.27" fill="none" stroke="#f08ef4" stroke-width="3.8" stroke-linejoin="round"/>
<circle cx="116.96" cy="1169.05" r="7.00" fill="#f59bf8"/>
<circle cx="149.92" cy="1157.60" r="7.00" fill="#f59bf8"/>
<circle cx="182.88" cy="1146.15" r="7.00" fill="#f59bf8"/>
<circle cx="215.84" cy="1134.70" r="7.00" fill="#f59bf8"/>
<circle cx="248.80" cy="1123.25" r="7.00" fill="#f59bf8"/>
<circle cx="281.76" cy="1111.80" r="7.00" fill="#f59bf8"/>
<circle cx="314.72" cy="1100.36" r="7.00" fill="#f59bf8"/>
<circle cx="347.68" cy="1088.91" r="7.00" fill="#f59bf8"/>
<circle cx="380.64" cy="1077.46" r="7.00" fill="#f59bf8"/>
<circle cx="413.60" cy="1066.01" r="7.00" fill="#f59bf8"/>
<circle cx="446.56" cy="1054.56" r="7.00" fill="#f59bf8"/>
<circle cx="479.52" cy="1043.11" r="7.00" fill="#f59bf8"/>
<circle cx="512.48" cy="1031.66" r="7.00" fill="#f59bf8"/>
<circle cx="545.44" cy="1020.21" r="7.00" fill="#f59bf8"/>
<circle cx="578.40" cy="1008.76" r="7.00" fill="#f59bf8"/>
<circle cx="611.36" cy="997.31" r="7.00" fill="#f59bf8"/>
<circle cx="644.32" cy="985.86" r="7.00" fill="#f59bf8"/>
<circle cx="677.28" cy="974.41" r="7.00" fill="#f59bf8"/>
<circle cx="710.24" cy="962.97" r="7.00" fill="#f59bf8"/>
<circle cx="743.20" cy="951.52" r="7.00" fill="#f59bf8"/>
<circle cx="776.16" cy="940.07" r="7.00" fill="#f59bf8"/>
<circle cx="809.12" cy="928.62" r="7.00" fill="#f59bf8"/>
<circle cx="842.08" cy="917.17" r="7.00" fill="#f59bf8"/>
<circle cx="875.04" cy="905.72" r="7.00" fill="#f59bf8"/>
<circle cx="908.00" cy="894.27" r="7.00" fill="#f59bf8"/>
<path d="M116.96,1169.40 L149.92,1158.30 L182.88,1147.20 L215.84,1136.10 L248.80,1124.99 L281.76,1113.89 L314.72,1102.79 L347.68,1091.69 L380.64,1080.59 L413.60,1069.49 L446.56,1058.39 L479.52,1047.29 L512.48,1036.18 L545.44,1025.08 L578.40,1013.98 L611.36,1002.88 L644.32,991.78 L677.28,980.68 L710.24,969.58 L743.20,958.48 L776.16,947.37 L809.12,936.27 L842.08,925.17 L875.04,914.07 L908.00,902.97" fill="none" stroke="#f08ef4" stroke-width="3.8" stroke-linejoin="round"/>
<path d="M116.96,1159.30L127.06,1179.50L106.86,1179.50Z" fill="#f59bf8"/>
<path d="M149.92,1148.20L160.02,1168.40L139.82,1168.40Z" fill="#f59bf8"/>
<path d="M182.88,1137.10L192.98,1157.30L172.78,1157.30Z" fill="#f59bf8"/>
<path d="M215.84,1126.00L225.94,1146.20L205.74,1146.20Z" fill="#f59bf8"/>
<path d="M248.80,1114.89L258.90,1135.09L238.70,1135.09Z" fill="#f59bf8"/>
<path d="M281.76,1103.79L291.86,1123.99L271.66,1123.99Z" fill="#f59bf8"/>
<path d="M314.72,1092.69L324.82,1112.89L304.62,1112.89Z" fill="#f59bf8"/>
<path d="M347.68,1081.59L357.78,1101.79L337.58,1101.79Z" fill="#f59bf8"/>
<path d="M380.64,1070.49L390.74,1090.69L370.54,1090.69Z" fill="#f59bf8"/>
<path d="M413.60,1059.39L423.70,1079.59L403.50,1079.59Z" fill="#f59bf8"/>
<path d="M446.56,1048.29L456.66,1068.49L436.46,1068.49Z" fill="#f59bf8"/>
<path d="M479.52,1037.19L489.62,1057.39L469.42,1057.39Z" fill="#f59bf8"/>
<path d="M512.48,1026.08L522.58,1046.28L502.38,1046.28Z" fill="#f59bf8"/>
<path d="M545.44,1014.98L555.54,1035.18L535.34,1035.18Z" fill="#f59bf8"/>
<path d="M578.40,1003.88L588.50,1024.08L568.30,1024.08Z" fill="#f59bf8"/>
<path d="M611.36,992.78L621.46,1012.98L601.26,1012.98Z" fill="#f59bf8"/>
<path d="M644.32,981.68L654.42,1001.88L634.22,1001.88Z" fill="#f59bf8"/>
<path d="M677.28,970.58L687.38,990.78L667.18,990.78Z" fill="#f59bf8"/>
<path d="M710.24,959.48L720.34,979.68L700.14,979.68Z" fill="#f59bf8"/>
<path d="M743.20,948.38L753.30,968.58L733.10,968.58Z" fill="#f59bf8"/>
<path d="M776.16,937.27L786.26,957.47L766.06,957.47Z" fill="#f59bf8"/>
<path d="M809.12,926.17L819.22,946.37L799.02,946.37Z" fill="#f59bf8"/>
<path d="M842.08,915.07L852.18,935.27L831.98,935.27Z" fill="#f59bf8"/>
<path d="M875.04,903.97L885.14,924.17L864.94,924.17Z" fill="#f59bf8"/>
<path d="M908.00,892.87L918.10,913.07L897.90,913.07Z" fill="#f59bf8"/>
<path d="M116.96,1170.76 L149.92,1161.01 L182.88,1151.27 L215.84,1141.52 L248.80,1131.78 L281.76,1122.04 L314.72,1112.29 L347.68,1102.55 L380.64,1092.80 L413.60,1083.06 L446.56,1073.32 L479.52,1063.57 L512.48,1053.83 L545.44,1044.08 L578.40,1034.34 L611.36,1024.60 L644.32,1014.85 L677.28,1005.11 L710.24,995.36 L743.20,985.62 L776.16,975.88 L809.12,966.13 L842.08,956.39 L875.04,946.64 L908.00,936.90" fill="none" stroke="#f08ef4" stroke-width="3.8" stroke-linejoin="round"/>
<path d="M116.96,1160.76L126.96,1170.76L116.96,1180.76L106.96,1170.76Z" fill="#f59bf8"/>
<path d="M149.92,1151.01L159.92,1161.01L149.92,1171.01L139.92,1161.01Z" fill="#f59bf8"/>
<path d="M182.88,1141.27L192.88,1151.27L182.88,1161.27L172.88,1151.27Z" fill="#f59bf8"/>
<path d="M215.84,1131.52L225.84,1141.52L215.84,1151.52L205.84,1141.52Z" fill="#f59bf8"/>
<path d="M248.80,1121.78L258.80,1131.78L248.80,1141.78L238.80,1131.78Z" fill="#f59bf8"/>
<path d="M281.76,1112.04L291.76,1122.04L281.76,1132.04L271.76,1122.04Z" fill="#f59bf8"/>
<path d="M314.72,1102.29L324.72,1112.29L314.72,1122.29L304.72,1112.29Z" fill="#f59bf8"/>
<path d="M347.68,1092.55L357.68,1102.55L347.68,1112.55L337.68,1102.55Z" fill="#f59bf8"/>
<path d="M380.64,1082.80L390.64,1092.80L380.64,1102.80L370.64,1092.80Z" fill="#f59bf8"/>
<path d="M413.60,1073.06L423.60,1083.06L413.60,1093.06L403.60,1083.06Z" fill="#f59bf8"/>
<path d="M446.56,1063.32L456.56,1073.32L446.56,1083.32L436.56,1073.32Z" fill="#f59bf8"/>
<path d="M479.52,1053.57L489.52,1063.57L479.52,1073.57L469.52,1063.57Z" fill="#f59bf8"/>
<path d="M512.48,1043.83L522.48,1053.83L512.48,1063.83L502.48,1053.83Z" fill="#f59bf8"/>
<path d="M545.44,1034.08L555.44,1044.08L545.44,1054.08L535.44,1044.08Z" fill="#f59bf8"/>
<path d="M578.40,1024.34L588.40,1034.34L578.40,1044.34L568.40,1034.34Z" fill="#f59bf8"/>
<path d="M611.36,1014.60L621.36,1024.60L611.36,1034.60L601.36,1024.60Z" fill="#f59bf8"/>
<path d="M644.32,1004.85L654.32,1014.85L644.32,1024.85L634.32,1014.85Z" fill="#f59bf8"/>
<path d="M677.28,995.11L687.28,1005.11L677.28,1015.11L667.28,1005.11Z" fill="#f59bf8"/>
<path d="M710.24,985.36L720.24,995.36L710.24,1005.36L700.24,995.36Z" fill="#f59bf8"/>
<path d="M743.20,975.62L753.20,985.62L743.20,995.62L733.20,985.62Z" fill="#f59bf8"/>
<path d="M776.16,965.88L786.16,975.88L776.16,985.88L766.16,975.88Z" fill="#f59bf8"/>
<path d="M809.12,956.13L819.12,966.13L809.12,976.13L799.12,966.13Z" fill="#f59bf8"/>
<path d="M842.08,946.39L852.08,956.39L842.08,966.39L832.08,956.39Z" fill="#f59bf8"/>
<path d="M875.04,936.64L885.04,946.64L875.04,956.64L865.04,946.64Z" fill="#f59bf8"/>
<path d="M908.00,926.90L918.00,936.90L908.00,946.90L898.00,936.90Z" fill="#f59bf8"/>
<path d="M116.96,1164.35 L149.92,1148.21 L182.88,1132.06 L215.84,1115.91 L248.80,1099.76 L281.76,1083.62 L314.72,1067.47 L347.68,1051.32 L380.64,1035.18 L413.60,1019.03 L446.56,1002.88 L479.52,986.73 L512.48,970.59 L545.44,954.44 L578.40,938.29 L611.36,922.14 L644.32,906.00 L677.28,889.85 L710.24,873.70 L743.20,857.56 L776.16,841.41 L809.12,825.26 L842.08,809.11 L875.04,792.97 L908.00,776.82" fill="none" stroke="#4f8fd6" stroke-width="3.4" stroke-linejoin="round"/>
<circle cx="116.96" cy="1164.35" r="7.00" fill="#64a0d8"/>
<circle cx="149.92" cy="1148.21" r="7.00" fill="#64a0d8"/>
<circle cx="182.88" cy="1132.06" r="7.00" fill="#64a0d8"/>
<circle cx="215.84" cy="1115.91" r="7.00" fill="#64a0d8"/>
<circle cx="248.80" cy="1099.76" r="7.00" fill="#64a0d8"/>
<circle cx="281.76" cy="1083.62" r="7.00" fill="#64a0d8"/>
<circle cx="314.72" cy="1067.47" r="7.00" fill="#64a0d8"/>
<circle cx="347.68" cy="1051.32" r="7.00" fill="#64a0d8"/>
<circle cx="380.64" cy="1035.18" r="7.00" fill="#64a0d8"/>
<circle cx="413.60" cy="1019.03" r="7.00" fill="#64a0d8"/>
<circle cx="446.56" cy="1002.88" r="7.00" fill="#64a0d8"/>
<circle cx="479.52" cy="986.73" r="7.00" fill="#64a0d8"/>
<circle cx="512.48" cy="970.59" r="7.00" fill="#64a0d8"/>
<circle cx="545.44" cy="954.44" r="7.00" fill="#64a0d8"/>
<circle cx="578.40" cy="938.29" r="7.00" fill="#64a0d8"/>
<circle cx="611.36" cy="922.14" r="7.00" fill="#64a0d8"/>
<circle cx="644.32" cy="906.00" r="7.00" fill="#64a0d8"/>
<circle cx="677.28" cy="889.85" r="7.00" fill="#64a0d8"/>
<circle cx="710.24" cy="873.70" r="7.00" fill="#64a0d8"/>
<circle cx="743.20" cy="857.56" r="7.00" fill="#64a0d8"/>
<circle cx="776.16" cy="841.41" r="7.00" fill="#64a0d8"/>
<circle cx="809.12" cy="825.26" r="7.00" fill="#64a0d8"/>
<circle cx="842.08" cy="809.11" r="7.00" fill="#64a0d8"/>
<circle cx="875.04" cy="792.97" r="7.00" fill="#64a0d8"/>
<circle cx="908.00" cy="776.82" r="7.00" fill="#64a0d8"/>
<path d="M116.96,1164.82 L149.92,1149.15 L182.88,1133.47 L215.84,1117.79 L248.80,1102.11 L281.76,1086.44 L314.72,1070.76 L347.68,1055.08 L380.64,1039.40 L413.60,1023.73 L446.56,1008.05 L479.52,992.37 L512.48,976.69 L545.44,961.02 L578.40,945.34 L611.36,929.66 L644.32,913.98 L677.28,898.31 L710.24,882.63 L743.20,866.95 L776.16,851.27 L809.12,835.60 L842.08,819.92 L875.04,804.24 L908.00,788.57" fill="none" stroke="#4f8fd6" stroke-width="3.4" stroke-linejoin="round"/>
<path d="M116.96,1154.72L127.06,1174.92L106.86,1174.92Z" fill="#64a0d8"/>
<path d="M149.92,1139.05L160.02,1159.25L139.82,1159.25Z" fill="#64a0d8"/>
<path d="M182.88,1123.37L192.98,1143.57L172.78,1143.57Z" fill="#64a0d8"/>
<path d="M215.84,1107.69L225.94,1127.89L205.74,1127.89Z" fill="#64a0d8"/>
<path d="M248.80,1092.01L258.90,1112.21L238.70,1112.21Z" fill="#64a0d8"/>
<path d="M281.76,1076.34L291.86,1096.54L271.66,1096.54Z" fill="#64a0d8"/>
<path d="M314.72,1060.66L324.82,1080.86L304.62,1080.86Z" fill="#64a0d8"/>
<path d="M347.68,1044.98L357.78,1065.18L337.58,1065.18Z" fill="#64a0d8"/>
<path d="M380.64,1029.30L390.74,1049.50L370.54,1049.50Z" fill="#64a0d8"/>
<path d="M413.60,1013.63L423.70,1033.83L403.50,1033.83Z" fill="#64a0d8"/>
<path d="M446.56,997.95L456.66,1018.15L436.46,1018.15Z" fill="#64a0d8"/>
<path d="M479.52,982.27L489.62,1002.47L469.42,1002.47Z" fill="#64a0d8"/>
<path d="M512.48,966.59L522.58,986.79L502.38,986.79Z" fill="#64a0d8"/>
<path d="M545.44,950.92L555.54,971.12L535.34,971.12Z" fill="#64a0d8"/>
<path d="M578.40,935.24L588.50,955.44L568.30,955.44Z" fill="#64a0d8"/>
<path d="M611.36,919.56L621.46,939.76L601.26,939.76Z" fill="#64a0d8"/>
<path d="M644.32,903.88L654.42,924.08L634.22,924.08Z" fill="#64a0d8"/>
<path d="M677.28,888.21L687.38,908.41L667.18,908.41Z" fill="#64a0d8"/>
<path d="M710.24,872.53L720.34,892.73L700.14,892.73Z" fill="#64a0d8"/>
<path d="M743.20,856.85L753.30,877.05L733.10,877.05Z" fill="#64a0d8"/>
<path d="M776.16,841.17L786.26,861.37L766.06,861.37Z" fill="#64a0d8"/>
<path d="M809.12,825.50L819.22,845.70L799.02,845.70Z" fill="#64a0d8"/>
<path d="M842.08,809.82L852.18,830.02L831.98,830.02Z" fill="#64a0d8"/>
<path d="M875.04,794.14L885.14,814.34L864.94,814.34Z" fill="#64a0d8"/>
<path d="M908.00,778.47L918.10,798.67L897.90,798.67Z" fill="#64a0d8"/>
<path d="M116.96,1166.82 L149.92,1153.15 L182.88,1139.47 L215.84,1125.79 L248.80,1112.12 L281.76,1098.44 L314.72,1084.77 L347.68,1071.09 L380.64,1057.41 L413.60,1043.74 L446.56,1030.06 L479.52,1016.38 L512.48,1002.71 L545.44,989.03 L578.40,975.35 L611.36,961.68 L644.32,948.00 L677.28,934.32 L710.24,920.65 L743.20,906.97 L776.16,893.30 L809.12,879.62 L842.08,865.94 L875.04,852.27 L908.00,838.59" fill="none" stroke="#4f8fd6" stroke-width="3.4" stroke-linejoin="round"/>
<path d="M116.96,1156.82L126.96,1166.82L116.96,1176.82L106.96,1166.82Z" fill="#64a0d8"/>
<path d="M149.92,1143.15L159.92,1153.15L149.92,1163.15L139.92,1153.15Z" fill="#64a0d8"/>
<path d="M182.88,1129.47L192.88,1139.47L182.88,1149.47L172.88,1139.47Z" fill="#64a0d8"/>
<path d="M215.84,1115.79L225.84,1125.79L215.84,1135.79L205.84,1125.79Z" fill="#64a0d8"/>
<path d="M248.80,1102.12L258.80,1112.12L248.80,1122.12L238.80,1112.12Z" fill="#64a0d8"/>
<path d="M281.76,1088.44L291.76,1098.44L281.76,1108.44L271.76,1098.44Z" fill="#64a0d8"/>
<path d="M314.72,1074.77L324.72,1084.77L314.72,1094.77L304.72,1084.77Z" fill="#64a0d8"/>
<path d="M347.68,1061.09L357.68,1071.09L347.68,1081.09L337.68,1071.09Z" fill="#64a0d8"/>
<path d="M380.64,1047.41L390.64,1057.41L380.64,1067.41L370.64,1057.41Z" fill="#64a0d8"/>
<path d="M413.60,1033.74L423.60,1043.74L413.60,1053.74L403.60,1043.74Z" fill="#64a0d8"/>
<path d="M446.56,1020.06L456.56,1030.06L446.56,1040.06L436.56,1030.06Z" fill="#64a0d8"/>
<path d="M479.52,1006.38L489.52,1016.38L479.52,1026.38L469.52,1016.38Z" fill="#64a0d8"/>
<path d="M512.48,992.71L522.48,1002.71L512.48,1012.71L502.48,1002.71Z" fill="#64a0d8"/>
<path d="M545.44,979.03L555.44,989.03L545.44,999.03L535.44,989.03Z" fill="#64a0d8"/>
<path d="M578.40,965.35L588.40,975.35L578.40,985.35L568.40,975.35Z" fill="#64a0d8"/>
<path d="M611.36,951.68L621.36,961.68L611.36,971.68L601.36,961.68Z" fill="#64a0d8"/>
<path d="M644.32,938.00L654.32,948.00L644.32,958.00L634.32,948.00Z" fill="#64a0d8"/>
<path d="M677.28,924.32L687.28,934.32L677.28,944.32L667.28,934.32Z" fill="#64a0d8"/>
<path d="M710.24,910.65L720.24,920.65L710.24,930.65L700.24,920.65Z" fill="#64a0d8"/>
<path d="M743.20,896.97L753.20,906.97L743.20,916.97L733.20,906.97Z" fill="#64a0d8"/>
<path d="M776.16,883.30L786.16,893.30L776.16,903.30L766.16,893.30Z" fill="#64a0d8"/>
<path d="M809.12,869.62L819.12,879.62L809.12,889.62L799.12,879.62Z" fill="#64a0d8"/>
<path d="M842.08,855.94L852.08,865.94L842.08,875.94L832.08,865.94Z" fill="#64a0d8"/>
<path d="M875.04,842.27L885.04,852.27L875.04,862.27L865.04,852.27Z" fill="#64a0d8"/>
<path d="M908.00,828.59L918.00,838.59L908.00,848.59L898.00,838.59Z" fill="#64a0d8"/>
<path d="M84.0,978.66H496.00" stroke="#000" stroke-width="2.4" stroke-dasharray="4.8 4.4" fill="none"/>
<path d="M84.0,1036.95H496.00" stroke="#000" stroke-width="2.4" stroke-dasharray="4.8 4.4" fill="none"/>
<path d="M496.00,978.66V1180.5" stroke="#000" stroke-width="2.4" stroke-dasharray="4.8 4.4" fill="none"/>
<text transform="translate(51.76,1191.39) scale(0.950,1)" font-size="29.2" fill="#000" >0</text>
<g transform="translate(55.75,1104.39) scale(0.950,1)" fill="#000"><polygon points="10.89,0.00 8.26,0.00 8.26,-17.81 3.18,-14.31 3.18,-17.23 9.05,-20.91 10.89,-20.91" /></g>
<text transform="translate(52.06,1017.39) scale(0.950,1)" font-size="29.2" fill="#000" >2</text>
<text transform="translate(51.90,930.39) scale(0.950,1)" font-size="29.2" fill="#000" >3</text>
<text transform="translate(51.48,843.39) scale(0.950,1)" font-size="29.2" fill="#000" >4</text>
<text transform="translate(51.84,756.39) scale(0.950,1)" font-size="29.2" fill="#000" >5</text>
<text transform="translate(51.90,669.39) scale(0.950,1)" font-size="29.2" fill="#000" >6</text>
<text x="926.77" y="1186.92" font-size="29" fill="#000" letter-spacing="0.40" >0</text>
<text x="926.45" y="1131.12" font-size="29" fill="#000" letter-spacing="0.40" >2</text>
<text x="927.23" y="1075.32" font-size="29" fill="#000" letter-spacing="0.40" >4</text>
<text x="926.42" y="1019.52" font-size="29" fill="#000" letter-spacing="0.40" >6</text>
<text x="926.65" y="963.72" font-size="29" fill="#000" letter-spacing="0.40" >8</text>
<g transform="translate(922.14,907.92) scale(1.000,1)" fill="#000"><polygon points="10.82,0.00 8.21,0.00 8.21,-17.69 3.16,-14.21 3.16,-17.11 8.99,-20.76 10.82,-20.76" /><text x="16.52" y="0" font-size="29" letter-spacing="0.40" >0</text></g>
<g transform="translate(922.14,852.12) scale(1.000,1)" fill="#000"><polygon points="10.82,0.00 8.21,0.00 8.21,-17.69 3.16,-14.21 3.16,-17.11 8.99,-20.76 10.82,-20.76" /><text x="16.52" y="0" font-size="29" letter-spacing="0.40" >2</text></g>
<g transform="translate(922.14,796.32) scale(1.000,1)" fill="#000"><polygon points="10.82,0.00 8.21,0.00 8.21,-17.69 3.16,-14.21 3.16,-17.11 8.99,-20.76 10.82,-20.76" /><text x="16.52" y="0" font-size="29" letter-spacing="0.40" >4</text></g>
<g transform="translate(922.14,740.52) scale(1.000,1)" fill="#000"><polygon points="10.82,0.00 8.21,0.00 8.21,-17.69 3.16,-14.21 3.16,-17.11 8.99,-20.76 10.82,-20.76" /><text x="16.52" y="0" font-size="29" letter-spacing="0.40" >6</text></g>
<g transform="translate(922.14,684.72) scale(1.000,1)" fill="#000"><polygon points="10.82,0.00 8.21,0.00 8.21,-17.69 3.16,-14.21 3.16,-17.11 8.99,-20.76 10.82,-20.76" /><text x="16.52" y="0" font-size="29" letter-spacing="0.40" >8</text></g>
<text x="75.94" y="1213.80" font-size="28.25" fill="#000" letter-spacing="1.40" >0</text>
<g transform="translate(228.96,1213.80) scale(1.000,1)" fill="#000"><text x="0.00" y="0" font-size="28.25" letter-spacing="1.40" >0.</text><polygon points="36.90,0.00 34.35,0.00 34.35,-17.23 29.44,-13.84 29.44,-16.67 35.12,-20.23 36.90,-20.23" /></g>
<text x="393.76" y="1213.80" font-size="28.25" fill="#000" letter-spacing="1.40" >0.2</text>
<text x="558.56" y="1213.80" font-size="28.25" fill="#000" letter-spacing="1.40" >0.3</text>
<text x="723.36" y="1213.80" font-size="28.25" fill="#000" letter-spacing="1.40" >0.4</text>
<text x="888.16" y="1213.80" font-size="28.25" fill="#000" letter-spacing="1.40" >0.5</text>
<text transform="translate(109.05,45.70) scale(0.920,1)" font-size="20.3" fill="#000" letter-spacing="1.47" stroke="#000" stroke-width="0.3">Continental Crust only:</text>
<text transform="translate(108.48,80.20) scale(0.920,1)" font-size="20.3" fill="#000" letter-spacing="1.41" stroke="#000" stroke-width="0.3">Intrusive rocks [Mo]</text>
<text transform="translate(109.05,116.60) scale(0.920,1)" font-size="20.3" fill="#000" letter-spacing="1.51" stroke="#000" stroke-width="0.3">Crustal estimated [Mo]</text>
<g transform="translate(326.31,108.20) scale(1.000,1)" fill="#000"><polygon points="3.73,0.00 2.83,0.00 2.83,-6.10 1.09,-4.90 1.09,-5.90 3.10,-7.16 3.73,-7.16" /></g>
<text transform="translate(108.55,151.70) scale(0.920,1)" font-size="20.3" fill="#000" letter-spacing="1.49" stroke="#000" stroke-width="0.3">Crustal estimated [Mo]</text>
<text x="325.10" y="143.40" font-size="10" fill="#000" >2</text>
<path d="M351.8,71.3H365.5" stroke="#c54d16" stroke-width="4.2" fill="none"/>
<path d="M373.3,71.3H386.9" stroke="#c54d16" stroke-width="4.2" fill="none"/>
<path d="M395,71.3H408.3" stroke="#c54d16" stroke-width="4.2" fill="none"/>
<path d="M415.9,71.3H429.5" stroke="#c54d16" stroke-width="4.2" fill="none"/>
<path d="M438.4,71.3H451.6" stroke="#c54d16" stroke-width="4.2" fill="none"/>
<path d="M459.2,71.3H467.5" stroke="#c54d16" stroke-width="4.2" fill="none"/>
<circle cx="378.2" cy="71.3" r="8.1" fill="none" stroke="#c54d16" stroke-width="2"/>
<path d="M409,62.3L416.8,71.3L409,79.6L401.2,71.3Z" fill="none" stroke="#c54d16" stroke-width="2"/>
<path d="M438.4,60.5L446.7,75.8L430.5,75.8Z" fill="none" stroke="#c54d16" stroke-width="2"/>
<path d="M352,107.8H467.5" stroke="#3b5ea3" stroke-width="3.6" fill="none"/>
<circle cx="378.8" cy="107.8" r="8.9" fill="#3b5ea3"/>
<path d="M409.2,99.00L417.20,107.8L409.2,116.60L401.20,107.8Z" fill="#3b5ea3"/>
<path d="M438.8,98.00L447.60,115.00L430.00,115.00Z" fill="#3b5ea3"/>
<path d="M352,144.5H467.5" stroke="#b02dc3" stroke-width="3.6" fill="none"/>
<circle cx="378.8" cy="144.5" r="8.9" fill="#b02dc3"/>
<path d="M409.2,135.70L417.20,144.5L409.2,153.30L401.20,144.5Z" fill="#b02dc3"/>
<path d="M438.8,134.70L447.60,151.70L430.00,151.70Z" fill="#b02dc3"/>
<text transform="translate(108.65,695.60) scale(0.920,1)" font-size="20.3" fill="#000" letter-spacing="1.48" stroke="#000" stroke-width="0.3">Continental and Oceanic Crust:</text>
<text transform="translate(108.65,730.60) scale(0.920,1)" font-size="20.3" fill="#000" letter-spacing="1.51" stroke="#000" stroke-width="0.3">Crustal estimated [Mo]</text>
<g transform="translate(326.51,724.70) scale(1.000,1)" fill="#000"><polygon points="3.73,0.00 2.83,0.00 2.83,-6.10 1.09,-4.90 1.09,-5.90 3.10,-7.16 3.73,-7.16" /></g>
<text transform="translate(108.65,765.40) scale(0.920,1)" font-size="20.3" fill="#000" letter-spacing="1.51" stroke="#000" stroke-width="0.3">Crustal estimated [Mo]</text>
<text x="326.00" y="759.10" font-size="10" fill="#000" >2</text>
<path d="M352.5,723.9H468.8" stroke="#64a0d8" stroke-width="3.6" fill="none"/>
<circle cx="380.4" cy="723.9" r="8.9" fill="#64a0d8"/>
<path d="M408.5,715.10L416.50,723.9L408.5,732.70L400.50,723.9Z" fill="#64a0d8"/>
<path d="M437.7,714.10L446.50,731.10L428.90,731.10Z" fill="#64a0d8"/>
<path d="M350.9,757.4H467.5" stroke="#f59bf8" stroke-width="3.6" fill="none"/>
<circle cx="378.8" cy="757.4" r="8.9" fill="#f59bf8"/>
<path d="M407.2,748.60L415.20,757.4L407.2,766.20L399.20,757.4Z" fill="#f59bf8"/>
<path d="M437.6,747.60L446.40,764.60L428.80,764.60Z" fill="#f59bf8"/>
<text transform="translate(195.20,302.60) scale(1.073,1)" font-size="19.3" fill="#000" >V</text>
<text x="209.09" y="306.50" font-size="10.0" fill="#000" >C</text>
<text x="222.00" y="302.60" font-size="19.3" fill="#000" >/</text>
<text transform="translate(231.88,302.60) scale(1.215,1)" font-size="19.3" fill="#000" >V</text>
<text x="247.68" y="306.50" font-size="10.0" fill="#000" letter-spacing="1.61" >PC</text>
<text transform="translate(265.98,302.60) scale(1.077,1)" font-size="19.3" fill="#000" >=</text>
<g transform="translate(283.37,302.60) scale(1.000,1)" fill="#000"><text x="0.00" y="0" font-size="19.3" letter-spacing="1.90" >3.0</text><polygon points="39.73,0.00 38.00,0.00 38.00,-11.77 34.64,-9.46 34.64,-11.39 38.52,-13.82 39.73,-13.82" /></g>
<text transform="translate(151.50,373.40) scale(1.073,1)" font-size="19.3" fill="#000" >V</text>
<text x="165.39" y="377.30" font-size="10.0" fill="#000" >C</text>
<text x="178.30" y="373.40" font-size="19.3" fill="#000" >/</text>
<text transform="translate(188.18,373.40) scale(1.215,1)" font-size="19.3" fill="#000" >V</text>
<text x="203.98" y="377.30" font-size="10.0" fill="#000" letter-spacing="1.61" >PC</text>
<text transform="translate(222.28,373.40) scale(1.077,1)" font-size="19.3" fill="#000" >=</text>
<text x="239.43" y="373.40" font-size="19.3" fill="#000" letter-spacing="2.12" >2.07</text>
<text transform="translate(117.20,414.30) scale(1.073,1)" font-size="19.3" fill="#000" >V</text>
<text x="131.09" y="418.20" font-size="10.0" fill="#000" >C</text>
<text x="144.00" y="414.30" font-size="19.3" fill="#000" >/</text>
<text transform="translate(153.88,414.30) scale(1.215,1)" font-size="19.3" fill="#000" >V</text>
<text x="169.68" y="418.20" font-size="10.0" fill="#000" letter-spacing="1.61" >PC</text>
<text transform="translate(187.98,414.30) scale(1.077,1)" font-size="19.3" fill="#000" >=</text>
<g transform="translate(204.00,414.30) scale(1.000,1)" fill="#000"><polygon points="7.20,0.00 5.46,0.00 5.46,-11.77 2.10,-9.46 2.10,-11.39 5.98,-13.82 7.20,-13.82" /><text x="12.93" y="0" font-size="19.3" letter-spacing="2.20" >.54</text></g>
<text transform="translate(198.30,969.90) scale(1.073,1)" font-size="19.3" fill="#000" >V</text>
<text x="212.19" y="973.80" font-size="10.0" fill="#000" >C</text>
<text x="225.10" y="969.90" font-size="19.3" fill="#000" >/</text>
<text transform="translate(234.98,969.90) scale(1.215,1)" font-size="19.3" fill="#000" >V</text>
<text x="250.78" y="973.80" font-size="10.0" fill="#000" letter-spacing="1.61" >PC</text>
<text transform="translate(269.08,969.90) scale(1.077,1)" font-size="19.3" fill="#000" >=</text>
<text x="286.24" y="969.90" font-size="19.3" fill="#000" letter-spacing="1.72" >2.32</text>
<text transform="translate(161.80,1027.50) scale(1.073,1)" font-size="19.3" fill="#000" >V</text>
<text x="175.69" y="1031.40" font-size="10.0" fill="#000" >C</text>
<text x="188.60" y="1027.50" font-size="19.3" fill="#000" >/</text>
<text transform="translate(198.48,1027.50) scale(1.215,1)" font-size="19.3" fill="#000" >V</text>
<text x="214.28" y="1031.40" font-size="10.0" fill="#000" letter-spacing="1.61" >PC</text>
<text transform="translate(232.58,1027.50) scale(1.077,1)" font-size="19.3" fill="#000" >=</text>
<g transform="translate(248.60,1027.50) scale(1.000,1)" fill="#000"><polygon points="7.20,0.00 5.46,0.00 5.46,-11.77 2.10,-9.46 2.10,-11.39 5.98,-13.82 7.20,-13.82" /><text x="12.95" y="0" font-size="19.3" letter-spacing="2.22" >.65</text></g>
<text transform="translate(612.63,38.50) scale(0.970,1)" font-size="19.8" fill="#000" letter-spacing="1.14" stroke="#000" stroke-width="0.3">Estimates of present</text>
<text transform="translate(628.93,59.00) scale(0.970,1)" font-size="19.8" fill="#000" letter-spacing="1.24" stroke="#000" stroke-width="0.3">mantle depletion</text>
<path d="M535,44.25H506 M514,38L505.5,44.25L514,50.5" stroke="#000" stroke-width="1.6" fill="none"/>
<path d="M863,45H892.5 M884,39L892.5,45L884,51" stroke="#000" stroke-width="1.6" fill="none"/>
<text x="839.32" y="502.40" font-size="23.8" fill="#000" letter-spacing="1.93" >(a)</text>
<text x="838.92" y="1150.40" font-size="25.5" fill="#000" letter-spacing="1.50" >(b)</text>
<text x="438.71" y="601.40" font-size="27.9" fill="#000" >M</text>
<text transform="translate(463.97,607.30) scale(0.900,1)" font-size="15.3" fill="#000" letter-spacing="3.61" >DM</text>
<text transform="translate(492.40,601.40) scale(0.879,1)" font-size="27.0" fill="#000" >/</text>
<text transform="translate(507.01,601.40) scale(1.088,1)" font-size="27.9" fill="#000" >M</text>
<text transform="translate(532.57,607.30) scale(0.900,1)" font-size="15.3" fill="#000" letter-spacing="2.98" >BSE</text>
<text x="438.71" y="1246.00" font-size="27.9" fill="#000" >M</text>
<text transform="translate(463.97,1251.90) scale(0.900,1)" font-size="15.3" fill="#000" letter-spacing="3.61" >DM</text>
<text transform="translate(492.40,1246.00) scale(0.879,1)" font-size="27.0" fill="#000" >/</text>
<text transform="translate(507.01,1246.00) scale(1.088,1)" font-size="27.9" fill="#000" >M</text>
<text transform="translate(532.57,1251.90) scale(0.900,1)" font-size="15.3" fill="#000" letter-spacing="2.98" >BSE</text>
<g transform="translate(29.0,335.3) rotate(-90)">
<text transform="translate(-0.14,0.00) scale(0.922,1)" font-size="29.4" fill="#000" >V</text>
<text transform="translate(20.06,6.20) scale(0.805,1)" font-size="15.5" fill="#000" >C</text>
<text transform="translate(38.30,0.00) scale(0.942,1)" font-size="27.5" fill="#000" >/</text>
<text transform="translate(53.67,0.00) scale(0.906,1)" font-size="29.4" fill="#000" >V</text>
<text transform="translate(73.46,6.20) scale(0.820,1)" font-size="15.5" fill="#000" letter-spacing="4.23" >PC</text>
</g>
<g transform="translate(28.4,961.7) rotate(-90)">
<text transform="translate(-0.14,0.00) scale(0.922,1)" font-size="29.4" fill="#000" >V</text>
<text transform="translate(20.06,6.20) scale(0.805,1)" font-size="15.5" fill="#000" >C</text>
<text transform="translate(38.30,0.00) scale(0.942,1)" font-size="27.5" fill="#000" >/</text>
<text transform="translate(53.67,0.00) scale(0.906,1)" font-size="29.4" fill="#000" >V</text>
<text transform="translate(73.46,6.20) scale(0.820,1)" font-size="15.5" fill="#000" letter-spacing="4.23" >PC</text>
</g>
<g transform="translate(966.6,0) rotate(90)">
<text x="132.22" y="0.00" font-size="29.0" fill="#000" letter-spacing="0.71" >Mass of crust</text>
<text transform="translate(321.69,0.00) scale(1.119,1)" font-size="29.0" fill="#000" >(</text>
<text transform="translate(333.63,-4.50) scale(1.183,1)" font-size="19.0" fill="#000" >×</text>
<g transform="translate(349.24,0.00) scale(1.000,1)" fill="#000"><polygon points="10.82,0.00 8.21,0.00 8.21,-17.69 3.16,-14.21 3.16,-17.11 8.99,-20.76 10.82,-20.76" /><text x="18.97" y="0" font-size="29.0" letter-spacing="2.84" >0</text></g>
<text transform="translate(384.59,-13.80) scale(0.862,1)" font-size="16.5" fill="#000" >22</text>
<text x="399.06" y="0.00" font-size="29.0" fill="#000" letter-spacing="2.68" >kg</text>
<text transform="translate(432.41,0.00) scale(1.119,1)" font-size="29.0" fill="#000" >)</text>
</g>
<g transform="translate(966.6,0) rotate(90)">
<text x="771.32" y="0.00" font-size="29.0" fill="#000" letter-spacing="0.71" >Mass of crust</text>
<text transform="translate(960.79,0.00) scale(1.119,1)" font-size="29.0" fill="#000" >(</text>
<text transform="translate(972.73,-4.50) scale(1.183,1)" font-size="19.0" fill="#000" >×</text>
<g transform="translate(988.34,0.00) scale(1.000,1)" fill="#000"><polygon points="10.82,0.00 8.21,0.00 8.21,-17.69 3.16,-14.21 3.16,-17.11 8.99,-20.76 10.82,-20.76" /><text x="18.97" y="0" font-size="29.0" letter-spacing="2.84" >0</text></g>
<text transform="translate(1023.69,-13.80) scale(0.862,1)" font-size="16.5" fill="#000" >22</text>
<text x="1038.16" y="0.00" font-size="29.0" fill="#000" letter-spacing="2.68" >kg</text>
<text transform="translate(1071.51,0.00) scale(1.119,1)" font-size="29.0" fill="#000" >)</text>
</g>
</svg></body></html>
